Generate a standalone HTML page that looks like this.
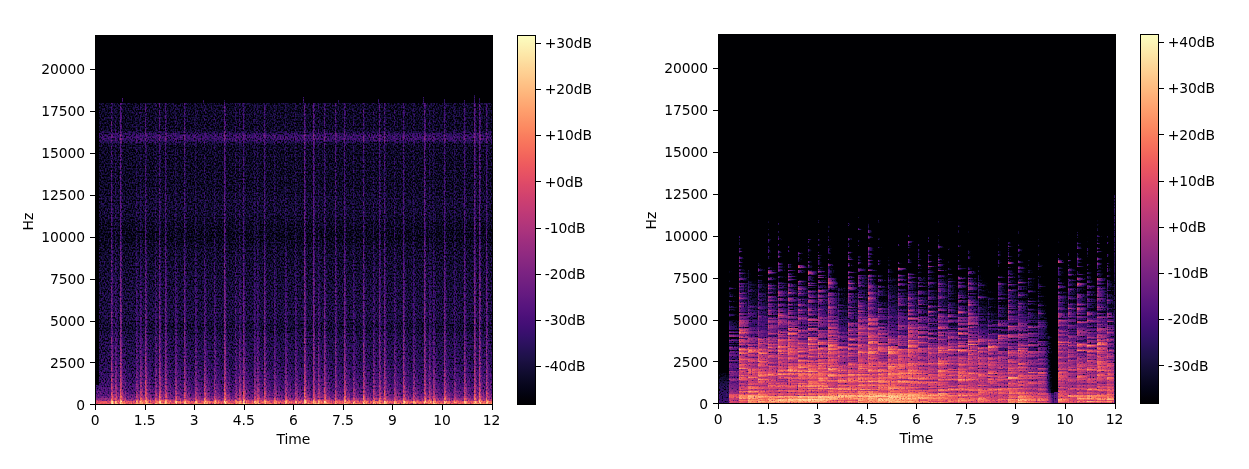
<!DOCTYPE html>
<html><head><meta charset="utf-8"><title>Spectrograms</title>
<style>html,body{margin:0;padding:0;background:#fff;overflow:hidden}svg{display:block}text{font-family:"DejaVu Sans","Liberation Sans",sans-serif;font-size:13.89px;fill:#000;letter-spacing:-0.08px}</style></head><body>
<svg width="1249" height="469" viewBox="0 0 1249 469">
<rect width="1249" height="469" fill="#fff"/>
<defs><linearGradient id="mg" x1="0" y1="1" x2="0" y2="0">
<stop offset="0.0000" stop-color="#000004"/>
<stop offset="0.0156" stop-color="#020109"/>
<stop offset="0.0312" stop-color="#030312"/>
<stop offset="0.0469" stop-color="#06051a"/>
<stop offset="0.0625" stop-color="#0a0822"/>
<stop offset="0.0781" stop-color="#0e0b2b"/>
<stop offset="0.0938" stop-color="#130d34"/>
<stop offset="0.1094" stop-color="#180f3d"/>
<stop offset="0.1250" stop-color="#1d1147"/>
<stop offset="0.1406" stop-color="#221150"/>
<stop offset="0.1562" stop-color="#29115a"/>
<stop offset="0.1719" stop-color="#2f1163"/>
<stop offset="0.1875" stop-color="#36106b"/>
<stop offset="0.2031" stop-color="#3d0f71"/>
<stop offset="0.2188" stop-color="#440f76"/>
<stop offset="0.2344" stop-color="#4a1079"/>
<stop offset="0.2500" stop-color="#51127c"/>
<stop offset="0.2656" stop-color="#57157e"/>
<stop offset="0.2812" stop-color="#5d177f"/>
<stop offset="0.2969" stop-color="#641a80"/>
<stop offset="0.3125" stop-color="#6a1c81"/>
<stop offset="0.3281" stop-color="#701f81"/>
<stop offset="0.3438" stop-color="#762181"/>
<stop offset="0.3594" stop-color="#7c2382"/>
<stop offset="0.3750" stop-color="#832681"/>
<stop offset="0.3906" stop-color="#892881"/>
<stop offset="0.4062" stop-color="#902a81"/>
<stop offset="0.4219" stop-color="#962c80"/>
<stop offset="0.4375" stop-color="#9c2e7f"/>
<stop offset="0.4531" stop-color="#a3307e"/>
<stop offset="0.4688" stop-color="#aa337d"/>
<stop offset="0.4844" stop-color="#b0357b"/>
<stop offset="0.5000" stop-color="#b73779"/>
<stop offset="0.5156" stop-color="#bd3977"/>
<stop offset="0.5312" stop-color="#c43c75"/>
<stop offset="0.5469" stop-color="#ca3e72"/>
<stop offset="0.5625" stop-color="#d0416f"/>
<stop offset="0.5781" stop-color="#d6456c"/>
<stop offset="0.5938" stop-color="#dc4869"/>
<stop offset="0.6094" stop-color="#e24d66"/>
<stop offset="0.6250" stop-color="#e75263"/>
<stop offset="0.6406" stop-color="#eb5760"/>
<stop offset="0.6562" stop-color="#ef5d5e"/>
<stop offset="0.6719" stop-color="#f2645c"/>
<stop offset="0.6875" stop-color="#f56b5c"/>
<stop offset="0.7031" stop-color="#f7725c"/>
<stop offset="0.7188" stop-color="#f9795d"/>
<stop offset="0.7344" stop-color="#fa815f"/>
<stop offset="0.7500" stop-color="#fc8961"/>
<stop offset="0.7656" stop-color="#fc9065"/>
<stop offset="0.7812" stop-color="#fd9869"/>
<stop offset="0.7969" stop-color="#fe9f6d"/>
<stop offset="0.8125" stop-color="#fea772"/>
<stop offset="0.8281" stop-color="#feae77"/>
<stop offset="0.8438" stop-color="#feb67c"/>
<stop offset="0.8594" stop-color="#febd82"/>
<stop offset="0.8750" stop-color="#fec488"/>
<stop offset="0.8906" stop-color="#fecc8f"/>
<stop offset="0.9062" stop-color="#fed395"/>
<stop offset="0.9219" stop-color="#fdda9c"/>
<stop offset="0.9375" stop-color="#fde2a3"/>
<stop offset="0.9531" stop-color="#fde9aa"/>
<stop offset="0.9688" stop-color="#fcf0b2"/>
<stop offset="0.9844" stop-color="#fcf7b9"/>
<stop offset="1.0000" stop-color="#fcfdbf"/>
</linearGradient>
<filter id="cm0" filterUnits="userSpaceOnUse" x="96" y="36" width="396" height="368" color-interpolation-filters="sRGB">
<feTurbulence type="fractalNoise" baseFrequency="0.71 0.57" numOctaves="1" seed="7" result="n"/><feColorMatrix in="n" type="matrix" values="1 0 0 0 0  1 0 0 0 0  1 0 0 0 0  0 0 0 0 1"/><feComponentTransfer result="no"><feFuncR type="table" tableValues="0.000 0.000 0.000 0.000 0.000 0.000 0.000 0.069 0.149 0.223 0.292 0.355 0.414 0.468 0.518 0.563 0.604 0.642 0.676 0.708 0.737 0.763 0.787 0.810 0.831 0.850 0.868 0.885 0.900 0.915 0.929 0.942 0.955 0.967 0.978 0.989 0.999 1.000 1.000 1.000 1.000"/><feFuncG type="table" tableValues="0.000 0.000 0.000 0.000 0.000 0.000 0.000 0.069 0.149 0.223 0.292 0.355 0.414 0.468 0.518 0.563 0.604 0.642 0.676 0.708 0.737 0.763 0.787 0.810 0.831 0.850 0.868 0.885 0.900 0.915 0.929 0.942 0.955 0.967 0.978 0.989 0.999 1.000 1.000 1.000 1.000"/><feFuncB type="table" tableValues="0.000 0.000 0.000 0.000 0.000 0.000 0.000 0.069 0.149 0.223 0.292 0.355 0.414 0.468 0.518 0.563 0.604 0.642 0.676 0.708 0.737 0.763 0.787 0.810 0.831 0.850 0.868 0.885 0.900 0.915 0.929 0.942 0.955 0.967 0.978 0.989 0.999 1.000 1.000 1.000 1.000"/></feComponentTransfer><feComposite in="SourceGraphic" in2="no" operator="arithmetic" k1="-0.0000" k2="1.1765" k3="0.5500" k4="-0.6015"/>
<feComponentTransfer><feFuncR type="table" tableValues="0.001 0.003 0.008 0.014 0.019 0.028 0.040 0.048 0.061 0.074 0.083 0.098 0.113 0.129 0.141 0.159 0.178 0.191 0.212 0.232 0.246 0.265 0.285 0.298 0.317 0.335 0.354 0.366 0.384 0.403 0.415 0.433 0.451 0.464 0.482 0.500 0.519 0.532 0.550 0.569 0.582 0.601 0.620 0.633 0.652 0.671 0.684 0.704 0.723 0.742 0.755 0.774 0.792 0.805 0.823 0.841 0.852 0.869 0.885 0.895 0.909 0.922 0.934 0.941 0.950 0.958 0.963 0.970 0.975 0.978 0.982 0.986 0.989 0.990 0.992 0.994 0.995 0.996 0.997 0.997 0.997 0.997 0.997 0.997 0.997 0.996 0.995 0.995 0.994 0.993 0.992 0.991 0.990 0.989 0.988 0.987"/><feFuncG type="table" tableValues="0.000 0.002 0.006 0.012 0.016 0.023 0.031 0.037 0.045 0.052 0.056 0.062 0.065 0.068 0.069 0.068 0.067 0.065 0.062 0.060 0.059 0.060 0.063 0.066 0.072 0.078 0.085 0.090 0.098 0.105 0.110 0.118 0.125 0.130 0.137 0.144 0.150 0.155 0.161 0.167 0.172 0.178 0.184 0.188 0.194 0.200 0.204 0.211 0.217 0.224 0.229 0.236 0.244 0.250 0.259 0.269 0.276 0.288 0.301 0.310 0.325 0.341 0.359 0.371 0.391 0.411 0.425 0.447 0.469 0.484 0.506 0.528 0.550 0.565 0.588 0.610 0.624 0.646 0.668 0.683 0.705 0.726 0.741 0.762 0.784 0.806 0.820 0.841 0.863 0.877 0.899 0.920 0.934 0.956 0.977 0.991"/><feFuncB type="table" tableValues="0.014 0.024 0.045 0.069 0.085 0.109 0.134 0.150 0.176 0.203 0.221 0.248 0.277 0.305 0.325 0.353 0.379 0.396 0.419 0.438 0.448 0.462 0.472 0.478 0.485 0.491 0.496 0.498 0.501 0.503 0.505 0.506 0.507 0.508 0.508 0.508 0.507 0.507 0.506 0.504 0.503 0.500 0.498 0.495 0.492 0.487 0.484 0.479 0.473 0.467 0.463 0.455 0.448 0.442 0.434 0.425 0.419 0.409 0.400 0.394 0.385 0.377 0.371 0.367 0.362 0.360 0.359 0.360 0.363 0.366 0.372 0.379 0.388 0.395 0.406 0.419 0.427 0.441 0.456 0.467 0.483 0.499 0.511 0.529 0.547 0.566 0.579 0.599 0.619 0.633 0.654 0.676 0.690 0.712 0.735 0.750"/><feFuncA type="linear" slope="0" intercept="1"/></feComponentTransfer>
</filter>
<clipPath id="cl0"><rect x="96" y="36" width="396" height="368"/></clipPath>
<linearGradient id="bL" gradientUnits="userSpaceOnUse" x1="0" y1="35.5" x2="0" y2="404.5">
<stop offset="0.0000" stop-color="#000000"/>
<stop offset="0.1832" stop-color="#000000"/>
<stop offset="0.1837" stop-color="#3a3a3a"/>
<stop offset="0.2571" stop-color="#3a3a3a"/>
<stop offset="0.2707" stop-color="#535353"/>
<stop offset="0.2821" stop-color="#535353"/>
<stop offset="0.2957" stop-color="#3a3a3a"/>
<stop offset="0.4104" stop-color="#3a3a3a"/>
<stop offset="0.4422" stop-color="#3e3e3e"/>
<stop offset="0.4830" stop-color="#3e3e3e"/>
<stop offset="0.5102" stop-color="#393939"/>
<stop offset="0.5465" stop-color="#353535"/>
<stop offset="0.5782" stop-color="#3c3c3c"/>
<stop offset="0.6825" stop-color="#414141"/>
<stop offset="0.7642" stop-color="#454545"/>
<stop offset="0.7914" stop-color="#3e3e3e"/>
<stop offset="0.8186" stop-color="#464646"/>
<stop offset="0.8866" stop-color="#4a4a4a"/>
<stop offset="0.9320" stop-color="#525252"/>
<stop offset="0.9637" stop-color="#5f5f5f"/>
<stop offset="0.9796" stop-color="#6e6e6e"/>
<stop offset="0.9878" stop-color="#868686"/>
<stop offset="0.9918" stop-color="#adadad"/>
<stop offset="1.0000" stop-color="#bababa"/>
</linearGradient>
<linearGradient id="sU" gradientUnits="userSpaceOnUse" x1="0" y1="35.5" x2="0" y2="404.5"><stop offset="0.0000" stop-color="#fff" stop-opacity="0.000"/><stop offset="0.1832" stop-color="#fff" stop-opacity="0.000"/><stop offset="0.1837" stop-color="#fff" stop-opacity="0.220"/><stop offset="0.9909" stop-color="#fff" stop-opacity="0.220"/><stop offset="1.0000" stop-color="#fff" stop-opacity="0.100"/></linearGradient>
<linearGradient id="sL" gradientUnits="userSpaceOnUse" x1="0" y1="35.5" x2="0" y2="404.5"><stop offset="0.0000" stop-color="#fff" stop-opacity="0.000"/><stop offset="0.4558" stop-color="#fff" stop-opacity="0.000"/><stop offset="0.5918" stop-color="#fff" stop-opacity="0.040"/><stop offset="0.6825" stop-color="#fff" stop-opacity="0.080"/><stop offset="0.8186" stop-color="#fff" stop-opacity="0.120"/><stop offset="0.9093" stop-color="#fff" stop-opacity="0.160"/><stop offset="0.9546" stop-color="#fff" stop-opacity="0.220"/><stop offset="0.9773" stop-color="#fff" stop-opacity="0.290"/><stop offset="0.9887" stop-color="#fff" stop-opacity="0.360"/><stop offset="0.9918" stop-color="#fff" stop-opacity="0.600"/><stop offset="1.0000" stop-color="#fff" stop-opacity="0.600"/></linearGradient>
<linearGradient id="sT" gradientUnits="userSpaceOnUse" x1="0" y1="35.5" x2="0" y2="404.5"><stop offset="0.0000" stop-color="#fff" stop-opacity="0.000"/><stop offset="0.7732" stop-color="#fff" stop-opacity="0.000"/><stop offset="0.8866" stop-color="#fff" stop-opacity="0.040"/><stop offset="0.9546" stop-color="#fff" stop-opacity="0.090"/><stop offset="0.9819" stop-color="#fff" stop-opacity="0.130"/><stop offset="0.9909" stop-color="#fff" stop-opacity="0.200"/><stop offset="1.0000" stop-color="#fff" stop-opacity="0.200"/></linearGradient>
<filter id="cm1" filterUnits="userSpaceOnUse" x="719" y="35" width="396" height="368" color-interpolation-filters="sRGB">
<feTurbulence type="fractalNoise" baseFrequency="0.72 0.66" numOctaves="1" seed="11" result="n"/><feColorMatrix in="n" type="matrix" values="1 0 0 0 0  1 0 0 0 0  1 0 0 0 0  0 0 0 0 1"/><feComponentTransfer result="no"><feFuncR type="table" tableValues="0.000 0.000 0.000 0.000 0.000 0.000 0.000 0.000 0.000 0.097 0.195 0.295 0.409 0.523 0.587 0.639 0.677 0.692 0.708 0.723 0.739 0.750 0.761 0.773 0.784 0.795 0.807 0.816 0.826 0.835 0.845 0.854 0.864 0.866 0.869 0.872 0.875 0.878 0.881 0.884 0.886"/><feFuncG type="table" tableValues="0.000 0.000 0.000 0.000 0.000 0.000 0.000 0.000 0.000 0.097 0.195 0.295 0.409 0.523 0.587 0.639 0.677 0.692 0.708 0.723 0.739 0.750 0.761 0.773 0.784 0.795 0.807 0.816 0.826 0.835 0.845 0.854 0.864 0.866 0.869 0.872 0.875 0.878 0.881 0.884 0.886"/><feFuncB type="table" tableValues="0.000 0.000 0.000 0.000 0.000 0.000 0.000 0.000 0.000 0.097 0.195 0.295 0.409 0.523 0.587 0.639 0.677 0.692 0.708 0.723 0.739 0.750 0.761 0.773 0.784 0.795 0.807 0.816 0.826 0.835 0.845 0.854 0.864 0.866 0.869 0.872 0.875 0.878 0.881 0.884 0.886"/></feComponentTransfer><feComposite in="SourceGraphic" in2="no" operator="arithmetic" k1="-0.1100" k2="1.2615" k3="0.5500" k4="-0.6015"/>
<feComponentTransfer><feFuncR type="table" tableValues="0.001 0.003 0.008 0.014 0.019 0.028 0.040 0.048 0.061 0.074 0.083 0.098 0.113 0.129 0.141 0.159 0.178 0.191 0.212 0.232 0.246 0.265 0.285 0.298 0.317 0.335 0.354 0.366 0.384 0.403 0.415 0.433 0.451 0.464 0.482 0.500 0.519 0.532 0.550 0.569 0.582 0.601 0.620 0.633 0.652 0.671 0.684 0.704 0.723 0.742 0.755 0.774 0.792 0.805 0.823 0.841 0.852 0.869 0.885 0.895 0.909 0.922 0.934 0.941 0.950 0.958 0.963 0.970 0.975 0.978 0.982 0.986 0.989 0.990 0.992 0.994 0.995 0.996 0.997 0.997 0.997 0.997 0.997 0.997 0.997 0.996 0.995 0.995 0.994 0.993 0.992 0.991 0.990 0.989 0.988 0.987"/><feFuncG type="table" tableValues="0.000 0.002 0.006 0.012 0.016 0.023 0.031 0.037 0.045 0.052 0.056 0.062 0.065 0.068 0.069 0.068 0.067 0.065 0.062 0.060 0.059 0.060 0.063 0.066 0.072 0.078 0.085 0.090 0.098 0.105 0.110 0.118 0.125 0.130 0.137 0.144 0.150 0.155 0.161 0.167 0.172 0.178 0.184 0.188 0.194 0.200 0.204 0.211 0.217 0.224 0.229 0.236 0.244 0.250 0.259 0.269 0.276 0.288 0.301 0.310 0.325 0.341 0.359 0.371 0.391 0.411 0.425 0.447 0.469 0.484 0.506 0.528 0.550 0.565 0.588 0.610 0.624 0.646 0.668 0.683 0.705 0.726 0.741 0.762 0.784 0.806 0.820 0.841 0.863 0.877 0.899 0.920 0.934 0.956 0.977 0.991"/><feFuncB type="table" tableValues="0.014 0.024 0.045 0.069 0.085 0.109 0.134 0.150 0.176 0.203 0.221 0.248 0.277 0.305 0.325 0.353 0.379 0.396 0.419 0.438 0.448 0.462 0.472 0.478 0.485 0.491 0.496 0.498 0.501 0.503 0.505 0.506 0.507 0.508 0.508 0.508 0.507 0.507 0.506 0.504 0.503 0.500 0.498 0.495 0.492 0.487 0.484 0.479 0.473 0.467 0.463 0.455 0.448 0.442 0.434 0.425 0.419 0.409 0.400 0.394 0.385 0.377 0.371 0.367 0.362 0.360 0.359 0.360 0.363 0.366 0.372 0.379 0.388 0.395 0.406 0.419 0.427 0.441 0.456 0.467 0.483 0.499 0.511 0.529 0.547 0.566 0.579 0.599 0.619 0.633 0.654 0.676 0.690 0.712 0.735 0.750"/><feFuncA type="linear" slope="0" intercept="1"/></feComponentTransfer>
</filter>
<clipPath id="cl1"><rect x="719" y="35" width="396" height="368"/></clipPath>
<linearGradient id="hw"><stop offset="0" stop-color="#fff" stop-opacity="1"/><stop offset="0.25" stop-color="#fff" stop-opacity="0.88"/><stop offset="1" stop-color="#fff" stop-opacity="0.58"/></linearGradient>
<linearGradient id="hx"><stop offset="0" stop-color="#fff" stop-opacity="1"/><stop offset="0.3" stop-color="#fff" stop-opacity="0.75"/><stop offset="1" stop-color="#fff" stop-opacity="0.2"/></linearGradient>
<linearGradient id="hy"><stop offset="0" stop-color="#fff" stop-opacity="1"/><stop offset="0.3" stop-color="#fff" stop-opacity="0.6"/><stop offset="0.8" stop-color="#fff" stop-opacity="0.05"/><stop offset="1" stop-color="#fff" stop-opacity="0"/></linearGradient>
<linearGradient id="hv"><stop offset="0" stop-color="#fff" stop-opacity="1"/><stop offset="1" stop-color="#fff" stop-opacity="0.6"/></linearGradient>
<linearGradient id="hk"><stop offset="0" stop-color="#000" stop-opacity="0"/><stop offset="1" stop-color="#000" stop-opacity="1"/></linearGradient>
<linearGradient id="vk" x1="0" y1="0" x2="0" y2="1"><stop offset="0" stop-color="#000" stop-opacity="1"/><stop offset="0.6" stop-color="#000" stop-opacity="0.8"/><stop offset="1" stop-color="#000" stop-opacity="0"/></linearGradient>
<linearGradient id="ri" gradientUnits="userSpaceOnUse" x1="0" y1="403.5" x2="0" y2="34.5"><stop offset="0.0000" stop-color="#565656"/><stop offset="0.0544" stop-color="#454545"/><stop offset="0.0816" stop-color="#313131"/><stop offset="0.0907" stop-color="#000000"/><stop offset="1.0000" stop-color="#000000"/></linearGradient>
<linearGradient id="r1" gradientUnits="userSpaceOnUse" x1="0" y1="403.5" x2="0" y2="34.5"><stop offset="0.0000" stop-color="#b0b0b0"/><stop offset="0.0181" stop-color="#9f9f9f"/><stop offset="0.0363" stop-color="#818181"/><stop offset="0.0680" stop-color="#6a6a6a"/><stop offset="0.1134" stop-color="#4c4c4c"/><stop offset="0.1587" stop-color="#333333"/><stop offset="0.2059" stop-color="#262626"/><stop offset="0.2550" stop-color="#171717"/><stop offset="0.3040" stop-color="#0a0a0a"/><stop offset="0.3383" stop-color="#000000"/><stop offset="0.3677" stop-color="#000000"/><stop offset="1.0000" stop-color="#000000"/></linearGradient>
<linearGradient id="r2" gradientUnits="userSpaceOnUse" x1="0" y1="403.5" x2="0" y2="34.5"><stop offset="0.0000" stop-color="#bdbdbd"/><stop offset="0.0181" stop-color="#b0b0b0"/><stop offset="0.0363" stop-color="#969696"/><stop offset="0.0680" stop-color="#868686"/><stop offset="0.1134" stop-color="#727272"/><stop offset="0.1587" stop-color="#5e5e5e"/><stop offset="0.2062" stop-color="#515151"/><stop offset="0.2559" stop-color="#424242"/><stop offset="0.3056" stop-color="#353535"/><stop offset="0.3404" stop-color="#282828"/><stop offset="0.3702" stop-color="#000000"/><stop offset="1.0000" stop-color="#000000"/></linearGradient>
<linearGradient id="r3" gradientUnits="userSpaceOnUse" x1="0" y1="403.5" x2="0" y2="34.5"><stop offset="0.0000" stop-color="#bebebe"/><stop offset="0.0181" stop-color="#b1b1b1"/><stop offset="0.0363" stop-color="#979797"/><stop offset="0.0680" stop-color="#888888"/><stop offset="0.1134" stop-color="#747474"/><stop offset="0.1587" stop-color="#616161"/><stop offset="0.2042" stop-color="#545454"/><stop offset="0.2497" stop-color="#444444"/><stop offset="0.2952" stop-color="#373737"/><stop offset="0.3270" stop-color="#2a2a2a"/><stop offset="0.3543" stop-color="#000000"/><stop offset="1.0000" stop-color="#000000"/></linearGradient>
<linearGradient id="r4" gradientUnits="userSpaceOnUse" x1="0" y1="403.5" x2="0" y2="34.5"><stop offset="0.0000" stop-color="#bfbfbf"/><stop offset="0.0181" stop-color="#b2b2b2"/><stop offset="0.0363" stop-color="#989898"/><stop offset="0.0680" stop-color="#898989"/><stop offset="0.1134" stop-color="#767676"/><stop offset="0.1587" stop-color="#636363"/><stop offset="0.2035" stop-color="#565656"/><stop offset="0.2478" stop-color="#474747"/><stop offset="0.2920" stop-color="#3a3a3a"/><stop offset="0.3230" stop-color="#2d2d2d"/><stop offset="0.3495" stop-color="#000000"/><stop offset="1.0000" stop-color="#000000"/></linearGradient>
<linearGradient id="r5" gradientUnits="userSpaceOnUse" x1="0" y1="403.5" x2="0" y2="34.5"><stop offset="0.0000" stop-color="#bdbdbd"/><stop offset="0.0181" stop-color="#b0b0b0"/><stop offset="0.0363" stop-color="#969696"/><stop offset="0.0680" stop-color="#878787"/><stop offset="0.1134" stop-color="#737373"/><stop offset="0.1587" stop-color="#5f5f5f"/><stop offset="0.2013" stop-color="#525252"/><stop offset="0.2410" stop-color="#434343"/><stop offset="0.2808" stop-color="#363636"/><stop offset="0.3086" stop-color="#292929"/><stop offset="0.3324" stop-color="#000000"/><stop offset="1.0000" stop-color="#000000"/></linearGradient>
<linearGradient id="r6" gradientUnits="userSpaceOnUse" x1="0" y1="403.5" x2="0" y2="34.5"><stop offset="0.0000" stop-color="#bdbdbd"/><stop offset="0.0181" stop-color="#b0b0b0"/><stop offset="0.0363" stop-color="#959595"/><stop offset="0.0680" stop-color="#858585"/><stop offset="0.1134" stop-color="#717171"/><stop offset="0.1587" stop-color="#5d5d5d"/><stop offset="0.2050" stop-color="#505050"/><stop offset="0.2523" stop-color="#414141"/><stop offset="0.2995" stop-color="#343434"/><stop offset="0.3326" stop-color="#272727"/><stop offset="0.3609" stop-color="#000000"/><stop offset="1.0000" stop-color="#000000"/></linearGradient>
<linearGradient id="r7" gradientUnits="userSpaceOnUse" x1="0" y1="403.5" x2="0" y2="34.5"><stop offset="0.0000" stop-color="#bebebe"/><stop offset="0.0181" stop-color="#b1b1b1"/><stop offset="0.0363" stop-color="#979797"/><stop offset="0.0680" stop-color="#878787"/><stop offset="0.1134" stop-color="#747474"/><stop offset="0.1587" stop-color="#606060"/><stop offset="0.2011" stop-color="#535353"/><stop offset="0.2404" stop-color="#444444"/><stop offset="0.2798" stop-color="#373737"/><stop offset="0.3073" stop-color="#2a2a2a"/><stop offset="0.3309" stop-color="#000000"/><stop offset="1.0000" stop-color="#000000"/></linearGradient>
<linearGradient id="r8" gradientUnits="userSpaceOnUse" x1="0" y1="403.5" x2="0" y2="34.5"><stop offset="0.0000" stop-color="#bfbfbf"/><stop offset="0.0181" stop-color="#b2b2b2"/><stop offset="0.0363" stop-color="#999999"/><stop offset="0.0680" stop-color="#8a8a8a"/><stop offset="0.1134" stop-color="#777777"/><stop offset="0.1587" stop-color="#646464"/><stop offset="0.2019" stop-color="#575757"/><stop offset="0.2428" stop-color="#484848"/><stop offset="0.2837" stop-color="#3b3b3b"/><stop offset="0.3123" stop-color="#2e2e2e"/><stop offset="0.3369" stop-color="#000000"/><stop offset="1.0000" stop-color="#000000"/></linearGradient>
<linearGradient id="r9" gradientUnits="userSpaceOnUse" x1="0" y1="403.5" x2="0" y2="34.5"><stop offset="0.0000" stop-color="#bebebe"/><stop offset="0.0181" stop-color="#b1b1b1"/><stop offset="0.0363" stop-color="#979797"/><stop offset="0.0680" stop-color="#878787"/><stop offset="0.1134" stop-color="#747474"/><stop offset="0.1587" stop-color="#606060"/><stop offset="0.2020" stop-color="#535353"/><stop offset="0.2432" stop-color="#444444"/><stop offset="0.2844" stop-color="#373737"/><stop offset="0.3133" stop-color="#2a2a2a"/><stop offset="0.3380" stop-color="#000000"/><stop offset="1.0000" stop-color="#000000"/></linearGradient>
<linearGradient id="r10" gradientUnits="userSpaceOnUse" x1="0" y1="403.5" x2="0" y2="34.5"><stop offset="0.0000" stop-color="#bebebe"/><stop offset="0.0181" stop-color="#b1b1b1"/><stop offset="0.0363" stop-color="#989898"/><stop offset="0.0680" stop-color="#898989"/><stop offset="0.1134" stop-color="#757575"/><stop offset="0.1587" stop-color="#626262"/><stop offset="0.2039" stop-color="#555555"/><stop offset="0.2490" stop-color="#464646"/><stop offset="0.2941" stop-color="#393939"/><stop offset="0.3257" stop-color="#2c2c2c"/><stop offset="0.3527" stop-color="#000000"/><stop offset="1.0000" stop-color="#000000"/></linearGradient>
<linearGradient id="r11" gradientUnits="userSpaceOnUse" x1="0" y1="403.5" x2="0" y2="34.5"><stop offset="0.0000" stop-color="#bebebe"/><stop offset="0.0181" stop-color="#b1b1b1"/><stop offset="0.0363" stop-color="#979797"/><stop offset="0.0680" stop-color="#888888"/><stop offset="0.1134" stop-color="#757575"/><stop offset="0.1587" stop-color="#626262"/><stop offset="0.2018" stop-color="#555555"/><stop offset="0.2426" stop-color="#454545"/><stop offset="0.2834" stop-color="#383838"/><stop offset="0.3120" stop-color="#2b2b2b"/><stop offset="0.3365" stop-color="#000000"/><stop offset="1.0000" stop-color="#000000"/></linearGradient>
<linearGradient id="r12" gradientUnits="userSpaceOnUse" x1="0" y1="403.5" x2="0" y2="34.5"><stop offset="0.0000" stop-color="#bdbdbd"/><stop offset="0.0181" stop-color="#b0b0b0"/><stop offset="0.0363" stop-color="#969696"/><stop offset="0.0680" stop-color="#878787"/><stop offset="0.1134" stop-color="#737373"/><stop offset="0.1587" stop-color="#5f5f5f"/><stop offset="0.2017" stop-color="#525252"/><stop offset="0.2424" stop-color="#434343"/><stop offset="0.2830" stop-color="#363636"/><stop offset="0.3114" stop-color="#292929"/><stop offset="0.3358" stop-color="#000000"/><stop offset="1.0000" stop-color="#000000"/></linearGradient>
<linearGradient id="r13" gradientUnits="userSpaceOnUse" x1="0" y1="403.5" x2="0" y2="34.5"><stop offset="0.0000" stop-color="#bebebe"/><stop offset="0.0181" stop-color="#b0b0b0"/><stop offset="0.0363" stop-color="#969696"/><stop offset="0.0680" stop-color="#878787"/><stop offset="0.1134" stop-color="#737373"/><stop offset="0.1587" stop-color="#5f5f5f"/><stop offset="0.2010" stop-color="#525252"/><stop offset="0.2401" stop-color="#434343"/><stop offset="0.2793" stop-color="#363636"/><stop offset="0.3067" stop-color="#292929"/><stop offset="0.3302" stop-color="#000000"/><stop offset="1.0000" stop-color="#000000"/></linearGradient>
<linearGradient id="r14" gradientUnits="userSpaceOnUse" x1="0" y1="403.5" x2="0" y2="34.5"><stop offset="0.0000" stop-color="#bdbdbd"/><stop offset="0.0181" stop-color="#b0b0b0"/><stop offset="0.0363" stop-color="#969696"/><stop offset="0.0680" stop-color="#868686"/><stop offset="0.1134" stop-color="#727272"/><stop offset="0.1587" stop-color="#5e5e5e"/><stop offset="0.2066" stop-color="#515151"/><stop offset="0.2569" stop-color="#424242"/><stop offset="0.3072" stop-color="#353535"/><stop offset="0.3424" stop-color="#282828"/><stop offset="0.3726" stop-color="#000000"/><stop offset="1.0000" stop-color="#000000"/></linearGradient>
<linearGradient id="r15" gradientUnits="userSpaceOnUse" x1="0" y1="403.5" x2="0" y2="34.5"><stop offset="0.0000" stop-color="#bfbfbf"/><stop offset="0.0181" stop-color="#b3b3b3"/><stop offset="0.0363" stop-color="#999999"/><stop offset="0.0680" stop-color="#8a8a8a"/><stop offset="0.1134" stop-color="#787878"/><stop offset="0.1587" stop-color="#656565"/><stop offset="0.2013" stop-color="#585858"/><stop offset="0.2410" stop-color="#494949"/><stop offset="0.2808" stop-color="#3c3c3c"/><stop offset="0.3086" stop-color="#2f2f2f"/><stop offset="0.3325" stop-color="#000000"/><stop offset="1.0000" stop-color="#000000"/></linearGradient>
<linearGradient id="r16" gradientUnits="userSpaceOnUse" x1="0" y1="403.5" x2="0" y2="34.5"><stop offset="0.0000" stop-color="#bdbdbd"/><stop offset="0.0181" stop-color="#afafaf"/><stop offset="0.0363" stop-color="#959595"/><stop offset="0.0680" stop-color="#858585"/><stop offset="0.1134" stop-color="#717171"/><stop offset="0.1587" stop-color="#5d5d5d"/><stop offset="0.2014" stop-color="#505050"/><stop offset="0.2414" stop-color="#404040"/><stop offset="0.2813" stop-color="#333333"/><stop offset="0.3093" stop-color="#262626"/><stop offset="0.3333" stop-color="#000000"/><stop offset="1.0000" stop-color="#000000"/></linearGradient>
<linearGradient id="r17" gradientUnits="userSpaceOnUse" x1="0" y1="403.5" x2="0" y2="34.5"><stop offset="0.0000" stop-color="#bebebe"/><stop offset="0.0181" stop-color="#b2b2b2"/><stop offset="0.0363" stop-color="#989898"/><stop offset="0.0680" stop-color="#898989"/><stop offset="0.1134" stop-color="#767676"/><stop offset="0.1587" stop-color="#636363"/><stop offset="0.2053" stop-color="#565656"/><stop offset="0.2531" stop-color="#464646"/><stop offset="0.3009" stop-color="#393939"/><stop offset="0.3343" stop-color="#2c2c2c"/><stop offset="0.3630" stop-color="#000000"/><stop offset="1.0000" stop-color="#000000"/></linearGradient>
<linearGradient id="r18" gradientUnits="userSpaceOnUse" x1="0" y1="403.5" x2="0" y2="34.5"><stop offset="0.0000" stop-color="#bdbdbd"/><stop offset="0.0181" stop-color="#afafaf"/><stop offset="0.0363" stop-color="#959595"/><stop offset="0.0680" stop-color="#858585"/><stop offset="0.1134" stop-color="#717171"/><stop offset="0.1587" stop-color="#5d5d5d"/><stop offset="0.2039" stop-color="#505050"/><stop offset="0.2490" stop-color="#404040"/><stop offset="0.2940" stop-color="#333333"/><stop offset="0.3256" stop-color="#262626"/><stop offset="0.3526" stop-color="#000000"/><stop offset="1.0000" stop-color="#000000"/></linearGradient>
<linearGradient id="r19" gradientUnits="userSpaceOnUse" x1="0" y1="403.5" x2="0" y2="34.5"><stop offset="0.0000" stop-color="#bdbdbd"/><stop offset="0.0181" stop-color="#afafaf"/><stop offset="0.0363" stop-color="#959595"/><stop offset="0.0680" stop-color="#858585"/><stop offset="0.1134" stop-color="#707070"/><stop offset="0.1587" stop-color="#5c5c5c"/><stop offset="0.2035" stop-color="#4f4f4f"/><stop offset="0.2477" stop-color="#404040"/><stop offset="0.2919" stop-color="#333333"/><stop offset="0.3229" stop-color="#262626"/><stop offset="0.3494" stop-color="#000000"/><stop offset="1.0000" stop-color="#000000"/></linearGradient>
<linearGradient id="r20" gradientUnits="userSpaceOnUse" x1="0" y1="403.5" x2="0" y2="34.5"><stop offset="0.0000" stop-color="#bababa"/><stop offset="0.0181" stop-color="#acacac"/><stop offset="0.0363" stop-color="#919191"/><stop offset="0.0680" stop-color="#808080"/><stop offset="0.1134" stop-color="#6a6a6a"/><stop offset="0.1587" stop-color="#555555"/><stop offset="0.2067" stop-color="#484848"/><stop offset="0.2573" stop-color="#393939"/><stop offset="0.3079" stop-color="#2c2c2c"/><stop offset="0.3433" stop-color="#1f1f1f"/><stop offset="0.3737" stop-color="#000000"/><stop offset="1.0000" stop-color="#000000"/></linearGradient>
<linearGradient id="r21" gradientUnits="userSpaceOnUse" x1="0" y1="403.5" x2="0" y2="34.5"><stop offset="0.0000" stop-color="#b9b9b9"/><stop offset="0.0181" stop-color="#ababab"/><stop offset="0.0363" stop-color="#909090"/><stop offset="0.0680" stop-color="#7e7e7e"/><stop offset="0.1134" stop-color="#676767"/><stop offset="0.1587" stop-color="#525252"/><stop offset="0.2055" stop-color="#454545"/><stop offset="0.2536" stop-color="#363636"/><stop offset="0.3017" stop-color="#282828"/><stop offset="0.3353" stop-color="#1b1b1b"/><stop offset="0.3642" stop-color="#000000"/><stop offset="1.0000" stop-color="#000000"/></linearGradient>
<linearGradient id="r22" gradientUnits="userSpaceOnUse" x1="0" y1="403.5" x2="0" y2="34.5"><stop offset="0.0000" stop-color="#bbbbbb"/><stop offset="0.0181" stop-color="#adadad"/><stop offset="0.0363" stop-color="#929292"/><stop offset="0.0680" stop-color="#818181"/><stop offset="0.1134" stop-color="#6c6c6c"/><stop offset="0.1587" stop-color="#575757"/><stop offset="0.2063" stop-color="#4a4a4a"/><stop offset="0.2560" stop-color="#3b3b3b"/><stop offset="0.3058" stop-color="#2e2e2e"/><stop offset="0.3406" stop-color="#212121"/><stop offset="0.3704" stop-color="#000000"/><stop offset="1.0000" stop-color="#000000"/></linearGradient>
<linearGradient id="r23" gradientUnits="userSpaceOnUse" x1="0" y1="403.5" x2="0" y2="34.5"><stop offset="0.0000" stop-color="#b9b9b9"/><stop offset="0.0181" stop-color="#aaaaaa"/><stop offset="0.0363" stop-color="#8f8f8f"/><stop offset="0.0680" stop-color="#7d7d7d"/><stop offset="0.1134" stop-color="#656565"/><stop offset="0.1587" stop-color="#4f4f4f"/><stop offset="0.2032" stop-color="#424242"/><stop offset="0.2468" stop-color="#333333"/><stop offset="0.2903" stop-color="#262626"/><stop offset="0.3208" stop-color="#191919"/><stop offset="0.3470" stop-color="#000000"/><stop offset="1.0000" stop-color="#000000"/></linearGradient>
<linearGradient id="r24" gradientUnits="userSpaceOnUse" x1="0" y1="403.5" x2="0" y2="34.5"><stop offset="0.0000" stop-color="#bbbbbb"/><stop offset="0.0181" stop-color="#adadad"/><stop offset="0.0363" stop-color="#939393"/><stop offset="0.0680" stop-color="#828282"/><stop offset="0.1134" stop-color="#6c6c6c"/><stop offset="0.1587" stop-color="#585858"/><stop offset="0.2027" stop-color="#4b4b4b"/><stop offset="0.2453" stop-color="#3c3c3c"/><stop offset="0.2879" stop-color="#2f2f2f"/><stop offset="0.3178" stop-color="#222222"/><stop offset="0.3433" stop-color="#000000"/><stop offset="1.0000" stop-color="#000000"/></linearGradient>
<linearGradient id="r25" gradientUnits="userSpaceOnUse" x1="0" y1="403.5" x2="0" y2="34.5"><stop offset="0.0000" stop-color="#bbbbbb"/><stop offset="0.0181" stop-color="#adadad"/><stop offset="0.0363" stop-color="#929292"/><stop offset="0.0680" stop-color="#818181"/><stop offset="0.1134" stop-color="#6b6b6b"/><stop offset="0.1587" stop-color="#565656"/><stop offset="0.2037" stop-color="#494949"/><stop offset="0.2483" stop-color="#3a3a3a"/><stop offset="0.2930" stop-color="#2d2d2d"/><stop offset="0.3242" stop-color="#202020"/><stop offset="0.3510" stop-color="#000000"/><stop offset="1.0000" stop-color="#000000"/></linearGradient>
<linearGradient id="r26" gradientUnits="userSpaceOnUse" x1="0" y1="403.5" x2="0" y2="34.5"><stop offset="0.0000" stop-color="#bbbbbb"/><stop offset="0.0181" stop-color="#adadad"/><stop offset="0.0363" stop-color="#929292"/><stop offset="0.0680" stop-color="#818181"/><stop offset="0.1134" stop-color="#6b6b6b"/><stop offset="0.1587" stop-color="#565656"/><stop offset="0.2033" stop-color="#494949"/><stop offset="0.2471" stop-color="#3a3a3a"/><stop offset="0.2909" stop-color="#2d2d2d"/><stop offset="0.3215" stop-color="#202020"/><stop offset="0.3478" stop-color="#000000"/><stop offset="1.0000" stop-color="#000000"/></linearGradient>
<linearGradient id="r27" gradientUnits="userSpaceOnUse" x1="0" y1="403.5" x2="0" y2="34.5"><stop offset="0.0000" stop-color="#b9b9b9"/><stop offset="0.0181" stop-color="#aaaaaa"/><stop offset="0.0363" stop-color="#8f8f8f"/><stop offset="0.0680" stop-color="#7d7d7d"/><stop offset="0.1134" stop-color="#656565"/><stop offset="0.1587" stop-color="#505050"/><stop offset="0.2006" stop-color="#434343"/><stop offset="0.2390" stop-color="#343434"/><stop offset="0.2773" stop-color="#272727"/><stop offset="0.3042" stop-color="#191919"/><stop offset="0.3272" stop-color="#000000"/><stop offset="1.0000" stop-color="#000000"/></linearGradient>
<linearGradient id="r28" gradientUnits="userSpaceOnUse" x1="0" y1="403.5" x2="0" y2="34.5"><stop offset="0.0000" stop-color="#b9b9b9"/><stop offset="0.0181" stop-color="#ababab"/><stop offset="0.0363" stop-color="#8f8f8f"/><stop offset="0.0680" stop-color="#7d7d7d"/><stop offset="0.1134" stop-color="#666666"/><stop offset="0.1587" stop-color="#505050"/><stop offset="0.2017" stop-color="#434343"/><stop offset="0.2423" stop-color="#343434"/><stop offset="0.2829" stop-color="#272727"/><stop offset="0.3113" stop-color="#1a1a1a"/><stop offset="0.3357" stop-color="#000000"/><stop offset="1.0000" stop-color="#000000"/></linearGradient>
<linearGradient id="r29" gradientUnits="userSpaceOnUse" x1="0" y1="403.5" x2="0" y2="34.5"><stop offset="0.0000" stop-color="#bbbbbb"/><stop offset="0.0181" stop-color="#adadad"/><stop offset="0.0363" stop-color="#939393"/><stop offset="0.0680" stop-color="#828282"/><stop offset="0.1134" stop-color="#6c6c6c"/><stop offset="0.1587" stop-color="#585858"/><stop offset="0.2043" stop-color="#4b4b4b"/><stop offset="0.2501" stop-color="#3c3c3c"/><stop offset="0.2959" stop-color="#2f2f2f"/><stop offset="0.3279" stop-color="#222222"/><stop offset="0.3554" stop-color="#000000"/><stop offset="1.0000" stop-color="#000000"/></linearGradient>
<linearGradient id="r30" gradientUnits="userSpaceOnUse" x1="0" y1="403.5" x2="0" y2="34.5"><stop offset="0.0000" stop-color="#bababa"/><stop offset="0.0181" stop-color="#ababab"/><stop offset="0.0363" stop-color="#909090"/><stop offset="0.0680" stop-color="#7e7e7e"/><stop offset="0.1134" stop-color="#676767"/><stop offset="0.1587" stop-color="#525252"/><stop offset="0.2039" stop-color="#454545"/><stop offset="0.2487" stop-color="#363636"/><stop offset="0.2936" stop-color="#292929"/><stop offset="0.3251" stop-color="#1c1c1c"/><stop offset="0.3520" stop-color="#000000"/><stop offset="1.0000" stop-color="#000000"/></linearGradient>
<linearGradient id="r31" gradientUnits="userSpaceOnUse" x1="0" y1="403.5" x2="0" y2="34.5"><stop offset="0.0000" stop-color="#b5b5b5"/><stop offset="0.0181" stop-color="#a5a5a5"/><stop offset="0.0363" stop-color="#898989"/><stop offset="0.0680" stop-color="#757575"/><stop offset="0.1134" stop-color="#5b5b5b"/><stop offset="0.1587" stop-color="#444444"/><stop offset="0.2055" stop-color="#373737"/><stop offset="0.2538" stop-color="#272727"/><stop offset="0.3020" stop-color="#1a1a1a"/><stop offset="0.3358" stop-color="#0d0d0d"/><stop offset="0.3647" stop-color="#000000"/><stop offset="1.0000" stop-color="#000000"/></linearGradient>
<linearGradient id="r32" gradientUnits="userSpaceOnUse" x1="0" y1="403.5" x2="0" y2="34.5"><stop offset="0.0000" stop-color="#b1b1b1"/><stop offset="0.0181" stop-color="#a1a1a1"/><stop offset="0.0363" stop-color="#838383"/><stop offset="0.0680" stop-color="#6d6d6d"/><stop offset="0.1134" stop-color="#4f4f4f"/><stop offset="0.1587" stop-color="#373737"/><stop offset="0.2062" stop-color="#2a2a2a"/><stop offset="0.2558" stop-color="#1b1b1b"/><stop offset="0.3054" stop-color="#0e0e0e"/><stop offset="0.3401" stop-color="#010101"/><stop offset="0.3699" stop-color="#000000"/><stop offset="1.0000" stop-color="#000000"/></linearGradient>
<linearGradient id="r33" gradientUnits="userSpaceOnUse" x1="0" y1="403.5" x2="0" y2="34.5"><stop offset="0.0000" stop-color="#ababab"/><stop offset="0.0181" stop-color="#999999"/><stop offset="0.0363" stop-color="#797979"/><stop offset="0.0680" stop-color="#5f5f5f"/><stop offset="0.1134" stop-color="#3d3d3d"/><stop offset="0.1587" stop-color="#232323"/><stop offset="0.2006" stop-color="#161616"/><stop offset="0.2391" stop-color="#060606"/><stop offset="0.2776" stop-color="#000000"/><stop offset="0.3045" stop-color="#000000"/><stop offset="0.3276" stop-color="#000000"/><stop offset="1.0000" stop-color="#000000"/></linearGradient>
<linearGradient id="r34" gradientUnits="userSpaceOnUse" x1="0" y1="403.5" x2="0" y2="34.5"><stop offset="0.0000" stop-color="#bababa"/><stop offset="0.0181" stop-color="#acacac"/><stop offset="0.0363" stop-color="#919191"/><stop offset="0.0680" stop-color="#808080"/><stop offset="0.1134" stop-color="#6a6a6a"/><stop offset="0.1587" stop-color="#555555"/><stop offset="0.2002" stop-color="#484848"/><stop offset="0.2379" stop-color="#393939"/><stop offset="0.2756" stop-color="#2c2c2c"/><stop offset="0.3020" stop-color="#1f1f1f"/><stop offset="0.3246" stop-color="#000000"/><stop offset="1.0000" stop-color="#000000"/></linearGradient>
<linearGradient id="r35" gradientUnits="userSpaceOnUse" x1="0" y1="403.5" x2="0" y2="34.5"><stop offset="0.0000" stop-color="#bbbbbb"/><stop offset="0.0181" stop-color="#adadad"/><stop offset="0.0363" stop-color="#929292"/><stop offset="0.0680" stop-color="#818181"/><stop offset="0.1134" stop-color="#6b6b6b"/><stop offset="0.1587" stop-color="#565656"/><stop offset="0.2054" stop-color="#494949"/><stop offset="0.2534" stop-color="#3a3a3a"/><stop offset="0.3015" stop-color="#2d2d2d"/><stop offset="0.3351" stop-color="#202020"/><stop offset="0.3639" stop-color="#000000"/><stop offset="1.0000" stop-color="#000000"/></linearGradient>
<linearGradient id="r36" gradientUnits="userSpaceOnUse" x1="0" y1="403.5" x2="0" y2="34.5"><stop offset="0.0000" stop-color="#bababa"/><stop offset="0.0181" stop-color="#ababab"/><stop offset="0.0363" stop-color="#909090"/><stop offset="0.0680" stop-color="#7e7e7e"/><stop offset="0.1134" stop-color="#676767"/><stop offset="0.1587" stop-color="#525252"/><stop offset="0.2013" stop-color="#454545"/><stop offset="0.2410" stop-color="#363636"/><stop offset="0.2808" stop-color="#292929"/><stop offset="0.3086" stop-color="#1c1c1c"/><stop offset="0.3325" stop-color="#000000"/><stop offset="1.0000" stop-color="#000000"/></linearGradient>
<linearGradient id="r37" gradientUnits="userSpaceOnUse" x1="0" y1="403.5" x2="0" y2="34.5"><stop offset="0.0000" stop-color="#bababa"/><stop offset="0.0181" stop-color="#acacac"/><stop offset="0.0363" stop-color="#919191"/><stop offset="0.0680" stop-color="#808080"/><stop offset="0.1134" stop-color="#6a6a6a"/><stop offset="0.1587" stop-color="#555555"/><stop offset="0.2017" stop-color="#484848"/><stop offset="0.2422" stop-color="#393939"/><stop offset="0.2827" stop-color="#2c2c2c"/><stop offset="0.3110" stop-color="#1f1f1f"/><stop offset="0.3354" stop-color="#000000"/><stop offset="1.0000" stop-color="#000000"/></linearGradient>
<linearGradient id="r38" gradientUnits="userSpaceOnUse" x1="0" y1="403.5" x2="0" y2="34.5"><stop offset="0.0000" stop-color="#bbbbbb"/><stop offset="0.0181" stop-color="#aeaeae"/><stop offset="0.0363" stop-color="#939393"/><stop offset="0.0680" stop-color="#828282"/><stop offset="0.1134" stop-color="#6d6d6d"/><stop offset="0.1587" stop-color="#585858"/><stop offset="0.2024" stop-color="#4b4b4b"/><stop offset="0.2444" stop-color="#3c3c3c"/><stop offset="0.2864" stop-color="#2f2f2f"/><stop offset="0.3157" stop-color="#222222"/><stop offset="0.3409" stop-color="#000000"/><stop offset="1.0000" stop-color="#000000"/></linearGradient>
<linearGradient id="r39" gradientUnits="userSpaceOnUse" x1="0" y1="403.5" x2="0" y2="34.5"><stop offset="0.0000" stop-color="#bbbbbb"/><stop offset="0.0181" stop-color="#adadad"/><stop offset="0.0363" stop-color="#929292"/><stop offset="0.0680" stop-color="#828282"/><stop offset="0.1134" stop-color="#6c6c6c"/><stop offset="0.1587" stop-color="#575757"/><stop offset="0.2034" stop-color="#4a4a4a"/><stop offset="0.2473" stop-color="#3b3b3b"/><stop offset="0.2912" stop-color="#2e2e2e"/><stop offset="0.3219" stop-color="#212121"/><stop offset="0.3482" stop-color="#000000"/><stop offset="1.0000" stop-color="#000000"/></linearGradient>
</defs>
<rect x="95.5" y="35.5" width="397" height="369" fill="#000004"/>
<g filter="url(#cm0)"><g clip-path="url(#cl0)" shape-rendering="crispEdges">
<rect x="96" y="36" width="396" height="368" fill="#000"/>
<rect x="96" y="36" width="396" height="368" fill="url(#bL)"/>
<rect x="111" y="36" width="1" height="368" fill="url(#sU)" opacity="0.75"/>
<rect x="112" y="36" width="1" height="368" fill="url(#sU)" opacity="0.26"/>
<rect x="111" y="36" width="2" height="368" fill="url(#sL)" opacity="1.00"/>
<rect x="113" y="36" width="1" height="368" fill="url(#sL)" opacity="0.35"/>
<rect x="111" y="36" width="6" height="368" fill="url(#sT)" opacity="1.00"/>
<rect x="115" y="36" width="1" height="368" fill="url(#sU)" opacity="0.30"/>
<rect x="116" y="36" width="1" height="368" fill="url(#sU)" opacity="0.10"/>
<rect x="115" y="36" width="2" height="368" fill="url(#sL)" opacity="0.60"/>
<rect x="117" y="36" width="1" height="368" fill="url(#sL)" opacity="0.21"/>
<rect x="115" y="36" width="6" height="368" fill="url(#sT)" opacity="0.60"/>
<rect x="120" y="36" width="1" height="368" fill="url(#sU)" opacity="1.50"/>
<rect x="121" y="36" width="1" height="368" fill="url(#sU)" opacity="0.52"/>
<rect x="120" y="36" width="2" height="368" fill="url(#sL)" opacity="1.00"/>
<rect x="122" y="36" width="1" height="368" fill="url(#sL)" opacity="0.35"/>
<rect x="120" y="36" width="6" height="368" fill="url(#sT)" opacity="1.00"/>
<rect x="136" y="36" width="1" height="368" fill="url(#sU)" opacity="0.30"/>
<rect x="137" y="36" width="1" height="368" fill="url(#sU)" opacity="0.10"/>
<rect x="136" y="36" width="2" height="368" fill="url(#sL)" opacity="0.60"/>
<rect x="138" y="36" width="1" height="368" fill="url(#sL)" opacity="0.21"/>
<rect x="136" y="36" width="6" height="368" fill="url(#sT)" opacity="0.60"/>
<rect x="140" y="36" width="1" height="368" fill="url(#sU)" opacity="0.30"/>
<rect x="141" y="36" width="1" height="368" fill="url(#sU)" opacity="0.10"/>
<rect x="140" y="36" width="2" height="368" fill="url(#sL)" opacity="0.80"/>
<rect x="142" y="36" width="1" height="368" fill="url(#sL)" opacity="0.28"/>
<rect x="140" y="36" width="6" height="368" fill="url(#sT)" opacity="0.80"/>
<rect x="145" y="36" width="1" height="368" fill="url(#sU)" opacity="0.75"/>
<rect x="146" y="36" width="1" height="368" fill="url(#sU)" opacity="0.26"/>
<rect x="145" y="36" width="2" height="368" fill="url(#sL)" opacity="1.00"/>
<rect x="147" y="36" width="1" height="368" fill="url(#sL)" opacity="0.35"/>
<rect x="145" y="36" width="6" height="368" fill="url(#sT)" opacity="1.00"/>
<rect x="155" y="36" width="1" height="368" fill="url(#sU)" opacity="0.30"/>
<rect x="156" y="36" width="1" height="368" fill="url(#sU)" opacity="0.10"/>
<rect x="155" y="36" width="2" height="368" fill="url(#sL)" opacity="0.60"/>
<rect x="157" y="36" width="1" height="368" fill="url(#sL)" opacity="0.21"/>
<rect x="155" y="36" width="6" height="368" fill="url(#sT)" opacity="0.60"/>
<rect x="159" y="36" width="1" height="368" fill="url(#sU)" opacity="0.75"/>
<rect x="160" y="36" width="1" height="368" fill="url(#sU)" opacity="0.26"/>
<rect x="159" y="36" width="2" height="368" fill="url(#sL)" opacity="0.90"/>
<rect x="161" y="36" width="1" height="368" fill="url(#sL)" opacity="0.32"/>
<rect x="159" y="36" width="6" height="368" fill="url(#sT)" opacity="0.90"/>
<rect x="165" y="36" width="1" height="368" fill="url(#sU)" opacity="0.75"/>
<rect x="166" y="36" width="1" height="368" fill="url(#sU)" opacity="0.26"/>
<rect x="165" y="36" width="2" height="368" fill="url(#sL)" opacity="0.80"/>
<rect x="167" y="36" width="1" height="368" fill="url(#sL)" opacity="0.28"/>
<rect x="165" y="36" width="6" height="368" fill="url(#sT)" opacity="0.80"/>
<rect x="175" y="36" width="1" height="368" fill="url(#sU)" opacity="0.30"/>
<rect x="176" y="36" width="1" height="368" fill="url(#sU)" opacity="0.10"/>
<rect x="175" y="36" width="2" height="368" fill="url(#sL)" opacity="0.80"/>
<rect x="177" y="36" width="1" height="368" fill="url(#sL)" opacity="0.28"/>
<rect x="175" y="36" width="6" height="368" fill="url(#sT)" opacity="0.80"/>
<rect x="184" y="36" width="1" height="368" fill="url(#sU)" opacity="0.75"/>
<rect x="185" y="36" width="1" height="368" fill="url(#sU)" opacity="0.26"/>
<rect x="184" y="36" width="2" height="368" fill="url(#sL)" opacity="0.80"/>
<rect x="186" y="36" width="1" height="368" fill="url(#sL)" opacity="0.28"/>
<rect x="184" y="36" width="6" height="368" fill="url(#sT)" opacity="0.80"/>
<rect x="195" y="36" width="1" height="368" fill="url(#sU)" opacity="0.30"/>
<rect x="196" y="36" width="1" height="368" fill="url(#sU)" opacity="0.10"/>
<rect x="195" y="36" width="2" height="368" fill="url(#sL)" opacity="0.70"/>
<rect x="197" y="36" width="1" height="368" fill="url(#sL)" opacity="0.24"/>
<rect x="195" y="36" width="6" height="368" fill="url(#sT)" opacity="0.70"/>
<rect x="204" y="36" width="1" height="368" fill="url(#sU)" opacity="0.30"/>
<rect x="205" y="36" width="1" height="368" fill="url(#sU)" opacity="0.10"/>
<rect x="204" y="36" width="2" height="368" fill="url(#sL)" opacity="1.00"/>
<rect x="206" y="36" width="1" height="368" fill="url(#sL)" opacity="0.35"/>
<rect x="204" y="36" width="6" height="368" fill="url(#sT)" opacity="1.00"/>
<rect x="214" y="36" width="1" height="368" fill="url(#sU)" opacity="0.30"/>
<rect x="215" y="36" width="1" height="368" fill="url(#sU)" opacity="0.10"/>
<rect x="214" y="36" width="2" height="368" fill="url(#sL)" opacity="0.70"/>
<rect x="216" y="36" width="1" height="368" fill="url(#sL)" opacity="0.24"/>
<rect x="214" y="36" width="6" height="368" fill="url(#sT)" opacity="0.70"/>
<rect x="224" y="36" width="1" height="368" fill="url(#sU)" opacity="1.50"/>
<rect x="225" y="36" width="1" height="368" fill="url(#sU)" opacity="0.52"/>
<rect x="224" y="36" width="2" height="368" fill="url(#sL)" opacity="1.00"/>
<rect x="226" y="36" width="1" height="368" fill="url(#sL)" opacity="0.35"/>
<rect x="224" y="36" width="6" height="368" fill="url(#sT)" opacity="1.00"/>
<rect x="235" y="36" width="1" height="368" fill="url(#sU)" opacity="0.30"/>
<rect x="236" y="36" width="1" height="368" fill="url(#sU)" opacity="0.10"/>
<rect x="235" y="36" width="2" height="368" fill="url(#sL)" opacity="0.50"/>
<rect x="237" y="36" width="1" height="368" fill="url(#sL)" opacity="0.17"/>
<rect x="235" y="36" width="6" height="368" fill="url(#sT)" opacity="0.50"/>
<rect x="239" y="36" width="1" height="368" fill="url(#sU)" opacity="0.30"/>
<rect x="240" y="36" width="1" height="368" fill="url(#sU)" opacity="0.10"/>
<rect x="239" y="36" width="2" height="368" fill="url(#sL)" opacity="0.70"/>
<rect x="241" y="36" width="1" height="368" fill="url(#sL)" opacity="0.24"/>
<rect x="239" y="36" width="6" height="368" fill="url(#sT)" opacity="0.70"/>
<rect x="243" y="36" width="1" height="368" fill="url(#sU)" opacity="0.75"/>
<rect x="244" y="36" width="1" height="368" fill="url(#sU)" opacity="0.26"/>
<rect x="243" y="36" width="2" height="368" fill="url(#sL)" opacity="0.80"/>
<rect x="245" y="36" width="1" height="368" fill="url(#sL)" opacity="0.28"/>
<rect x="243" y="36" width="6" height="368" fill="url(#sT)" opacity="0.80"/>
<rect x="254" y="36" width="1" height="368" fill="url(#sU)" opacity="0.30"/>
<rect x="255" y="36" width="1" height="368" fill="url(#sU)" opacity="0.10"/>
<rect x="254" y="36" width="2" height="368" fill="url(#sL)" opacity="0.70"/>
<rect x="256" y="36" width="1" height="368" fill="url(#sL)" opacity="0.24"/>
<rect x="254" y="36" width="6" height="368" fill="url(#sT)" opacity="0.70"/>
<rect x="257" y="36" width="1" height="368" fill="url(#sU)" opacity="0.30"/>
<rect x="258" y="36" width="1" height="368" fill="url(#sU)" opacity="0.10"/>
<rect x="257" y="36" width="2" height="368" fill="url(#sL)" opacity="0.60"/>
<rect x="259" y="36" width="1" height="368" fill="url(#sL)" opacity="0.21"/>
<rect x="257" y="36" width="6" height="368" fill="url(#sT)" opacity="0.60"/>
<rect x="264" y="36" width="1" height="368" fill="url(#sU)" opacity="0.75"/>
<rect x="265" y="36" width="1" height="368" fill="url(#sU)" opacity="0.26"/>
<rect x="264" y="36" width="2" height="368" fill="url(#sL)" opacity="0.80"/>
<rect x="266" y="36" width="1" height="368" fill="url(#sL)" opacity="0.28"/>
<rect x="264" y="36" width="6" height="368" fill="url(#sT)" opacity="0.80"/>
<rect x="274" y="36" width="1" height="368" fill="url(#sU)" opacity="0.30"/>
<rect x="275" y="36" width="1" height="368" fill="url(#sU)" opacity="0.10"/>
<rect x="274" y="36" width="2" height="368" fill="url(#sL)" opacity="0.60"/>
<rect x="276" y="36" width="1" height="368" fill="url(#sL)" opacity="0.21"/>
<rect x="274" y="36" width="6" height="368" fill="url(#sT)" opacity="0.60"/>
<rect x="285" y="36" width="1" height="368" fill="url(#sU)" opacity="0.30"/>
<rect x="286" y="36" width="1" height="368" fill="url(#sU)" opacity="0.10"/>
<rect x="285" y="36" width="2" height="368" fill="url(#sL)" opacity="0.80"/>
<rect x="287" y="36" width="1" height="368" fill="url(#sL)" opacity="0.28"/>
<rect x="285" y="36" width="6" height="368" fill="url(#sT)" opacity="0.80"/>
<rect x="295" y="36" width="1" height="368" fill="url(#sU)" opacity="0.30"/>
<rect x="296" y="36" width="1" height="368" fill="url(#sU)" opacity="0.10"/>
<rect x="295" y="36" width="2" height="368" fill="url(#sL)" opacity="0.60"/>
<rect x="297" y="36" width="1" height="368" fill="url(#sL)" opacity="0.21"/>
<rect x="295" y="36" width="6" height="368" fill="url(#sT)" opacity="0.60"/>
<rect x="304" y="36" width="1" height="368" fill="url(#sU)" opacity="1.50"/>
<rect x="305" y="36" width="1" height="368" fill="url(#sU)" opacity="0.52"/>
<rect x="304" y="36" width="2" height="368" fill="url(#sL)" opacity="1.00"/>
<rect x="306" y="36" width="1" height="368" fill="url(#sL)" opacity="0.35"/>
<rect x="304" y="36" width="6" height="368" fill="url(#sT)" opacity="1.00"/>
<rect x="313" y="36" width="1" height="368" fill="url(#sU)" opacity="1.50"/>
<rect x="314" y="36" width="1" height="368" fill="url(#sU)" opacity="0.52"/>
<rect x="313" y="36" width="2" height="368" fill="url(#sL)" opacity="0.70"/>
<rect x="315" y="36" width="1" height="368" fill="url(#sL)" opacity="0.24"/>
<rect x="313" y="36" width="6" height="368" fill="url(#sT)" opacity="0.70"/>
<rect x="318" y="36" width="1" height="368" fill="url(#sU)" opacity="0.30"/>
<rect x="319" y="36" width="1" height="368" fill="url(#sU)" opacity="0.10"/>
<rect x="318" y="36" width="2" height="368" fill="url(#sL)" opacity="0.70"/>
<rect x="320" y="36" width="1" height="368" fill="url(#sL)" opacity="0.24"/>
<rect x="318" y="36" width="6" height="368" fill="url(#sT)" opacity="0.70"/>
<rect x="324" y="36" width="1" height="368" fill="url(#sU)" opacity="0.75"/>
<rect x="325" y="36" width="1" height="368" fill="url(#sU)" opacity="0.26"/>
<rect x="324" y="36" width="2" height="368" fill="url(#sL)" opacity="0.90"/>
<rect x="326" y="36" width="1" height="368" fill="url(#sL)" opacity="0.32"/>
<rect x="324" y="36" width="6" height="368" fill="url(#sT)" opacity="0.90"/>
<rect x="335" y="36" width="1" height="368" fill="url(#sU)" opacity="0.75"/>
<rect x="336" y="36" width="1" height="368" fill="url(#sU)" opacity="0.26"/>
<rect x="335" y="36" width="2" height="368" fill="url(#sL)" opacity="0.50"/>
<rect x="337" y="36" width="1" height="368" fill="url(#sL)" opacity="0.17"/>
<rect x="335" y="36" width="6" height="368" fill="url(#sT)" opacity="0.50"/>
<rect x="344" y="36" width="1" height="368" fill="url(#sU)" opacity="0.75"/>
<rect x="345" y="36" width="1" height="368" fill="url(#sU)" opacity="0.26"/>
<rect x="344" y="36" width="2" height="368" fill="url(#sL)" opacity="1.00"/>
<rect x="346" y="36" width="1" height="368" fill="url(#sL)" opacity="0.35"/>
<rect x="344" y="36" width="6" height="368" fill="url(#sT)" opacity="1.00"/>
<rect x="353" y="36" width="1" height="368" fill="url(#sU)" opacity="0.30"/>
<rect x="354" y="36" width="1" height="368" fill="url(#sU)" opacity="0.10"/>
<rect x="353" y="36" width="2" height="368" fill="url(#sL)" opacity="0.60"/>
<rect x="355" y="36" width="1" height="368" fill="url(#sL)" opacity="0.21"/>
<rect x="353" y="36" width="6" height="368" fill="url(#sT)" opacity="0.60"/>
<rect x="363" y="36" width="1" height="368" fill="url(#sU)" opacity="0.75"/>
<rect x="364" y="36" width="1" height="368" fill="url(#sU)" opacity="0.26"/>
<rect x="363" y="36" width="2" height="368" fill="url(#sL)" opacity="0.90"/>
<rect x="365" y="36" width="1" height="368" fill="url(#sL)" opacity="0.32"/>
<rect x="363" y="36" width="6" height="368" fill="url(#sT)" opacity="0.90"/>
<rect x="373" y="36" width="1" height="368" fill="url(#sU)" opacity="0.30"/>
<rect x="374" y="36" width="1" height="368" fill="url(#sU)" opacity="0.10"/>
<rect x="373" y="36" width="2" height="368" fill="url(#sL)" opacity="0.70"/>
<rect x="375" y="36" width="1" height="368" fill="url(#sL)" opacity="0.24"/>
<rect x="373" y="36" width="6" height="368" fill="url(#sT)" opacity="0.70"/>
<rect x="379" y="36" width="1" height="368" fill="url(#sU)" opacity="0.75"/>
<rect x="380" y="36" width="1" height="368" fill="url(#sU)" opacity="0.26"/>
<rect x="379" y="36" width="2" height="368" fill="url(#sL)" opacity="0.70"/>
<rect x="381" y="36" width="1" height="368" fill="url(#sL)" opacity="0.24"/>
<rect x="379" y="36" width="6" height="368" fill="url(#sT)" opacity="0.70"/>
<rect x="384" y="36" width="1" height="368" fill="url(#sU)" opacity="0.75"/>
<rect x="385" y="36" width="1" height="368" fill="url(#sU)" opacity="0.26"/>
<rect x="384" y="36" width="2" height="368" fill="url(#sL)" opacity="0.80"/>
<rect x="386" y="36" width="1" height="368" fill="url(#sL)" opacity="0.28"/>
<rect x="384" y="36" width="6" height="368" fill="url(#sT)" opacity="0.80"/>
<rect x="394" y="36" width="1" height="368" fill="url(#sU)" opacity="0.30"/>
<rect x="395" y="36" width="1" height="368" fill="url(#sU)" opacity="0.10"/>
<rect x="394" y="36" width="2" height="368" fill="url(#sL)" opacity="0.70"/>
<rect x="396" y="36" width="1" height="368" fill="url(#sL)" opacity="0.24"/>
<rect x="394" y="36" width="6" height="368" fill="url(#sT)" opacity="0.70"/>
<rect x="403" y="36" width="1" height="368" fill="url(#sU)" opacity="0.75"/>
<rect x="404" y="36" width="1" height="368" fill="url(#sU)" opacity="0.26"/>
<rect x="403" y="36" width="2" height="368" fill="url(#sL)" opacity="0.90"/>
<rect x="405" y="36" width="1" height="368" fill="url(#sL)" opacity="0.32"/>
<rect x="403" y="36" width="6" height="368" fill="url(#sT)" opacity="0.90"/>
<rect x="413" y="36" width="1" height="368" fill="url(#sU)" opacity="0.30"/>
<rect x="414" y="36" width="1" height="368" fill="url(#sU)" opacity="0.10"/>
<rect x="413" y="36" width="2" height="368" fill="url(#sL)" opacity="0.70"/>
<rect x="415" y="36" width="1" height="368" fill="url(#sL)" opacity="0.24"/>
<rect x="413" y="36" width="6" height="368" fill="url(#sT)" opacity="0.70"/>
<rect x="424" y="36" width="1" height="368" fill="url(#sU)" opacity="1.50"/>
<rect x="425" y="36" width="1" height="368" fill="url(#sU)" opacity="0.52"/>
<rect x="424" y="36" width="2" height="368" fill="url(#sL)" opacity="0.80"/>
<rect x="426" y="36" width="1" height="368" fill="url(#sL)" opacity="0.28"/>
<rect x="424" y="36" width="6" height="368" fill="url(#sT)" opacity="0.80"/>
<rect x="429" y="36" width="1" height="368" fill="url(#sU)" opacity="0.30"/>
<rect x="430" y="36" width="1" height="368" fill="url(#sU)" opacity="0.10"/>
<rect x="429" y="36" width="2" height="368" fill="url(#sL)" opacity="0.60"/>
<rect x="431" y="36" width="1" height="368" fill="url(#sL)" opacity="0.21"/>
<rect x="429" y="36" width="6" height="368" fill="url(#sT)" opacity="0.60"/>
<rect x="433" y="36" width="1" height="368" fill="url(#sU)" opacity="0.30"/>
<rect x="434" y="36" width="1" height="368" fill="url(#sU)" opacity="0.10"/>
<rect x="433" y="36" width="2" height="368" fill="url(#sL)" opacity="0.70"/>
<rect x="435" y="36" width="1" height="368" fill="url(#sL)" opacity="0.24"/>
<rect x="433" y="36" width="6" height="368" fill="url(#sT)" opacity="0.70"/>
<rect x="444" y="36" width="1" height="368" fill="url(#sU)" opacity="0.75"/>
<rect x="445" y="36" width="1" height="368" fill="url(#sU)" opacity="0.26"/>
<rect x="444" y="36" width="2" height="368" fill="url(#sL)" opacity="0.90"/>
<rect x="446" y="36" width="1" height="368" fill="url(#sL)" opacity="0.32"/>
<rect x="444" y="36" width="6" height="368" fill="url(#sT)" opacity="0.90"/>
<rect x="454" y="36" width="1" height="368" fill="url(#sU)" opacity="0.30"/>
<rect x="455" y="36" width="1" height="368" fill="url(#sU)" opacity="0.10"/>
<rect x="454" y="36" width="2" height="368" fill="url(#sL)" opacity="0.50"/>
<rect x="456" y="36" width="1" height="368" fill="url(#sL)" opacity="0.17"/>
<rect x="454" y="36" width="6" height="368" fill="url(#sT)" opacity="0.50"/>
<rect x="464" y="36" width="1" height="368" fill="url(#sU)" opacity="0.75"/>
<rect x="465" y="36" width="1" height="368" fill="url(#sU)" opacity="0.26"/>
<rect x="464" y="36" width="2" height="368" fill="url(#sL)" opacity="0.80"/>
<rect x="466" y="36" width="1" height="368" fill="url(#sL)" opacity="0.28"/>
<rect x="464" y="36" width="6" height="368" fill="url(#sT)" opacity="0.80"/>
<rect x="474" y="36" width="1" height="368" fill="url(#sU)" opacity="1.50"/>
<rect x="475" y="36" width="1" height="368" fill="url(#sU)" opacity="0.52"/>
<rect x="474" y="36" width="2" height="368" fill="url(#sL)" opacity="0.90"/>
<rect x="476" y="36" width="1" height="368" fill="url(#sL)" opacity="0.32"/>
<rect x="474" y="36" width="6" height="368" fill="url(#sT)" opacity="0.90"/>
<rect x="479" y="36" width="1" height="368" fill="url(#sU)" opacity="1.50"/>
<rect x="480" y="36" width="1" height="368" fill="url(#sU)" opacity="0.52"/>
<rect x="479" y="36" width="2" height="368" fill="url(#sL)" opacity="0.80"/>
<rect x="481" y="36" width="1" height="368" fill="url(#sL)" opacity="0.28"/>
<rect x="479" y="36" width="6" height="368" fill="url(#sT)" opacity="0.80"/>
<rect x="486" y="36" width="1" height="368" fill="url(#sU)" opacity="0.75"/>
<rect x="487" y="36" width="1" height="368" fill="url(#sU)" opacity="0.26"/>
<rect x="486" y="36" width="2" height="368" fill="url(#sL)" opacity="0.80"/>
<rect x="488" y="36" width="1" height="368" fill="url(#sL)" opacity="0.28"/>
<rect x="486" y="36" width="6" height="368" fill="url(#sT)" opacity="0.80"/>
<rect x="96" y="36" width="2.5" height="349" fill="#000" opacity="0.6"/>
<rect x="122" y="97.69" width="1" height="6" fill="#525252"/>
<rect x="203" y="99.69" width="1" height="4" fill="#525252"/>
<rect x="303" y="96.69" width="1" height="7" fill="#525252"/>
<rect x="378" y="98.69" width="1" height="5" fill="#525252"/>
<rect x="423" y="96.69" width="1" height="7" fill="#525252"/>
<rect x="444" y="98.69" width="1" height="5" fill="#525252"/>
<rect x="474" y="94.69" width="1" height="9" fill="#525252"/>
<rect x="479" y="97.69" width="1" height="6" fill="#525252"/>
<rect x="464" y="99.69" width="1" height="4" fill="#525252"/>
<rect x="224" y="99.69" width="1" height="4" fill="#525252"/>
<rect x="338" y="99.69" width="1" height="4" fill="#525252"/>
</g></g>
<rect x="95.5" y="35.5" width="397" height="369" fill="none" stroke="#000" stroke-width="1"/>
<path d="M95.5 405v5" stroke="#000" stroke-width="1"/>
<text x="95.05" y="425.1" text-anchor="middle">0</text>
<path d="M145.5 405v5" stroke="#000" stroke-width="1"/>
<text x="144.61" y="425.1" text-anchor="middle">1.5</text>
<path d="M194.5 405v5" stroke="#000" stroke-width="1"/>
<text x="194.18" y="425.1" text-anchor="middle">3</text>
<path d="M244.5 405v5" stroke="#000" stroke-width="1"/>
<text x="243.74" y="425.1" text-anchor="middle">4.5</text>
<path d="M293.5 405v5" stroke="#000" stroke-width="1"/>
<text x="293.3" y="425.1" text-anchor="middle">6</text>
<path d="M343.5 405v5" stroke="#000" stroke-width="1"/>
<text x="342.86" y="425.1" text-anchor="middle">7.5</text>
<path d="M392.5 405v5" stroke="#000" stroke-width="1"/>
<text x="392.43" y="425.1" text-anchor="middle">9</text>
<path d="M442.5 405v5" stroke="#000" stroke-width="1"/>
<text x="441.99" y="425.1" text-anchor="middle">10</text>
<path d="M492.5 405v5" stroke="#000" stroke-width="1"/>
<text x="491.55" y="425.1" text-anchor="middle">12</text>
<path d="M95 404.5h-5" stroke="#000" stroke-width="1"/>
<text x="85.1" y="409.75" text-anchor="end">0</text>
<path d="M95 362.5h-5" stroke="#000" stroke-width="1"/>
<text x="85.1" y="367.75" text-anchor="end">2500</text>
<path d="M95 321.5h-5" stroke="#000" stroke-width="1"/>
<text x="85.1" y="325.75" text-anchor="end">5000</text>
<path d="M95 279.5h-5" stroke="#000" stroke-width="1"/>
<text x="85.1" y="283.75" text-anchor="end">7500</text>
<path d="M95 237.5h-5" stroke="#000" stroke-width="1"/>
<text x="85.1" y="241.75" text-anchor="end">10000</text>
<path d="M95 195.5h-5" stroke="#000" stroke-width="1"/>
<text x="85.1" y="199.75" text-anchor="end">12500</text>
<path d="M95 153.5h-5" stroke="#000" stroke-width="1"/>
<text x="85.1" y="157.75" text-anchor="end">15000</text>
<path d="M95 111.5h-5" stroke="#000" stroke-width="1"/>
<text x="85.1" y="115.75" text-anchor="end">17500</text>
<path d="M95 69.5h-5" stroke="#000" stroke-width="1"/>
<text x="85.1" y="73.75" text-anchor="end">20000</text>
<text x="293.4" y="443.8" text-anchor="middle">Time</text>
<text transform="translate(32.5 221.6) rotate(-90)" text-anchor="middle" letter-spacing="-0.4">Hz</text>
<rect x="517.5" y="35.5" width="18" height="369" fill="url(#mg)" stroke="#000" stroke-width="1"/>
<path d="M536 43.5h5" stroke="#000" stroke-width="1"/>
<text x="544.8" y="47.75">+30dB</text>
<path d="M536 89.5h5" stroke="#000" stroke-width="1"/>
<text x="544.8" y="93.75">+20dB</text>
<path d="M536 135.5h5" stroke="#000" stroke-width="1"/>
<text x="544.8" y="139.75">+10dB</text>
<path d="M536 181.5h5" stroke="#000" stroke-width="1"/>
<text x="544.8" y="186.75">+0dB</text>
<path d="M536 228.5h5" stroke="#000" stroke-width="1"/>
<text x="544.8" y="232.75">-10dB</text>
<path d="M536 274.5h5" stroke="#000" stroke-width="1"/>
<text x="544.8" y="278.75">-20dB</text>
<path d="M536 320.5h5" stroke="#000" stroke-width="1"/>
<text x="544.8" y="324.75">-30dB</text>
<path d="M536 366.5h5" stroke="#000" stroke-width="1"/>
<text x="544.8" y="370.75">-40dB</text>
<rect x="718.5" y="34.5" width="397" height="369" fill="#000004"/>
<g filter="url(#cm1)"><g clip-path="url(#cl1)" shape-rendering="crispEdges">
<rect x="719" y="35" width="396" height="368" fill="#000"/>
<rect x="719" y="35" width="10" height="368" fill="url(#ri)"/>
<rect x="729" y="35" width="10" height="368" fill="url(#r1)"/>
<rect x="729" y="244.52" width="10" height="115.47" fill="url(#hk)" opacity="0.09"/>
<rect x="729" y="359.99" width="10" height="43.01" fill="url(#hk)" opacity="0.10"/>
<rect x="739" y="35" width="9" height="368" fill="url(#r2)"/>
<rect x="739" y="244.52" width="9" height="115.47" fill="url(#hk)" opacity="0.09"/>
<rect x="739" y="359.99" width="9" height="43.01" fill="url(#hk)" opacity="0.10"/>
<rect x="748" y="35" width="10" height="368" fill="url(#r3)"/>
<rect x="748" y="244.52" width="10" height="115.47" fill="url(#hk)" opacity="0.09"/>
<rect x="748" y="359.99" width="10" height="43.01" fill="url(#hk)" opacity="0.10"/>
<rect x="758" y="35" width="10" height="368" fill="url(#r4)"/>
<rect x="758" y="244.52" width="10" height="115.47" fill="url(#hk)" opacity="0.09"/>
<rect x="758" y="359.99" width="10" height="43.01" fill="url(#hk)" opacity="0.10"/>
<rect x="768" y="35" width="10" height="368" fill="url(#r5)"/>
<rect x="768" y="244.52" width="10" height="115.47" fill="url(#hk)" opacity="0.09"/>
<rect x="768" y="359.99" width="10" height="43.01" fill="url(#hk)" opacity="0.10"/>
<rect x="778" y="35" width="10" height="368" fill="url(#r6)"/>
<rect x="778" y="244.52" width="10" height="115.47" fill="url(#hk)" opacity="0.09"/>
<rect x="778" y="359.99" width="10" height="43.01" fill="url(#hk)" opacity="0.10"/>
<rect x="788" y="35" width="10" height="368" fill="url(#r7)"/>
<rect x="788" y="244.52" width="10" height="115.47" fill="url(#hk)" opacity="0.09"/>
<rect x="788" y="359.99" width="10" height="43.01" fill="url(#hk)" opacity="0.10"/>
<rect x="798" y="35" width="10" height="368" fill="url(#r8)"/>
<rect x="798" y="244.52" width="10" height="115.47" fill="url(#hk)" opacity="0.09"/>
<rect x="798" y="359.99" width="10" height="43.01" fill="url(#hk)" opacity="0.10"/>
<rect x="808" y="35" width="10" height="368" fill="url(#r9)"/>
<rect x="808" y="244.52" width="10" height="115.47" fill="url(#hk)" opacity="0.09"/>
<rect x="808" y="359.99" width="10" height="43.01" fill="url(#hk)" opacity="0.10"/>
<rect x="818" y="35" width="10" height="368" fill="url(#r10)"/>
<rect x="818" y="244.52" width="10" height="115.47" fill="url(#hk)" opacity="0.09"/>
<rect x="818" y="359.99" width="10" height="43.01" fill="url(#hk)" opacity="0.10"/>
<rect x="828" y="35" width="10" height="368" fill="url(#r11)"/>
<rect x="828" y="244.52" width="10" height="115.47" fill="url(#hk)" opacity="0.09"/>
<rect x="828" y="359.99" width="10" height="43.01" fill="url(#hk)" opacity="0.10"/>
<rect x="838" y="35" width="10" height="368" fill="url(#r12)"/>
<rect x="838" y="244.52" width="10" height="115.47" fill="url(#hk)" opacity="0.09"/>
<rect x="838" y="359.99" width="10" height="43.01" fill="url(#hk)" opacity="0.10"/>
<rect x="848" y="35" width="10" height="368" fill="url(#r13)"/>
<rect x="848" y="244.52" width="10" height="115.47" fill="url(#hk)" opacity="0.09"/>
<rect x="848" y="359.99" width="10" height="43.01" fill="url(#hk)" opacity="0.10"/>
<rect x="858" y="35" width="10" height="368" fill="url(#r14)"/>
<rect x="858" y="244.52" width="10" height="115.47" fill="url(#hk)" opacity="0.09"/>
<rect x="858" y="359.99" width="10" height="43.01" fill="url(#hk)" opacity="0.10"/>
<rect x="868" y="35" width="10" height="368" fill="url(#r15)"/>
<rect x="868" y="244.52" width="10" height="115.47" fill="url(#hk)" opacity="0.09"/>
<rect x="868" y="359.99" width="10" height="43.01" fill="url(#hk)" opacity="0.10"/>
<rect x="878" y="35" width="10" height="368" fill="url(#r16)"/>
<rect x="878" y="244.52" width="10" height="115.47" fill="url(#hk)" opacity="0.09"/>
<rect x="878" y="359.99" width="10" height="43.01" fill="url(#hk)" opacity="0.10"/>
<rect x="888" y="35" width="10" height="368" fill="url(#r17)"/>
<rect x="888" y="244.52" width="10" height="115.47" fill="url(#hk)" opacity="0.09"/>
<rect x="888" y="359.99" width="10" height="43.01" fill="url(#hk)" opacity="0.10"/>
<rect x="898" y="35" width="10" height="368" fill="url(#r18)"/>
<rect x="898" y="244.52" width="10" height="115.47" fill="url(#hk)" opacity="0.09"/>
<rect x="898" y="359.99" width="10" height="43.01" fill="url(#hk)" opacity="0.10"/>
<rect x="908" y="35" width="10" height="368" fill="url(#r19)"/>
<rect x="908" y="244.52" width="10" height="115.47" fill="url(#hk)" opacity="0.09"/>
<rect x="908" y="359.99" width="10" height="43.01" fill="url(#hk)" opacity="0.10"/>
<rect x="918" y="35" width="10" height="368" fill="url(#r20)"/>
<rect x="918" y="244.52" width="10" height="115.47" fill="url(#hk)" opacity="0.09"/>
<rect x="918" y="359.99" width="10" height="43.01" fill="url(#hk)" opacity="0.10"/>
<rect x="928" y="35" width="10" height="368" fill="url(#r21)"/>
<rect x="928" y="244.52" width="10" height="115.47" fill="url(#hk)" opacity="0.09"/>
<rect x="928" y="359.99" width="10" height="43.01" fill="url(#hk)" opacity="0.10"/>
<rect x="938" y="35" width="10" height="368" fill="url(#r22)"/>
<rect x="938" y="244.52" width="10" height="115.47" fill="url(#hk)" opacity="0.09"/>
<rect x="938" y="359.99" width="10" height="43.01" fill="url(#hk)" opacity="0.10"/>
<rect x="948" y="35" width="10" height="368" fill="url(#r23)"/>
<rect x="948" y="244.52" width="10" height="115.47" fill="url(#hk)" opacity="0.09"/>
<rect x="948" y="359.99" width="10" height="43.01" fill="url(#hk)" opacity="0.10"/>
<rect x="958" y="35" width="10" height="368" fill="url(#r24)"/>
<rect x="958" y="244.52" width="10" height="115.47" fill="url(#hk)" opacity="0.09"/>
<rect x="958" y="359.99" width="10" height="43.01" fill="url(#hk)" opacity="0.10"/>
<rect x="968" y="35" width="10" height="368" fill="url(#r25)"/>
<rect x="968" y="244.52" width="10" height="115.47" fill="url(#hk)" opacity="0.09"/>
<rect x="968" y="359.99" width="10" height="43.01" fill="url(#hk)" opacity="0.10"/>
<rect x="978" y="35" width="10" height="368" fill="url(#r26)"/>
<rect x="978" y="244.52" width="10" height="115.47" fill="url(#hk)" opacity="0.09"/>
<rect x="978" y="359.99" width="10" height="43.01" fill="url(#hk)" opacity="0.10"/>
<rect x="988" y="35" width="10" height="368" fill="url(#r27)"/>
<rect x="988" y="244.52" width="10" height="115.47" fill="url(#hk)" opacity="0.09"/>
<rect x="988" y="359.99" width="10" height="43.01" fill="url(#hk)" opacity="0.10"/>
<rect x="998" y="35" width="10" height="368" fill="url(#r28)"/>
<rect x="998" y="244.52" width="10" height="115.47" fill="url(#hk)" opacity="0.09"/>
<rect x="998" y="359.99" width="10" height="43.01" fill="url(#hk)" opacity="0.10"/>
<rect x="1008" y="35" width="10" height="368" fill="url(#r29)"/>
<rect x="1008" y="244.52" width="10" height="115.47" fill="url(#hk)" opacity="0.09"/>
<rect x="1008" y="359.99" width="10" height="43.01" fill="url(#hk)" opacity="0.10"/>
<rect x="1018" y="35" width="10" height="368" fill="url(#r30)"/>
<rect x="1018" y="244.52" width="10" height="115.47" fill="url(#hk)" opacity="0.09"/>
<rect x="1018" y="359.99" width="10" height="43.01" fill="url(#hk)" opacity="0.10"/>
<rect x="1028" y="35" width="10" height="368" fill="url(#r31)"/>
<rect x="1028" y="244.52" width="10" height="115.47" fill="url(#hk)" opacity="0.09"/>
<rect x="1028" y="359.99" width="10" height="43.01" fill="url(#hk)" opacity="0.10"/>
<rect x="1038" y="35" width="10" height="368" fill="url(#r32)"/>
<rect x="1038" y="244.52" width="10" height="115.47" fill="url(#hk)" opacity="0.09"/>
<rect x="1038" y="359.99" width="10" height="43.01" fill="url(#hk)" opacity="0.10"/>
<rect x="1048" y="35" width="10" height="368" fill="url(#r33)"/>
<rect x="1048" y="244.52" width="10" height="115.47" fill="url(#hk)" opacity="0.09"/>
<rect x="1048" y="359.99" width="10" height="43.01" fill="url(#hk)" opacity="0.10"/>
<rect x="1058" y="35" width="10" height="368" fill="url(#r34)"/>
<rect x="1058" y="244.52" width="10" height="115.47" fill="url(#hk)" opacity="0.09"/>
<rect x="1058" y="359.99" width="10" height="43.01" fill="url(#hk)" opacity="0.10"/>
<rect x="1068" y="35" width="9" height="368" fill="url(#r35)"/>
<rect x="1068" y="244.52" width="9" height="115.47" fill="url(#hk)" opacity="0.09"/>
<rect x="1068" y="359.99" width="9" height="43.01" fill="url(#hk)" opacity="0.10"/>
<rect x="1077" y="35" width="10" height="368" fill="url(#r36)"/>
<rect x="1077" y="244.52" width="10" height="115.47" fill="url(#hk)" opacity="0.09"/>
<rect x="1077" y="359.99" width="10" height="43.01" fill="url(#hk)" opacity="0.10"/>
<rect x="1087" y="35" width="10" height="368" fill="url(#r37)"/>
<rect x="1087" y="244.52" width="10" height="115.47" fill="url(#hk)" opacity="0.09"/>
<rect x="1087" y="359.99" width="10" height="43.01" fill="url(#hk)" opacity="0.10"/>
<rect x="1097" y="35" width="10" height="368" fill="url(#r38)"/>
<rect x="1097" y="244.52" width="10" height="115.47" fill="url(#hk)" opacity="0.09"/>
<rect x="1097" y="359.99" width="10" height="43.01" fill="url(#hk)" opacity="0.10"/>
<rect x="1107" y="35" width="8" height="368" fill="url(#r39)"/>
<rect x="1107" y="244.52" width="8" height="115.47" fill="url(#hk)" opacity="0.09"/>
<rect x="1107" y="359.99" width="8" height="43.01" fill="url(#hk)" opacity="0.10"/>
<path d="M729 355h39v1h-39z" fill="url(#hv)" opacity="0.062"/>
<path d="M729 396h39v2h-39z" fill="url(#hv)" opacity="0.312"/>
<path d="M729 354h39v2h-39z" fill="url(#hv)" opacity="0.062"/>
<path d="M729 378h39v2h-39z" fill="url(#hv)" opacity="0.125"/>
<path d="M729 371h39v1h-39z" fill="url(#hv)" opacity="0.188"/>
<path d="M729 394h39v2h-39z" fill="url(#hv)" opacity="0.312"/>
<path d="M739 364h19v1h-19z" fill="url(#hv)" opacity="0.125"/>
<path d="M739 391h19v2h-19z" fill="url(#hv)" opacity="0.250"/>
<path d="M739 398h19v1h-19z" fill="url(#hv)" opacity="0.375"/>
<path d="M739 350h19v1h-19zM739 351h19v1h-19zM739 355h19v1h-19zM739 359h19v1h-19zM739 359h19v2h-19zM739 363h19v2h-19z" fill="url(#hv)" opacity="0.062"/>
<path d="M739 367h19v2h-19zM739 370h19v2h-19zM739 372h19v2h-19z" fill="url(#hv)" opacity="0.125"/>
<path d="M739 368h19v2h-19zM739 375h19v1h-19zM739 377h19v1h-19zM739 379h19v2h-19zM739 383h19v2h-19z" fill="url(#hv)" opacity="0.188"/>
<path d="M739 377h19v2h-19zM739 386h19v2h-19zM739 388h19v2h-19zM739 391h19v1h-19zM739 395h19v2h-19z" fill="url(#hv)" opacity="0.250"/>
<path d="M739 397h19v2h-19zM739 400h19v1h-19z" fill="url(#hv)" opacity="0.312"/>
<path d="M748 351h20v1h-20zM748 354h20v1h-20zM748 355h20v1h-20zM748 360h20v2h-20z" fill="url(#hv)" opacity="0.062"/>
<path d="M748 368h20v2h-20zM748 369h20v2h-20z" fill="url(#hv)" opacity="0.125"/>
<path d="M748 374h20v2h-20zM748 376h20v1h-20zM748 382h20v1h-20zM748 396h20v2h-20z" fill="url(#hv)" opacity="0.188"/>
<path d="M748 383h20v2h-20zM748 386h20v2h-20zM748 388h20v1h-20zM748 390h20v2h-20z" fill="url(#hv)" opacity="0.250"/>
<path d="M748 395h20v2h-20zM748 398h20v2h-20zM748 399h20v2h-20z" fill="url(#hv)" opacity="0.312"/>
<path d="M748 401h20v2h-20z" fill="url(#hv)" opacity="0.375"/>
<path d="M748 349h20v2h-20zM748 358h20v1h-20zM748 361h20v1h-20zM748 364h20v2h-20z" fill="url(#hv)" opacity="0.062"/>
<path d="M748 372h20v2h-20z" fill="url(#hv)" opacity="0.125"/>
<path d="M748 377h20v1h-20zM748 387h20v2h-20z" fill="url(#hv)" opacity="0.188"/>
<path d="M748 381h20v1h-20zM748 391h20v2h-20z" fill="url(#hv)" opacity="0.250"/>
<path d="M758 354h10v1h-10zM758 355h10v2h-10zM758 361h10v1h-10z" fill="url(#hv)" opacity="0.062"/>
<path d="M758 359h10v1h-10zM758 371h10v1h-10zM758 373h10v2h-10zM758 379h10v1h-10z" fill="url(#hv)" opacity="0.125"/>
<path d="M758 369h10v1h-10zM758 375h10v2h-10z" fill="url(#hv)" opacity="0.188"/>
<path d="M758 393h10v2h-10zM758 399h10v1h-10z" fill="url(#hv)" opacity="0.250"/>
<path d="M758 401h10v1h-10z" fill="url(#hv)" opacity="0.375"/>
<path d="M758 365h10v1h-10z" fill="url(#hv)" opacity="0.125"/>
<path d="M758 391h10v1h-10z" fill="url(#hv)" opacity="0.188"/>
<path d="M758 396h10v2h-10z" fill="url(#hv)" opacity="0.312"/>
<path d="M768 346h60v2h-60zM768 349h60v1h-60zM768 353h60v1h-60zM768 355h60v1h-60zM768 356h60v2h-60z" fill="url(#hv)" opacity="0.062"/>
<path d="M768 366h60v1h-60zM768 367h60v2h-60zM768 370h60v2h-60zM768 374h60v2h-60z" fill="url(#hv)" opacity="0.125"/>
<path d="M768 373h60v2h-60zM768 382h60v2h-60zM768 390h60v2h-60zM768 393h60v2h-60z" fill="url(#hv)" opacity="0.188"/>
<path d="M768 385h60v2h-60zM768 387h60v2h-60z" fill="url(#hv)" opacity="0.250"/>
<path d="M768 396h60v2h-60zM768 399h60v2h-60zM768 401h60v2h-60z" fill="url(#hv)" opacity="0.312"/>
<path d="M768 356h60v1h-60z" fill="url(#hv)" opacity="0.062"/>
<path d="M768 369h60v1h-60z" fill="url(#hv)" opacity="0.125"/>
<path d="M768 370h60v2h-60zM768 373h60v1h-60zM768 377h60v2h-60zM768 383h60v2h-60z" fill="url(#hv)" opacity="0.188"/>
<path d="M768 385h60v2h-60zM768 396h60v2h-60z" fill="url(#hv)" opacity="0.250"/>
<path d="M768 398h60v2h-60z" fill="url(#hv)" opacity="0.312"/>
<path d="M768 400h60v2h-60z" fill="url(#hv)" opacity="0.375"/>
<path d="M778 348h60v2h-60zM778 352h60v2h-60zM778 359h60v2h-60z" fill="url(#hv)" opacity="0.062"/>
<path d="M778 363h60v2h-60z" fill="url(#hv)" opacity="0.125"/>
<path d="M778 370h60v2h-60zM778 377h60v2h-60z" fill="url(#hv)" opacity="0.188"/>
<path d="M778 396h60v1h-60z" fill="url(#hv)" opacity="0.312"/>
<path d="M778 351h40v1h-40zM778 354h40v1h-40zM778 360h40v2h-40zM778 363h40v2h-40z" fill="url(#hv)" opacity="0.062"/>
<path d="M778 366h40v2h-40zM778 370h40v2h-40z" fill="url(#hv)" opacity="0.125"/>
<path d="M778 376h40v2h-40zM778 380h40v1h-40z" fill="url(#hv)" opacity="0.188"/>
<path d="M778 390h40v1h-40z" fill="url(#hv)" opacity="0.250"/>
<path d="M778 399h40v2h-40z" fill="url(#hv)" opacity="0.312"/>
<path d="M788 351h20v1h-20zM788 354h20v2h-20zM788 361h20v2h-20z" fill="url(#hv)" opacity="0.062"/>
<path d="M788 365h20v2h-20zM788 381h20v1h-20z" fill="url(#hv)" opacity="0.125"/>
<path d="M788 348h20v2h-20z" fill="url(#hv)" opacity="0.062"/>
<path d="M788 365h20v2h-20zM788 369h20v2h-20zM788 387h20v1h-20z" fill="url(#hv)" opacity="0.125"/>
<path d="M788 391h20v1h-20z" fill="url(#hv)" opacity="0.250"/>
<path d="M788 398h20v2h-20z" fill="url(#hv)" opacity="0.312"/>
<path d="M798 347h40v1h-40zM798 356h40v2h-40z" fill="url(#hv)" opacity="0.062"/>
<path d="M798 360h40v2h-40zM798 383h40v2h-40z" fill="url(#hv)" opacity="0.125"/>
<path d="M798 373h40v2h-40z" fill="url(#hv)" opacity="0.188"/>
<path d="M798 394h40v1h-40zM798 399h40v2h-40z" fill="url(#hv)" opacity="0.250"/>
<path d="M798 396h40v2h-40z" fill="url(#hv)" opacity="0.312"/>
<path d="M798 349h30v2h-30zM798 356h30v2h-30zM798 359h30v2h-30z" fill="url(#hv)" opacity="0.062"/>
<path d="M798 363h30v1h-30zM798 365h30v1h-30zM798 367h30v1h-30zM798 367h30v2h-30zM798 376h30v1h-30zM798 378h30v2h-30zM798 383h30v1h-30z" fill="url(#hv)" opacity="0.125"/>
<path d="M798 371h30v1h-30zM798 381h30v1h-30zM798 388h30v2h-30z" fill="url(#hv)" opacity="0.188"/>
<path d="M798 385h30v2h-30zM798 399h30v2h-30z" fill="url(#hv)" opacity="0.250"/>
<path d="M808 348h30v2h-30zM808 353h30v2h-30zM808 355h30v2h-30z" fill="url(#hv)" opacity="0.062"/>
<path d="M808 363h30v2h-30zM808 368h30v2h-30zM808 371h30v1h-30z" fill="url(#hv)" opacity="0.125"/>
<path d="M808 375h30v1h-30zM808 376h30v2h-30zM808 380h30v1h-30zM808 381h30v2h-30zM808 383h30v2h-30zM808 390h30v1h-30zM808 393h30v1h-30z" fill="url(#hv)" opacity="0.188"/>
<path d="M808 385h30v2h-30zM808 388h30v1h-30z" fill="url(#hv)" opacity="0.250"/>
<path d="M808 397h30v1h-30zM808 398h30v2h-30zM808 401h30v1h-30z" fill="url(#hv)" opacity="0.312"/>
<path d="M808 349h20v2h-20zM808 361h20v2h-20z" fill="url(#hv)" opacity="0.062"/>
<path d="M808 366h20v1h-20zM808 371h20v1h-20z" fill="url(#hv)" opacity="0.125"/>
<path d="M808 378h20v2h-20z" fill="url(#hv)" opacity="0.188"/>
<path d="M808 399h20v1h-20z" fill="url(#hv)" opacity="0.312"/>
<path d="M818 349h40v2h-40z" fill="url(#hv)" opacity="0.062"/>
<path d="M818 365h40v1h-40z" fill="url(#hv)" opacity="0.125"/>
<path d="M818 380h40v2h-40zM818 387h40v2h-40z" fill="url(#hv)" opacity="0.188"/>
<path d="M818 395h40v2h-40z" fill="url(#hv)" opacity="0.375"/>
<path d="M818 348h20v2h-20zM818 353h20v2h-20zM818 366h20v1h-20z" fill="url(#hv)" opacity="0.062"/>
<path d="M818 359h20v2h-20z" fill="url(#hv)" opacity="0.125"/>
<path d="M818 375h20v1h-20zM818 379h20v2h-20zM818 388h20v2h-20z" fill="url(#hv)" opacity="0.188"/>
<path d="M818 378h20v1h-20z" fill="url(#hv)" opacity="0.250"/>
<path d="M818 397h20v2h-20z" fill="url(#hv)" opacity="0.312"/>
<path d="M828 347h40v2h-40zM828 349h40v2h-40zM828 351h40v2h-40zM828 353h40v2h-40z" fill="url(#hv)" opacity="0.062"/>
<path d="M828 370h40v2h-40z" fill="url(#hv)" opacity="0.125"/>
<path d="M828 390h40v2h-40z" fill="url(#hv)" opacity="0.188"/>
<path d="M828 388h40v2h-40zM828 394h40v2h-40z" fill="url(#hv)" opacity="0.250"/>
<path d="M828 393h40v1h-40zM828 397h40v1h-40z" fill="url(#hv)" opacity="0.312"/>
<path d="M828 398h40v2h-40z" fill="url(#hv)" opacity="0.375"/>
<path d="M828 350h20v1h-20zM828 362h20v1h-20z" fill="url(#hv)" opacity="0.062"/>
<path d="M828 365h20v2h-20zM828 373h20v1h-20zM828 385h20v1h-20z" fill="url(#hv)" opacity="0.125"/>
<path d="M828 369h20v1h-20zM828 380h20v2h-20zM828 388h20v1h-20z" fill="url(#hv)" opacity="0.188"/>
<path d="M828 391h20v2h-20zM828 396h20v1h-20z" fill="url(#hv)" opacity="0.250"/>
<path d="M838 360h60v2h-60zM838 364h60v2h-60z" fill="url(#hv)" opacity="0.062"/>
<path d="M838 374h60v2h-60zM838 378h60v2h-60zM838 381h60v2h-60z" fill="url(#hv)" opacity="0.188"/>
<path d="M838 385h60v2h-60zM838 389h60v1h-60z" fill="url(#hv)" opacity="0.250"/>
<path d="M838 395h60v2h-60z" fill="url(#hv)" opacity="0.312"/>
<path d="M838 346h40v2h-40zM838 349h40v1h-40zM838 351h40v1h-40zM838 353h40v1h-40z" fill="url(#hv)" opacity="0.062"/>
<path d="M838 364h40v1h-40zM838 365h40v2h-40zM838 367h40v2h-40zM838 370h40v1h-40zM838 372h40v1h-40zM838 374h40v1h-40zM838 375h40v2h-40z" fill="url(#hv)" opacity="0.125"/>
<path d="M838 377h40v2h-40zM838 380h40v2h-40zM838 384h40v2h-40zM838 387h40v1h-40zM838 391h40v1h-40z" fill="url(#hv)" opacity="0.188"/>
<path d="M838 388h40v2h-40zM838 393h40v1h-40zM838 394h40v2h-40z" fill="url(#hv)" opacity="0.250"/>
<path d="M838 396h40v2h-40zM838 401h40v1h-40z" fill="url(#hv)" opacity="0.375"/>
<path d="M848 380h20v2h-20zM848 386h20v2h-20z" fill="url(#hv)" opacity="0.125"/>
<path d="M848 374h20v2h-20zM848 392h20v1h-20z" fill="url(#hv)" opacity="0.188"/>
<path d="M848 350h40v2h-40zM848 362h40v1h-40z" fill="url(#hv)" opacity="0.062"/>
<path d="M848 367h40v1h-40z" fill="url(#hv)" opacity="0.125"/>
<path d="M848 382h40v2h-40z" fill="url(#hv)" opacity="0.188"/>
<path d="M848 398h40v1h-40z" fill="url(#hv)" opacity="0.312"/>
<path d="M858 352h30v2h-30zM858 354h30v2h-30zM858 358h30v2h-30zM858 360h30v2h-30z" fill="url(#hv)" opacity="0.062"/>
<path d="M858 363h30v2h-30zM858 366h30v1h-30zM858 368h30v1h-30zM858 370h30v1h-30z" fill="url(#hv)" opacity="0.125"/>
<path d="M858 377h30v1h-30zM858 380h30v2h-30zM858 384h30v2h-30zM858 387h30v1h-30z" fill="url(#hv)" opacity="0.188"/>
<path d="M858 378h30v2h-30zM858 389h30v1h-30zM858 393h30v2h-30zM858 396h30v1h-30z" fill="url(#hv)" opacity="0.250"/>
<path d="M858 391h30v2h-30zM858 399h30v2h-30z" fill="url(#hv)" opacity="0.312"/>
<path d="M858 402h30v1h-30z" fill="url(#hv)" opacity="0.375"/>
<path d="M858 352h40v1h-40zM858 355h40v1h-40zM858 359h40v1h-40z" fill="url(#hv)" opacity="0.062"/>
<path d="M858 381h40v1h-40zM858 384h40v2h-40z" fill="url(#hv)" opacity="0.188"/>
<path d="M858 395h40v2h-40zM858 400h40v1h-40z" fill="url(#hv)" opacity="0.312"/>
<path d="M868 351h60v1h-60zM868 353h60v1h-60zM868 357h60v2h-60zM868 360h60v1h-60z" fill="url(#hv)" opacity="0.062"/>
<path d="M868 363h60v2h-60zM868 370h60v2h-60z" fill="url(#hv)" opacity="0.125"/>
<path d="M868 376h60v2h-60z" fill="url(#hv)" opacity="0.188"/>
<path d="M868 393h60v1h-60zM868 401h60v1h-60z" fill="url(#hv)" opacity="0.250"/>
<path d="M868 394h60v2h-60zM868 398h60v2h-60z" fill="url(#hv)" opacity="0.312"/>
<path d="M868 396h60v2h-60z" fill="url(#hv)" opacity="0.375"/>
<path d="M868 353h10v2h-10z" fill="url(#hv)" opacity="0.062"/>
<path d="M868 370h10v1h-10z" fill="url(#hv)" opacity="0.125"/>
<path d="M868 381h10v1h-10zM868 391h10v2h-10z" fill="url(#hv)" opacity="0.250"/>
<path d="M868 398h10v1h-10z" fill="url(#hv)" opacity="0.312"/>
<path d="M878 349h40v1h-40zM878 350h40v2h-40zM878 352h40v2h-40zM878 359h40v1h-40z" fill="url(#hv)" opacity="0.062"/>
<path d="M878 363h40v1h-40zM878 364h40v2h-40zM878 366h40v2h-40z" fill="url(#hv)" opacity="0.125"/>
<path d="M878 371h40v2h-40zM878 373h40v2h-40z" fill="url(#hv)" opacity="0.188"/>
<path d="M878 387h40v2h-40zM878 390h40v1h-40z" fill="url(#hv)" opacity="0.250"/>
<path d="M878 399h40v2h-40z" fill="url(#hv)" opacity="0.312"/>
<path d="M878 349h40v1h-40zM878 351h40v2h-40zM878 354h40v1h-40zM878 356h40v1h-40zM878 359h40v1h-40z" fill="url(#hv)" opacity="0.062"/>
<path d="M878 362h40v2h-40zM878 366h40v1h-40zM878 369h40v2h-40zM878 375h40v1h-40zM878 377h40v2h-40z" fill="url(#hv)" opacity="0.125"/>
<path d="M878 373h40v1h-40zM878 384h40v2h-40zM878 388h40v2h-40z" fill="url(#hv)" opacity="0.188"/>
<path d="M878 380h40v1h-40zM878 381h40v2h-40zM878 386h40v2h-40zM878 393h40v2h-40z" fill="url(#hv)" opacity="0.250"/>
<path d="M878 395h40v2h-40zM878 398h40v2h-40zM878 400h40v2h-40z" fill="url(#hv)" opacity="0.312"/>
<path d="M888 350h40v2h-40zM888 354h40v2h-40zM888 357h40v1h-40z" fill="url(#hv)" opacity="0.062"/>
<path d="M888 361h40v1h-40zM888 365h40v1h-40zM888 366h40v2h-40zM888 368h40v1h-40zM888 370h40v1h-40zM888 373h40v2h-40zM888 375h40v2h-40zM888 382h40v1h-40z" fill="url(#hv)" opacity="0.125"/>
<path d="M888 377h40v2h-40zM888 383h40v2h-40zM888 390h40v1h-40zM888 391h40v2h-40z" fill="url(#hv)" opacity="0.188"/>
<path d="M888 396h40v1h-40z" fill="url(#hv)" opacity="0.375"/>
<path d="M888 397h40v2h-40zM888 401h40v2h-40z" fill="url(#hv)" opacity="0.438"/>
<path d="M888 349h20v2h-20zM888 351h20v1h-20zM888 352h20v2h-20zM888 358h20v1h-20z" fill="url(#hv)" opacity="0.062"/>
<path d="M888 360h20v2h-20zM888 364h20v1h-20zM888 366h20v1h-20zM888 368h20v2h-20zM888 372h20v1h-20zM888 373h20v1h-20zM888 377h20v2h-20zM888 391h20v2h-20z" fill="url(#hv)" opacity="0.125"/>
<path d="M888 380h20v1h-20zM888 380h20v2h-20zM888 383h20v1h-20zM888 386h20v1h-20zM888 388h20v2h-20zM888 391h20v1h-20z" fill="url(#hv)" opacity="0.188"/>
<path d="M888 387h20v2h-20z" fill="url(#hv)" opacity="0.250"/>
<path d="M888 393h20v2h-20zM888 397h20v1h-20z" fill="url(#hv)" opacity="0.312"/>
<path d="M898 355h40v2h-40z" fill="url(#hv)" opacity="0.062"/>
<path d="M898 372h40v2h-40z" fill="url(#hv)" opacity="0.125"/>
<path d="M898 378h40v1h-40z" fill="url(#hv)" opacity="0.188"/>
<path d="M898 381h40v2h-40zM898 394h40v2h-40z" fill="url(#hv)" opacity="0.250"/>
<path d="M898 349h40v2h-40zM898 354h40v2h-40zM898 357h40v2h-40zM898 359h40v2h-40zM898 362h40v2h-40z" fill="url(#hv)" opacity="0.062"/>
<path d="M898 375h40v1h-40zM898 381h40v2h-40z" fill="url(#hv)" opacity="0.188"/>
<path d="M908 349h20v2h-20zM908 352h20v1h-20zM908 356h20v1h-20zM908 356h20v2h-20zM908 358h20v2h-20z" fill="url(#hv)" opacity="0.062"/>
<path d="M908 364h20v2h-20zM908 367h20v1h-20zM908 368h20v1h-20zM908 378h20v1h-20zM908 381h20v1h-20z" fill="url(#hv)" opacity="0.125"/>
<path d="M908 385h20v1h-20zM908 390h20v2h-20zM908 398h20v1h-20z" fill="url(#hv)" opacity="0.188"/>
<path d="M908 383h20v1h-20zM908 392h20v1h-20zM908 393h20v2h-20z" fill="url(#hv)" opacity="0.250"/>
<path d="M908 345h40v2h-40z" fill="url(#hv)" opacity="0.062"/>
<path d="M908 363h40v1h-40z" fill="url(#hv)" opacity="0.125"/>
<path d="M908 378h40v2h-40zM908 387h40v1h-40z" fill="url(#hv)" opacity="0.188"/>
<path d="M908 395h40v1h-40z" fill="url(#hv)" opacity="0.312"/>
<path d="M918 348h10v2h-10z" fill="url(#hv)" opacity="0.062"/>
<path d="M918 364h10v2h-10zM918 370h10v2h-10z" fill="url(#hv)" opacity="0.125"/>
<path d="M918 376h10v1h-10zM918 386h10v2h-10zM918 392h10v2h-10z" fill="url(#hv)" opacity="0.188"/>
<path d="M918 397h10v2h-10z" fill="url(#hv)" opacity="0.250"/>
<path d="M918 350h40v2h-40zM918 356h40v2h-40z" fill="url(#hv)" opacity="0.062"/>
<path d="M918 363h40v2h-40zM918 371h40v1h-40z" fill="url(#hv)" opacity="0.125"/>
<path d="M918 377h40v1h-40zM918 390h40v1h-40z" fill="url(#hv)" opacity="0.188"/>
<path d="M918 397h40v1h-40z" fill="url(#hv)" opacity="0.250"/>
<path d="M928 348h20v2h-20zM928 351h20v1h-20zM928 352h20v2h-20zM928 355h20v2h-20zM928 357h20v2h-20zM928 360h20v1h-20zM928 362h20v2h-20z" fill="url(#hv)" opacity="0.062"/>
<path d="M928 361h20v2h-20zM928 365h20v1h-20zM928 368h20v2h-20zM928 370h20v2h-20z" fill="url(#hv)" opacity="0.125"/>
<path d="M928 374h20v1h-20zM928 377h20v2h-20zM928 390h20v2h-20zM928 395h20v2h-20z" fill="url(#hv)" opacity="0.188"/>
<path d="M928 382h20v2h-20zM928 384h20v2h-20zM928 387h20v1h-20zM928 400h20v1h-20z" fill="url(#hv)" opacity="0.250"/>
<path d="M928 393h20v2h-20zM928 397h20v2h-20z" fill="url(#hv)" opacity="0.312"/>
<path d="M928 402h20v1h-20z" fill="url(#hv)" opacity="0.375"/>
<path d="M928 346h30v2h-30zM928 349h30v2h-30zM928 352h30v1h-30zM928 354h30v2h-30zM928 367h30v1h-30z" fill="url(#hv)" opacity="0.062"/>
<path d="M928 359h30v2h-30zM928 364h30v1h-30zM928 369h30v1h-30zM928 382h30v1h-30zM928 383h30v2h-30z" fill="url(#hv)" opacity="0.125"/>
<path d="M928 379h30v1h-30zM928 386h30v1h-30zM928 394h30v1h-30zM928 395h30v2h-30z" fill="url(#hv)" opacity="0.188"/>
<path d="M928 389h30v1h-30zM928 398h30v2h-30z" fill="url(#hv)" opacity="0.250"/>
<path d="M938 347h10v2h-10zM938 361h10v2h-10zM938 366h10v2h-10z" fill="url(#hv)" opacity="0.062"/>
<path d="M938 370h10v2h-10zM938 375h10v2h-10zM938 384h10v2h-10z" fill="url(#hv)" opacity="0.125"/>
<path d="M938 380h10v1h-10zM938 389h10v2h-10z" fill="url(#hv)" opacity="0.188"/>
<path d="M938 393h10v2h-10z" fill="url(#hv)" opacity="0.250"/>
<path d="M938 350h40v1h-40zM938 352h40v2h-40zM938 357h40v2h-40z" fill="url(#hv)" opacity="0.062"/>
<path d="M938 360h40v2h-40zM938 363h40v1h-40zM938 373h40v2h-40z" fill="url(#hv)" opacity="0.125"/>
<path d="M938 379h40v1h-40z" fill="url(#hv)" opacity="0.188"/>
<path d="M938 389h40v2h-40zM938 395h40v1h-40z" fill="url(#hv)" opacity="0.250"/>
<path d="M938 393h40v1h-40z" fill="url(#hv)" opacity="0.312"/>
<path d="M948 356h20v2h-20zM948 359h20v2h-20z" fill="url(#hv)" opacity="0.062"/>
<path d="M948 369h20v1h-20zM948 374h20v2h-20zM948 377h20v2h-20z" fill="url(#hv)" opacity="0.125"/>
<path d="M948 371h20v2h-20zM948 385h20v2h-20z" fill="url(#hv)" opacity="0.188"/>
<path d="M948 379h20v2h-20zM948 388h20v2h-20z" fill="url(#hv)" opacity="0.250"/>
<path d="M948 400h20v2h-20z" fill="url(#hv)" opacity="0.312"/>
<path d="M948 350h20v2h-20zM948 364h20v2h-20z" fill="url(#hv)" opacity="0.062"/>
<path d="M948 371h20v2h-20zM948 375h20v1h-20z" fill="url(#hv)" opacity="0.125"/>
<path d="M948 378h20v2h-20zM948 388h20v2h-20zM948 395h20v2h-20z" fill="url(#hv)" opacity="0.188"/>
<path d="M958 348h40v1h-40zM958 349h40v2h-40zM958 353h40v2h-40zM958 356h40v2h-40zM958 358h40v2h-40zM958 360h40v2h-40z" fill="url(#hv)" opacity="0.062"/>
<path d="M958 362h40v1h-40zM958 364h40v1h-40zM958 367h40v1h-40zM958 369h40v1h-40zM958 376h40v1h-40zM958 378h40v1h-40zM958 388h40v1h-40zM958 389h40v2h-40z" fill="url(#hv)" opacity="0.125"/>
<path d="M958 373h40v1h-40zM958 379h40v1h-40zM958 380h40v2h-40z" fill="url(#hv)" opacity="0.188"/>
<path d="M958 385h40v1h-40z" fill="url(#hv)" opacity="0.250"/>
<path d="M958 400h40v1h-40z" fill="url(#hv)" opacity="0.312"/>
<path d="M958 349h20v2h-20zM958 353h20v2h-20zM958 358h20v1h-20z" fill="url(#hv)" opacity="0.062"/>
<path d="M958 375h20v1h-20zM958 379h20v1h-20zM958 382h20v2h-20zM958 386h20v2h-20z" fill="url(#hv)" opacity="0.188"/>
<path d="M958 394h20v2h-20zM958 398h20v2h-20z" fill="url(#hv)" opacity="0.312"/>
<path d="M968 357h30v1h-30z" fill="url(#hv)" opacity="0.062"/>
<path d="M968 384h30v1h-30z" fill="url(#hv)" opacity="0.188"/>
<path d="M968 389h30v2h-30z" fill="url(#hv)" opacity="0.250"/>
<path d="M968 357h20v1h-20zM968 362h20v2h-20z" fill="url(#hv)" opacity="0.062"/>
<path d="M968 372h20v2h-20z" fill="url(#hv)" opacity="0.125"/>
<path d="M968 387h20v2h-20z" fill="url(#hv)" opacity="0.188"/>
<path d="M978 351h20v2h-20zM978 357h20v2h-20z" fill="url(#hv)" opacity="0.062"/>
<path d="M978 363h20v2h-20zM978 381h20v1h-20z" fill="url(#hv)" opacity="0.125"/>
<path d="M978 391h20v2h-20z" fill="url(#hv)" opacity="0.188"/>
<path d="M978 349h10v2h-10zM978 352h10v2h-10zM978 354h10v2h-10zM978 368h10v2h-10z" fill="url(#hv)" opacity="0.062"/>
<path d="M978 359h10v2h-10zM978 363h10v2h-10z" fill="url(#hv)" opacity="0.125"/>
<path d="M978 374h10v1h-10zM978 375h10v2h-10zM978 380h10v1h-10z" fill="url(#hv)" opacity="0.188"/>
<path d="M978 385h10v1h-10zM978 389h10v2h-10zM978 391h10v2h-10zM978 393h10v2h-10zM978 397h10v1h-10z" fill="url(#hv)" opacity="0.250"/>
<path d="M978 401h10v1h-10z" fill="url(#hv)" opacity="0.312"/>
<path d="M978 398h10v2h-10z" fill="url(#hv)" opacity="0.438"/>
<path d="M988 353h60v2h-60zM988 356h60v2h-60z" fill="url(#hv)" opacity="0.062"/>
<path d="M988 367h60v2h-60zM988 372h60v1h-60zM988 378h60v2h-60z" fill="url(#hv)" opacity="0.125"/>
<path d="M988 392h60v2h-60z" fill="url(#hv)" opacity="0.188"/>
<path d="M988 388h60v2h-60z" fill="url(#hv)" opacity="0.250"/>
<path d="M988 349h20v1h-20zM988 355h20v2h-20z" fill="url(#hv)" opacity="0.062"/>
<path d="M988 365h20v2h-20zM988 375h20v2h-20z" fill="url(#hv)" opacity="0.125"/>
<path d="M988 379h20v2h-20zM988 383h20v1h-20zM988 389h20v2h-20z" fill="url(#hv)" opacity="0.188"/>
<path d="M998 355h30v2h-30z" fill="url(#hv)" opacity="0.062"/>
<path d="M998 362h30v1h-30zM998 367h30v2h-30z" fill="url(#hv)" opacity="0.125"/>
<path d="M998 346h20v1h-20zM998 351h20v2h-20zM998 361h20v2h-20z" fill="url(#hv)" opacity="0.062"/>
<path d="M998 364h20v2h-20zM998 378h20v2h-20z" fill="url(#hv)" opacity="0.125"/>
<path d="M998 372h20v2h-20zM998 376h20v2h-20zM998 384h20v2h-20zM998 392h20v2h-20z" fill="url(#hv)" opacity="0.188"/>
<path d="M998 388h20v2h-20zM998 390h20v2h-20z" fill="url(#hv)" opacity="0.250"/>
<path d="M998 399h20v1h-20z" fill="url(#hv)" opacity="0.312"/>
<path d="M1008 348h20v1h-20zM1008 350h20v2h-20zM1008 353h20v2h-20zM1008 357h20v1h-20zM1008 359h20v1h-20zM1008 361h20v1h-20zM1008 362h20v1h-20z" fill="url(#hv)" opacity="0.062"/>
<path d="M1008 363h20v2h-20zM1008 364h20v2h-20zM1008 366h20v2h-20zM1008 369h20v1h-20zM1008 369h20v2h-20zM1008 371h20v2h-20zM1008 373h20v1h-20z" fill="url(#hv)" opacity="0.125"/>
<path d="M1008 377h20v2h-20zM1008 379h20v2h-20zM1008 381h20v1h-20zM1008 383h20v2h-20zM1008 385h20v2h-20zM1008 390h20v2h-20zM1008 391h20v2h-20z" fill="url(#hv)" opacity="0.188"/>
<path d="M1008 395h20v2h-20zM1008 397h20v1h-20z" fill="url(#hv)" opacity="0.250"/>
<path d="M1008 399h20v2h-20z" fill="url(#hv)" opacity="0.312"/>
<path d="M1008 401h20v2h-20z" fill="url(#hv)" opacity="0.375"/>
<path d="M1008 352h20v2h-20zM1008 357h20v2h-20z" fill="url(#hv)" opacity="0.062"/>
<path d="M1008 367h20v2h-20zM1008 383h20v1h-20z" fill="url(#hv)" opacity="0.125"/>
<path d="M1008 377h20v2h-20zM1008 388h20v1h-20z" fill="url(#hv)" opacity="0.188"/>
<path d="M1008 393h20v1h-20z" fill="url(#hv)" opacity="0.250"/>
<path d="M1018 351h20v2h-20z" fill="url(#hv)" opacity="0.062"/>
<path d="M1018 367h20v2h-20zM1018 387h20v2h-20z" fill="url(#hv)" opacity="0.125"/>
<path d="M1018 375h20v2h-20zM1018 392h20v1h-20zM1018 395h20v2h-20z" fill="url(#hv)" opacity="0.188"/>
<path d="M1018 399h20v2h-20z" fill="url(#hv)" opacity="0.312"/>
<path d="M1018 348h20v2h-20zM1018 349h20v2h-20zM1018 353h20v2h-20zM1018 355h20v2h-20zM1018 359h20v2h-20zM1018 381h20v2h-20z" fill="url(#hv)" opacity="0.062"/>
<path d="M1018 362h20v2h-20zM1018 374h20v1h-20zM1018 383h20v1h-20z" fill="url(#hv)" opacity="0.125"/>
<path d="M1018 375h20v2h-20zM1018 378h20v1h-20zM1018 393h20v2h-20z" fill="url(#hv)" opacity="0.188"/>
<path d="M1018 384h20v2h-20zM1018 396h20v1h-20z" fill="url(#hv)" opacity="0.250"/>
<path d="M1018 397h20v2h-20zM1018 399h20v2h-20z" fill="url(#hv)" opacity="0.312"/>
<path d="M1018 402h20v1h-20z" fill="url(#hv)" opacity="0.375"/>
<path d="M1028 347h20v2h-20zM1028 355h20v2h-20z" fill="url(#hv)" opacity="0.062"/>
<path d="M1028 362h20v1h-20zM1028 363h20v2h-20zM1028 372h20v1h-20z" fill="url(#hv)" opacity="0.125"/>
<path d="M1028 375h20v1h-20zM1028 377h20v1h-20z" fill="url(#hv)" opacity="0.188"/>
<path d="M1028 383h20v1h-20z" fill="url(#hv)" opacity="0.250"/>
<path d="M1028 355h20v1h-20z" fill="url(#hv)" opacity="0.062"/>
<path d="M1028 359h20v2h-20zM1028 368h20v2h-20zM1028 376h20v2h-20z" fill="url(#hv)" opacity="0.125"/>
<path d="M1028 372h20v2h-20zM1028 381h20v2h-20z" fill="url(#hv)" opacity="0.188"/>
<path d="M1038 348h10v2h-10zM1038 350h10v2h-10zM1038 353h10v2h-10z" fill="url(#hv)" opacity="0.062"/>
<path d="M1038 358h10v1h-10zM1038 362h10v2h-10zM1038 368h10v2h-10zM1038 372h10v1h-10zM1038 380h10v2h-10z" fill="url(#hv)" opacity="0.125"/>
<path d="M1038 375h10v1h-10zM1038 377h10v2h-10zM1038 381h10v2h-10zM1038 383h10v2h-10zM1038 384h10v2h-10zM1038 388h10v1h-10zM1038 389h10v2h-10zM1038 396h10v2h-10zM1038 399h10v2h-10zM1038 402h10v1h-10z" fill="url(#hv)" opacity="0.188"/>
<path d="M1038 393h10v2h-10z" fill="url(#hv)" opacity="0.250"/>
<path d="M1038 398h10v2h-10z" fill="url(#hv)" opacity="0.312"/>
<path d="M1038 368h10v1h-10zM1038 371h10v2h-10zM1038 379h10v1h-10z" fill="url(#hv)" opacity="0.125"/>
<path d="M1038 386h10v1h-10z" fill="url(#hv)" opacity="0.188"/>
<path d="M1038 400h10v1h-10z" fill="url(#hv)" opacity="0.250"/>
<path d="M1048 355h0v2h-0zM1048 358h0v1h-0zM1048 360h0v1h-0z" fill="url(#hv)" opacity="0.062"/>
<path d="M1048 361h0v2h-0zM1048 366h0v1h-0zM1048 368h0v1h-0zM1048 370h0v1h-0zM1048 388h0v1h-0z" fill="url(#hv)" opacity="0.125"/>
<path d="M1048 376h0v1h-0zM1048 380h0v1h-0zM1048 384h0v1h-0zM1048 399h0v2h-0z" fill="url(#hv)" opacity="0.188"/>
<path d="M1048 395h0v2h-0zM1048 397h0v2h-0z" fill="url(#hv)" opacity="0.250"/>
<path d="M1048 353h0v2h-0zM1048 358h0v2h-0zM1048 364h0v2h-0z" fill="url(#hv)" opacity="0.062"/>
<path d="M1048 370h0v1h-0z" fill="url(#hv)" opacity="0.125"/>
<path d="M1048 380h0v2h-0zM1048 397h0v2h-0z" fill="url(#hv)" opacity="0.188"/>
<path d="M1048 392h0v1h-0z" fill="url(#hv)" opacity="0.250"/>
<path d="M1058 347h10v1h-10zM1058 350h10v1h-10zM1058 354h10v1h-10zM1058 354h10v2h-10zM1058 363h10v2h-10z" fill="url(#hv)" opacity="0.062"/>
<path d="M1058 368h10v1h-10zM1058 368h10v2h-10zM1058 376h10v2h-10zM1058 381h10v2h-10z" fill="url(#hv)" opacity="0.125"/>
<path d="M1058 372h10v1h-10zM1058 373h10v2h-10zM1058 379h10v1h-10zM1058 384h10v2h-10zM1058 387h10v2h-10zM1058 390h10v2h-10z" fill="url(#hv)" opacity="0.188"/>
<path d="M1058 393h10v2h-10zM1058 395h10v2h-10z" fill="url(#hv)" opacity="0.250"/>
<path d="M1058 398h10v2h-10z" fill="url(#hv)" opacity="0.312"/>
<path d="M1058 399h10v2h-10z" fill="url(#hv)" opacity="0.375"/>
<path d="M1058 350h10v1h-10zM1058 356h10v2h-10zM1058 363h10v2h-10z" fill="url(#hv)" opacity="0.062"/>
<path d="M1058 365h10v2h-10zM1058 379h10v2h-10z" fill="url(#hv)" opacity="0.125"/>
<path d="M1058 377h10v2h-10zM1058 382h10v2h-10zM1058 391h10v2h-10z" fill="url(#hv)" opacity="0.188"/>
<path d="M1058 387h10v1h-10z" fill="url(#hv)" opacity="0.250"/>
<path d="M1058 401h10v1h-10z" fill="url(#hv)" opacity="0.312"/>
<path d="M1068 365h29v1h-29zM1068 379h29v2h-29z" fill="url(#hv)" opacity="0.125"/>
<path d="M1068 388h29v1h-29z" fill="url(#hv)" opacity="0.188"/>
<path d="M1068 395h29v2h-29z" fill="url(#hv)" opacity="0.250"/>
<path d="M1068 354h39v2h-39zM1068 362h39v2h-39z" fill="url(#hv)" opacity="0.062"/>
<path d="M1068 385h39v1h-39z" fill="url(#hv)" opacity="0.125"/>
<path d="M1068 369h39v2h-39zM1068 381h39v1h-39zM1068 388h39v2h-39z" fill="url(#hv)" opacity="0.188"/>
<path d="M1068 395h39v2h-39z" fill="url(#hv)" opacity="0.312"/>
<path d="M1077 349h20v2h-20zM1077 353h20v1h-20zM1077 354h20v2h-20zM1077 357h20v2h-20z" fill="url(#hv)" opacity="0.062"/>
<path d="M1077 365h20v2h-20zM1077 370h20v2h-20zM1077 373h20v2h-20zM1077 386h20v2h-20z" fill="url(#hv)" opacity="0.125"/>
<path d="M1077 369h20v1h-20zM1077 377h20v1h-20zM1077 378h20v2h-20zM1077 382h20v1h-20zM1077 385h20v1h-20z" fill="url(#hv)" opacity="0.188"/>
<path d="M1077 392h20v2h-20z" fill="url(#hv)" opacity="0.250"/>
<path d="M1077 397h20v2h-20z" fill="url(#hv)" opacity="0.375"/>
<path d="M1077 363h38v1h-38zM1077 364h38v2h-38zM1077 367h38v2h-38z" fill="url(#hv)" opacity="0.125"/>
<path d="M1077 389h38v1h-38z" fill="url(#hv)" opacity="0.188"/>
<path d="M1077 398h38v2h-38z" fill="url(#hv)" opacity="0.312"/>
<path d="M1077 401h38v1h-38z" fill="url(#hv)" opacity="0.375"/>
<path d="M1087 348h10v2h-10zM1087 351h10v2h-10zM1087 354h10v2h-10zM1087 357h10v2h-10z" fill="url(#hv)" opacity="0.062"/>
<path d="M1087 360h10v2h-10z" fill="url(#hv)" opacity="0.125"/>
<path d="M1087 372h10v1h-10zM1087 388h10v2h-10z" fill="url(#hv)" opacity="0.188"/>
<path d="M1087 395h10v1h-10z" fill="url(#hv)" opacity="0.250"/>
<path d="M1087 401h10v1h-10z" fill="url(#hv)" opacity="0.312"/>
<path d="M1087 355h28v1h-28z" fill="url(#hv)" opacity="0.062"/>
<path d="M1087 361h28v2h-28z" fill="url(#hv)" opacity="0.125"/>
<path d="M1087 396h28v2h-28z" fill="url(#hv)" opacity="0.188"/>
<path d="M1087 389h28v2h-28z" fill="url(#hv)" opacity="0.250"/>
<path d="M1097 350h18v1h-18zM1097 353h18v2h-18z" fill="url(#hv)" opacity="0.062"/>
<path d="M1097 370h18v1h-18zM1097 378h18v2h-18zM1097 386h18v2h-18z" fill="url(#hv)" opacity="0.188"/>
<path d="M1097 394h18v2h-18z" fill="url(#hv)" opacity="0.250"/>
<path d="M1097 398h18v2h-18z" fill="url(#hv)" opacity="0.312"/>
<path d="M1097 356h18v2h-18z" fill="url(#hv)" opacity="0.062"/>
<path d="M1097 367h18v1h-18zM1097 369h18v2h-18zM1097 373h18v2h-18z" fill="url(#hv)" opacity="0.125"/>
<path d="M1097 377h18v1h-18zM1097 386h18v2h-18z" fill="url(#hv)" opacity="0.188"/>
<path d="M1097 384h18v1h-18zM1097 390h18v1h-18z" fill="url(#hv)" opacity="0.250"/>
<path d="M1107 354h8v1h-8zM1107 356h8v2h-8z" fill="url(#hv)" opacity="0.062"/>
<path d="M1107 365h8v2h-8zM1107 380h8v1h-8zM1107 381h8v2h-8z" fill="url(#hv)" opacity="0.125"/>
<path d="M1107 391h8v2h-8z" fill="url(#hv)" opacity="0.188"/>
<path d="M1107 394h8v1h-8zM1107 399h8v1h-8z" fill="url(#hv)" opacity="0.250"/>
<path d="M1107 401h8v1h-8z" fill="url(#hv)" opacity="0.312"/>
<path d="M1107 350h8v1h-8zM1107 352h8v1h-8zM1107 355h8v1h-8zM1107 358h8v2h-8zM1107 360h8v2h-8z" fill="url(#hv)" opacity="0.062"/>
<path d="M1107 363h8v1h-8zM1107 370h8v2h-8zM1107 380h8v2h-8zM1107 390h8v2h-8z" fill="url(#hv)" opacity="0.125"/>
<path d="M1107 373h8v1h-8zM1107 374h8v2h-8zM1107 376h8v2h-8zM1107 378h8v2h-8zM1107 383h8v1h-8zM1107 384h8v2h-8zM1107 387h8v1h-8zM1107 393h8v1h-8z" fill="url(#hv)" opacity="0.188"/>
<path d="M1107 388h8v2h-8zM1107 396h8v2h-8z" fill="url(#hv)" opacity="0.250"/>
<path d="M1107 398h8v2h-8z" fill="url(#hv)" opacity="0.312"/>
<path d="M729 368h10v2h-10z" fill="url(#hw)" opacity="0.062"/>
<path d="M729 320h10v1h-10zM729 357h10v3h-10zM729 360h10v2h-10zM729 359h10v3h-10z" fill="url(#hw)" opacity="0.125"/>
<path d="M729 321h10v2h-10zM729 321h10v3h-10zM729 324h10v2h-10zM729 332h10v1h-10zM729 340h10v2h-10zM729 344h10v1h-10zM729 346h10v2h-10zM729 354h10v2h-10zM729 353h10v3h-10zM729 355h10v2h-10zM729 363h10v2h-10zM729 365h10v2h-10zM729 366h10v2h-10zM729 371h10v2h-10zM729 372h10v2h-10zM729 374h10v2h-10zM729 379h10v2h-10z" fill="url(#hw)" opacity="0.188"/>
<path d="M729 327h10v2h-10zM729 326h10v3h-10zM729 329h10v1h-10zM729 331h10v2h-10zM729 334h10v2h-10zM729 336h10v1h-10zM729 339h10v1h-10zM729 339h10v2h-10zM729 342h10v1h-10zM729 360h10v1h-10z" fill="url(#hw)" opacity="0.250"/>
<path d="M729 335h10v2h-10zM729 347h10v2h-10zM729 348h10v2h-10zM729 351h10v1h-10zM729 351h10v2h-10z" fill="url(#hw)" opacity="0.312"/>
<path d="M729 296h10v1h-10zM729 301h10v2h-10zM729 302h10v2h-10zM729 303h10v2h-10zM729 305h10v2h-10zM729 306h10v3h-10zM729 313h10v2h-10zM729 315h10v2h-10z" fill="url(#hx)" opacity="0.125"/>
<path d="M729 271h10v2h-10zM729 280h10v2h-10zM729 288h10v2h-10zM729 292h10v2h-10zM729 300h10v2h-10zM729 306h10v2h-10zM729 315h10v1h-10zM729 314h10v2h-10z" fill="url(#hx)" opacity="0.188"/>
<path d="M729 287h10v1h-10zM729 287h10v2h-10zM729 294h10v1h-10zM729 295h10v2h-10zM729 309h10v2h-10z" fill="url(#hx)" opacity="0.250"/>
<rect x="729" y="245.23" width="1" height="116.43" fill="#fff" opacity="0.03"/>
<path d="M739 317h9v1h-9zM739 351h9v2h-9zM739 353h9v2h-9z" fill="url(#hw)" opacity="0.125"/>
<path d="M739 324h9v2h-9zM739 324h9v3h-9zM739 328h9v2h-9zM739 347h9v1h-9zM739 353h9v3h-9zM739 355h9v2h-9zM739 355h9v3h-9zM739 359h9v3h-9zM739 361h9v2h-9zM739 367h9v1h-9zM739 366h9v3h-9zM739 377h9v2h-9z" fill="url(#hw)" opacity="0.188"/>
<path d="M739 316h9v2h-9zM739 318h9v1h-9zM739 318h9v2h-9zM739 320h9v1h-9zM739 321h9v2h-9zM739 323h9v2h-9zM739 325h9v2h-9zM739 328h9v1h-9zM739 331h9v2h-9zM739 337h9v1h-9zM739 335h9v3h-9zM739 339h9v2h-9zM739 341h9v2h-9zM739 345h9v1h-9zM739 344h9v2h-9zM739 349h9v2h-9zM739 351h9v3h-9zM739 356h9v2h-9zM739 357h9v2h-9zM739 358h9v3h-9zM739 360h9v3h-9zM739 364h9v1h-9zM739 363h9v2h-9zM739 363h9v3h-9zM739 367h9v2h-9zM739 370h9v2h-9zM739 372h9v1h-9zM739 373h9v2h-9zM739 374h9v2h-9z" fill="url(#hw)" opacity="0.250"/>
<path d="M739 320h9v2h-9zM739 322h9v2h-9zM739 330h9v3h-9zM739 333h9v1h-9zM739 333h9v2h-9zM739 342h9v2h-9zM739 344h9v1h-9zM739 348h9v3h-9zM739 358h9v2h-9zM739 364h9v3h-9zM739 368h9v1h-9zM739 375h9v2h-9zM739 379h9v1h-9z" fill="url(#hw)" opacity="0.312"/>
<path d="M739 332h9v2h-9zM739 336h9v2h-9zM739 339h9v3h-9z" fill="url(#hw)" opacity="0.375"/>
<path d="M739 329h9v2h-9zM739 352h9v2h-9z" fill="url(#hw)" opacity="0.438"/>
<path d="M739 348h9v2h-9z" fill="url(#hw)" opacity="0.500"/>
<path d="M739 289h9v2h-9zM739 291h9v3h-9zM739 300h9v2h-9z" fill="url(#hx)" opacity="0.125"/>
<path d="M739 273h9v2h-9zM739 274h9v3h-9zM739 276h9v3h-9zM739 279h9v2h-9zM739 283h9v1h-9zM739 286h9v2h-9zM739 287h9v3h-9zM739 293h9v2h-9zM739 303h9v2h-9zM739 314h9v2h-9zM739 313h9v3h-9z" fill="url(#hx)" opacity="0.188"/>
<path d="M739 278h9v2h-9zM739 283h9v2h-9zM739 284h9v2h-9zM739 284h9v3h-9zM739 292h9v2h-9zM739 295h9v2h-9zM739 296h9v2h-9zM739 298h9v2h-9zM739 306h9v2h-9zM739 308h9v2h-9zM739 309h9v2h-9zM739 311h9v1h-9zM739 314h9v1h-9zM739 313h9v2h-9z" fill="url(#hx)" opacity="0.250"/>
<path d="M739 269h9v2h-9zM739 272h9v1h-9zM739 272h9v2h-9zM739 297h9v2h-9zM739 302h9v2h-9zM739 305h9v2h-9z" fill="url(#hx)" opacity="0.312"/>
<path d="M739 219h9v2h-9zM739 226h9v2h-9zM739 239h9v2h-9zM739 242h9v3h-9zM739 262h9v3h-9z" fill="url(#hy)" opacity="0.188"/>
<path d="M739 236h9v2h-9zM739 249h9v2h-9zM739 251h9v2h-9zM739 256h9v3h-9z" fill="url(#hy)" opacity="0.250"/>
<path d="M739 248h9v1h-9zM739 251h9v1h-9zM739 257h9v2h-9zM739 258h9v2h-9zM739 260h9v3h-9z" fill="url(#hy)" opacity="0.312"/>
<path d="M739 265h9v2h-9z" fill="url(#hy)" opacity="0.375"/>
<rect x="739" y="227.7" width="1" height="133.96" fill="#fff" opacity="0.11"/>
<path d="M748 323h10v2h-10zM748 328h10v2h-10zM748 331h10v2h-10zM748 335h10v2h-10z" fill="url(#hw)" opacity="0.062"/>
<path d="M748 320h10v3h-10zM748 328h10v1h-10zM748 327h10v2h-10zM748 328h10v3h-10zM748 352h10v3h-10z" fill="url(#hw)" opacity="0.125"/>
<path d="M748 331h10v3h-10zM748 360h10v2h-10zM748 362h10v2h-10zM748 364h10v2h-10zM748 366h10v2h-10zM748 369h10v2h-10zM748 372h10v3h-10z" fill="url(#hw)" opacity="0.188"/>
<path d="M748 337h10v1h-10zM748 350h10v1h-10zM748 354h10v3h-10zM748 359h10v1h-10zM748 361h10v1h-10zM748 369h10v3h-10zM748 371h10v2h-10zM748 377h10v1h-10zM748 376h10v2h-10z" fill="url(#hw)" opacity="0.250"/>
<path d="M748 340h10v1h-10zM748 340h10v2h-10zM748 341h10v2h-10zM748 349h10v3h-10zM748 358h10v2h-10zM748 359h10v2h-10z" fill="url(#hw)" opacity="0.312"/>
<path d="M748 338h10v2h-10zM748 344h10v2h-10zM748 349h10v2h-10z" fill="url(#hw)" opacity="0.375"/>
<path d="M748 347h10v2h-10z" fill="url(#hw)" opacity="0.438"/>
<path d="M748 351h10v2h-10z" fill="url(#hw)" opacity="0.500"/>
<path d="M748 283h10v2h-10zM748 293h10v2h-10zM748 296h10v2h-10zM748 299h10v3h-10zM748 302h10v2h-10zM748 309h10v3h-10zM748 313h10v3h-10zM748 316h10v1h-10z" fill="url(#hx)" opacity="0.062"/>
<path d="M748 275h10v3h-10zM748 281h10v2h-10zM748 284h10v1h-10zM748 285h10v3h-10zM748 305h10v2h-10zM748 309h10v2h-10zM748 314h10v2h-10zM748 315h10v2h-10z" fill="url(#hx)" opacity="0.125"/>
<path d="M748 271h10v1h-10zM748 270h10v3h-10zM748 273h10v2h-10zM748 289h10v3h-10zM748 306h10v2h-10zM748 312h10v2h-10z" fill="url(#hx)" opacity="0.188"/>
<path d="M748 263h10v2h-10z" fill="url(#hy)" opacity="0.188"/>
<rect x="748" y="269.35" width="1" height="92.32" fill="#fff" opacity="0.10"/>
<path d="M758 316h10v2h-10zM758 320h10v2h-10zM758 322h10v1h-10zM758 321h10v2h-10zM758 328h10v1h-10zM758 327h10v2h-10zM758 328h10v2h-10z" fill="url(#hw)" opacity="0.062"/>
<path d="M758 316h10v3h-10zM758 319h10v2h-10zM758 323h10v2h-10zM758 324h10v2h-10zM758 333h10v2h-10zM758 334h10v2h-10zM758 334h10v3h-10zM758 340h10v2h-10zM758 364h10v2h-10z" fill="url(#hw)" opacity="0.125"/>
<path d="M758 330h10v2h-10zM758 331h10v2h-10zM758 348h10v1h-10zM758 356h10v2h-10zM758 358h10v2h-10zM758 360h10v2h-10zM758 363h10v3h-10zM758 366h10v2h-10z" fill="url(#hw)" opacity="0.188"/>
<path d="M758 339h10v2h-10zM758 343h10v1h-10zM758 348h10v2h-10zM758 353h10v2h-10zM758 354h10v2h-10zM758 355h10v2h-10zM758 357h10v2h-10zM758 360h10v1h-10zM758 359h10v2h-10zM758 360h10v3h-10zM758 362h10v2h-10zM758 364h10v3h-10zM758 368h10v2h-10zM758 369h10v2h-10zM758 371h10v2h-10zM758 374h10v2h-10zM758 376h10v1h-10z" fill="url(#hw)" opacity="0.250"/>
<path d="M758 341h10v2h-10zM758 345h10v2h-10zM758 346h10v2h-10zM758 361h10v2h-10zM758 372h10v2h-10zM758 373h10v3h-10zM758 378h10v2h-10zM758 381h10v2h-10z" fill="url(#hw)" opacity="0.312"/>
<path d="M758 338h10v2h-10zM758 343h10v2h-10zM758 351h10v3h-10zM758 379h10v2h-10z" fill="url(#hw)" opacity="0.375"/>
<path d="M758 349h10v2h-10zM758 352h10v2h-10z" fill="url(#hw)" opacity="0.438"/>
<path d="M758 283h10v2h-10zM758 287h10v2h-10zM758 289h10v2h-10zM758 292h10v3h-10zM758 294h10v3h-10zM758 298h10v2h-10zM758 304h10v2h-10zM758 305h10v2h-10zM758 306h10v2h-10zM758 308h10v2h-10z" fill="url(#hx)" opacity="0.062"/>
<path d="M758 281h10v2h-10zM758 284h10v1h-10zM758 286h10v2h-10zM758 285h10v3h-10zM758 294h10v1h-10zM758 293h10v2h-10zM758 295h10v2h-10zM758 299h10v2h-10zM758 302h10v2h-10zM758 311h10v2h-10zM758 312h10v2h-10zM758 315h10v2h-10z" fill="url(#hx)" opacity="0.125"/>
<path d="M758 269h10v3h-10zM758 280h10v1h-10zM758 306h10v3h-10z" fill="url(#hx)" opacity="0.188"/>
<path d="M758 268h10v2h-10zM758 269h10v2h-10z" fill="url(#hx)" opacity="0.250"/>
<path d="M758 275h10v1h-10z" fill="url(#hx)" opacity="0.312"/>
<path d="M758 263h10v3h-10z" fill="url(#hy)" opacity="0.250"/>
<rect x="758" y="264.8" width="1" height="96.87" fill="#fff" opacity="0.15"/>
<path d="M768 323h10v1h-10zM768 327h10v1h-10zM768 337h10v2h-10zM768 353h10v3h-10z" fill="url(#hw)" opacity="0.125"/>
<path d="M768 318h10v2h-10zM768 320h10v2h-10zM768 325h10v2h-10zM768 353h10v2h-10zM768 355h10v3h-10zM768 357h10v2h-10zM768 361h10v2h-10zM768 366h10v2h-10zM768 372h10v2h-10z" fill="url(#hw)" opacity="0.188"/>
<path d="M768 318h10v1h-10zM768 317h10v2h-10zM768 320h10v1h-10zM768 326h10v1h-10zM768 324h10v3h-10zM768 329h10v1h-10zM768 330h10v2h-10zM768 331h10v2h-10zM768 332h10v2h-10zM768 337h10v1h-10zM768 338h10v2h-10zM768 341h10v2h-10zM768 349h10v2h-10zM768 355h10v1h-10zM768 356h10v2h-10zM768 359h10v2h-10zM768 365h10v1h-10zM768 366h10v1h-10zM768 368h10v2h-10zM768 375h10v2h-10zM768 374h10v3h-10zM768 380h10v2h-10z" fill="url(#hw)" opacity="0.250"/>
<path d="M768 327h10v2h-10zM768 333h10v2h-10zM768 339h10v2h-10zM768 340h10v2h-10zM768 343h10v2h-10zM768 347h10v1h-10zM768 362h10v2h-10zM768 372h10v1h-10zM768 374h10v2h-10zM768 379h10v2h-10z" fill="url(#hw)" opacity="0.312"/>
<path d="M768 321h10v2h-10zM768 344h10v2h-10zM768 345h10v3h-10zM768 347h10v2h-10zM768 350h10v2h-10z" fill="url(#hw)" opacity="0.375"/>
<path d="M768 290h10v3h-10zM768 296h10v1h-10zM768 304h10v1h-10zM768 306h10v2h-10zM768 314h10v1h-10z" fill="url(#hx)" opacity="0.188"/>
<path d="M768 273h10v2h-10zM768 278h10v3h-10zM768 285h10v1h-10zM768 288h10v2h-10zM768 292h10v2h-10zM768 297h10v2h-10zM768 300h10v2h-10zM768 303h10v2h-10zM768 305h10v2h-10zM768 308h10v2h-10zM768 309h10v2h-10z" fill="url(#hx)" opacity="0.250"/>
<path d="M768 267h10v2h-10zM768 283h10v2h-10zM768 287h10v2h-10zM768 296h10v2h-10zM768 299h10v2h-10zM768 310h10v2h-10zM768 312h10v1h-10zM768 313h10v2h-10z" fill="url(#hx)" opacity="0.312"/>
<path d="M768 272h10v2h-10zM768 278h10v1h-10zM768 278h10v2h-10zM768 277h10v3h-10zM768 285h10v2h-10z" fill="url(#hx)" opacity="0.375"/>
<path d="M768 270h10v3h-10z" fill="url(#hx)" opacity="0.500"/>
<path d="M768 221h10v2h-10zM768 229h10v1h-10zM768 233h10v2h-10zM768 234h10v2h-10z" fill="url(#hy)" opacity="0.188"/>
<path d="M768 241h10v2h-10zM768 246h10v3h-10zM768 248h10v2h-10zM768 256h10v3h-10z" fill="url(#hy)" opacity="0.250"/>
<path d="M768 239h10v2h-10zM768 250h10v3h-10z" fill="url(#hy)" opacity="0.312"/>
<rect x="768" y="216.07" width="1" height="145.59" fill="#fff" opacity="0.09"/>
<path d="M778 347h10v2h-10zM778 349h10v2h-10z" fill="url(#hw)" opacity="0.125"/>
<path d="M778 316h10v2h-10zM778 318h10v1h-10zM778 320h10v2h-10zM778 323h10v2h-10zM778 329h10v1h-10zM778 329h10v2h-10zM778 329h10v3h-10zM778 341h10v2h-10zM778 343h10v2h-10zM778 355h10v1h-10zM778 356h10v2h-10zM778 361h10v2h-10zM778 369h10v1h-10zM778 372h10v2h-10zM778 374h10v2h-10zM778 375h10v2h-10zM778 375h10v3h-10z" fill="url(#hw)" opacity="0.188"/>
<path d="M778 322h10v2h-10zM778 323h10v3h-10zM778 326h10v1h-10zM778 326h10v2h-10zM778 331h10v2h-10zM778 332h10v2h-10zM778 333h10v2h-10zM778 336h10v2h-10zM778 338h10v2h-10zM778 345h10v2h-10zM778 354h10v2h-10zM778 359h10v1h-10zM778 358h10v2h-10zM778 359h10v2h-10zM778 360h10v2h-10zM778 362h10v2h-10zM778 363h10v2h-10zM778 364h10v2h-10zM778 364h10v3h-10zM778 367h10v2h-10zM778 368h10v2h-10zM778 369h10v2h-10zM778 373h10v2h-10z" fill="url(#hw)" opacity="0.250"/>
<path d="M778 315h10v3h-10zM778 319h10v2h-10zM778 320h10v3h-10zM778 332h10v1h-10zM778 334h10v2h-10zM778 335h10v2h-10zM778 342h10v2h-10zM778 344h10v3h-10zM778 348h10v1h-10zM778 347h10v3h-10zM778 349h10v3h-10zM778 352h10v2h-10zM778 357h10v2h-10zM778 374h10v1h-10z" fill="url(#hw)" opacity="0.312"/>
<path d="M778 340h10v2h-10zM778 346h10v2h-10zM778 353h10v1h-10z" fill="url(#hw)" opacity="0.375"/>
<path d="M778 339h10v2h-10zM778 350h10v2h-10z" fill="url(#hw)" opacity="0.438"/>
<path d="M778 283h10v2h-10zM778 298h10v2h-10zM778 308h10v2h-10zM778 314h10v2h-10z" fill="url(#hx)" opacity="0.125"/>
<path d="M778 269h10v2h-10zM778 282h10v2h-10zM778 288h10v1h-10zM778 290h10v1h-10zM778 291h10v3h-10zM778 295h10v2h-10zM778 303h10v1h-10zM778 303h10v2h-10zM778 305h10v2h-10zM778 308h10v3h-10zM778 311h10v1h-10zM778 313h10v2h-10z" fill="url(#hx)" opacity="0.188"/>
<path d="M778 268h10v2h-10zM778 276h10v1h-10zM778 276h10v2h-10zM778 285h10v1h-10zM778 291h10v1h-10zM778 304h10v2h-10zM778 310h10v3h-10z" fill="url(#hx)" opacity="0.250"/>
<path d="M778 270h10v2h-10zM778 286h10v2h-10zM778 292h10v2h-10zM778 294h10v2h-10zM778 299h10v2h-10zM778 298h10v3h-10zM778 313h10v3h-10z" fill="url(#hx)" opacity="0.312"/>
<path d="M778 266h10v2h-10z" fill="url(#hx)" opacity="0.375"/>
<path d="M778 223h10v2h-10zM778 231h10v2h-10zM778 236h10v2h-10zM778 250h10v2h-10zM778 252h10v2h-10z" fill="url(#hy)" opacity="0.188"/>
<path d="M778 244h10v2h-10zM778 251h10v2h-10zM778 254h10v3h-10zM778 263h10v1h-10zM778 264h10v2h-10z" fill="url(#hy)" opacity="0.250"/>
<path d="M778 238h10v2h-10zM778 256h10v2h-10zM778 262h10v2h-10zM778 264h10v1h-10z" fill="url(#hy)" opacity="0.312"/>
<rect x="778" y="221.74" width="1" height="139.92" fill="#fff" opacity="0.14"/>
<path d="M788 331h10v3h-10zM788 364h10v2h-10z" fill="url(#hw)" opacity="0.125"/>
<path d="M788 317h10v1h-10zM788 321h10v2h-10zM788 323h10v2h-10zM788 326h10v3h-10zM788 334h10v2h-10zM788 338h10v3h-10zM788 353h10v2h-10zM788 359h10v2h-10zM788 358h10v3h-10zM788 360h10v2h-10zM788 366h10v2h-10zM788 369h10v3h-10zM788 372h10v2h-10zM788 374h10v2h-10z" fill="url(#hw)" opacity="0.188"/>
<path d="M788 316h10v2h-10zM788 317h10v2h-10zM788 320h10v2h-10zM788 322h10v2h-10zM788 324h10v2h-10zM788 326h10v1h-10zM788 324h10v3h-10zM788 328h10v2h-10zM788 329h10v2h-10zM788 332h10v2h-10zM788 337h10v2h-10zM788 342h10v1h-10zM788 342h10v2h-10zM788 344h10v1h-10zM788 345h10v1h-10zM788 349h10v2h-10zM788 348h10v3h-10zM788 354h10v2h-10zM788 355h10v3h-10zM788 358h10v2h-10zM788 363h10v2h-10zM788 369h10v1h-10zM788 368h10v2h-10zM788 380h10v2h-10zM788 379h10v3h-10z" fill="url(#hw)" opacity="0.250"/>
<path d="M788 332h10v3h-10zM788 336h10v2h-10zM788 341h10v2h-10zM788 343h10v2h-10zM788 344h10v3h-10zM788 348h10v2h-10zM788 351h10v2h-10zM788 357h10v2h-10zM788 367h10v3h-10zM788 368h10v3h-10zM788 373h10v2h-10zM788 378h10v1h-10z" fill="url(#hw)" opacity="0.312"/>
<path d="M788 328h10v3h-10zM788 333h10v2h-10zM788 346h10v2h-10zM788 350h10v2h-10zM788 352h10v2h-10z" fill="url(#hw)" opacity="0.375"/>
<path d="M788 339h10v2h-10z" fill="url(#hw)" opacity="0.438"/>
<path d="M788 290h10v1h-10zM788 303h10v2h-10z" fill="url(#hx)" opacity="0.125"/>
<path d="M788 270h10v2h-10zM788 286h10v2h-10zM788 293h10v2h-10zM788 294h10v2h-10zM788 304h10v1h-10zM788 308h10v2h-10zM788 310h10v2h-10zM788 310h10v3h-10zM788 311h10v3h-10z" fill="url(#hx)" opacity="0.188"/>
<path d="M788 284h10v2h-10zM788 290h10v2h-10zM788 291h10v2h-10zM788 298h10v2h-10zM788 299h10v2h-10zM788 304h10v2h-10zM788 307h10v1h-10zM788 310h10v1h-10zM788 312h10v2h-10zM788 316h10v1h-10z" fill="url(#hx)" opacity="0.250"/>
<path d="M788 266h10v2h-10zM788 275h10v2h-10zM788 278h10v2h-10zM788 283h10v1h-10zM788 283h10v2h-10zM788 285h10v2h-10zM788 288h10v2h-10zM788 297h10v3h-10zM788 298h10v3h-10zM788 300h10v2h-10zM788 314h10v1h-10z" fill="url(#hx)" opacity="0.312"/>
<path d="M788 270h10v1h-10zM788 273h10v2h-10zM788 276h10v2h-10zM788 279h10v2h-10zM788 292h10v2h-10z" fill="url(#hx)" opacity="0.375"/>
<path d="M788 232h10v1h-10zM788 264h10v1h-10z" fill="url(#hy)" opacity="0.188"/>
<path d="M788 246h10v2h-10zM788 250h10v2h-10zM788 264h10v2h-10z" fill="url(#hy)" opacity="0.250"/>
<rect x="788" y="241.48" width="1" height="120.19" fill="#fff" opacity="0.13"/>
<path d="M798 317h10v2h-10zM798 330h10v2h-10zM798 355h10v3h-10zM798 365h10v2h-10zM798 370h10v2h-10z" fill="url(#hw)" opacity="0.125"/>
<path d="M798 320h10v2h-10zM798 321h10v2h-10zM798 320h10v3h-10zM798 326h10v2h-10zM798 329h10v2h-10zM798 348h10v2h-10zM798 354h10v2h-10zM798 361h10v2h-10zM798 363h10v2h-10zM798 367h10v3h-10zM798 371h10v1h-10zM798 378h10v2h-10z" fill="url(#hw)" opacity="0.188"/>
<path d="M798 323h10v1h-10zM798 355h10v2h-10zM798 359h10v2h-10zM798 360h10v2h-10zM798 367h10v1h-10zM798 372h10v2h-10zM798 375h10v2h-10z" fill="url(#hw)" opacity="0.250"/>
<path d="M798 317h10v1h-10zM798 330h10v3h-10zM798 334h10v3h-10zM798 336h10v2h-10zM798 341h10v2h-10zM798 340h10v3h-10zM798 343h10v2h-10zM798 347h10v2h-10zM798 351h10v2h-10zM798 360h10v1h-10zM798 364h10v2h-10zM798 366h10v2h-10zM798 374h10v2h-10z" fill="url(#hw)" opacity="0.312"/>
<path d="M798 318h10v2h-10zM798 343h10v1h-10zM798 345h10v2h-10z" fill="url(#hw)" opacity="0.375"/>
<path d="M798 350h10v2h-10z" fill="url(#hw)" opacity="0.438"/>
<path d="M798 298h10v2h-10zM798 308h10v2h-10z" fill="url(#hx)" opacity="0.125"/>
<path d="M798 288h10v3h-10zM798 300h10v2h-10zM798 302h10v2h-10zM798 311h10v2h-10z" fill="url(#hx)" opacity="0.188"/>
<path d="M798 266h10v2h-10zM798 293h10v2h-10zM798 294h10v2h-10zM798 306h10v1h-10zM798 304h10v3h-10zM798 310h10v1h-10zM798 312h10v2h-10zM798 315h10v2h-10z" fill="url(#hx)" opacity="0.250"/>
<path d="M798 267h10v2h-10zM798 280h10v2h-10zM798 283h10v2h-10zM798 291h10v3h-10zM798 299h10v1h-10zM798 304h10v2h-10zM798 309h10v2h-10z" fill="url(#hx)" opacity="0.312"/>
<path d="M798 265h10v3h-10zM798 281h10v2h-10zM798 286h10v2h-10zM798 288h10v2h-10z" fill="url(#hx)" opacity="0.375"/>
<path d="M798 270h10v3h-10z" fill="url(#hx)" opacity="0.438"/>
<path d="M798 226h10v2h-10z" fill="url(#hy)" opacity="0.188"/>
<path d="M798 253h10v3h-10zM798 260h10v2h-10z" fill="url(#hy)" opacity="0.250"/>
<path d="M798 252h10v2h-10zM798 258h10v2h-10zM798 257h10v3h-10zM798 265h10v2h-10z" fill="url(#hy)" opacity="0.312"/>
<rect x="798" y="229.6" width="1" height="132.06" fill="#fff" opacity="0.11"/>
<path d="M808 318h10v2h-10zM808 324h10v2h-10z" fill="url(#hw)" opacity="0.125"/>
<path d="M808 322h10v2h-10zM808 328h10v1h-10zM808 334h10v2h-10zM808 333h10v3h-10zM808 354h10v1h-10zM808 355h10v2h-10zM808 361h10v2h-10zM808 362h10v2h-10zM808 364h10v2h-10zM808 367h10v1h-10zM808 373h10v2h-10zM808 375h10v2h-10z" fill="url(#hw)" opacity="0.188"/>
<path d="M808 318h10v3h-10zM808 322h10v1h-10zM808 329h10v2h-10zM808 328h10v3h-10zM808 337h10v1h-10zM808 338h10v2h-10zM808 340h10v2h-10zM808 344h10v3h-10zM808 348h10v3h-10zM808 356h10v2h-10zM808 356h10v3h-10zM808 360h10v1h-10zM808 360h10v2h-10zM808 369h10v2h-10zM808 374h10v2h-10z" fill="url(#hw)" opacity="0.250"/>
<path d="M808 325h10v1h-10zM808 328h10v2h-10zM808 330h10v1h-10zM808 333h10v1h-10zM808 339h10v2h-10zM808 341h10v2h-10zM808 342h10v3h-10zM808 349h10v1h-10zM808 351h10v1h-10zM808 350h10v2h-10zM808 368h10v2h-10zM808 372h10v1h-10zM808 371h10v2h-10zM808 381h10v2h-10z" fill="url(#hw)" opacity="0.312"/>
<path d="M808 319h10v2h-10zM808 346h10v2h-10zM808 352h10v1h-10zM808 352h10v2h-10zM808 365h10v2h-10z" fill="url(#hw)" opacity="0.375"/>
<path d="M808 337h10v3h-10zM808 343h10v2h-10z" fill="url(#hw)" opacity="0.438"/>
<path d="M808 293h10v2h-10z" fill="url(#hx)" opacity="0.125"/>
<path d="M808 294h10v3h-10zM808 302h10v1h-10zM808 304h10v2h-10zM808 308h10v2h-10z" fill="url(#hx)" opacity="0.188"/>
<path d="M808 272h10v2h-10zM808 284h10v2h-10zM808 287h10v1h-10zM808 290h10v2h-10zM808 295h10v2h-10zM808 296h10v2h-10zM808 301h10v1h-10zM808 300h10v2h-10zM808 307h10v2h-10zM808 306h10v3h-10zM808 310h10v2h-10zM808 314h10v2h-10z" fill="url(#hx)" opacity="0.250"/>
<path d="M808 266h10v2h-10zM808 270h10v2h-10zM808 272h10v3h-10zM808 282h10v2h-10zM808 285h10v1h-10zM808 291h10v2h-10zM808 297h10v1h-10zM808 299h10v2h-10zM808 301h10v2h-10zM808 309h10v2h-10zM808 312h10v2h-10zM808 313h10v2h-10z" fill="url(#hx)" opacity="0.312"/>
<path d="M808 271h10v2h-10zM808 273h10v2h-10zM808 276h10v2h-10zM808 278h10v1h-10zM808 277h10v2h-10zM808 279h10v2h-10zM808 283h10v1h-10z" fill="url(#hx)" opacity="0.375"/>
<path d="M808 234h10v2h-10zM808 239h10v1h-10zM808 246h10v1h-10zM808 252h10v1h-10z" fill="url(#hy)" opacity="0.188"/>
<path d="M808 239h10v2h-10zM808 241h10v2h-10zM808 254h10v2h-10zM808 257h10v1h-10zM808 264h10v2h-10z" fill="url(#hy)" opacity="0.250"/>
<path d="M808 250h10v2h-10zM808 249h10v3h-10zM808 265h10v1h-10z" fill="url(#hy)" opacity="0.312"/>
<path d="M808 261h10v2h-10z" fill="url(#hy)" opacity="0.375"/>
<rect x="808" y="239.4" width="1" height="122.26" fill="#fff" opacity="0.09"/>
<path d="M818 361h10v3h-10z" fill="url(#hw)" opacity="0.125"/>
<path d="M818 317h10v2h-10zM818 320h10v1h-10zM818 330h10v1h-10zM818 353h10v2h-10zM818 355h10v2h-10zM818 354h10v3h-10zM818 361h10v1h-10zM818 362h10v2h-10zM818 364h10v2h-10zM818 372h10v1h-10zM818 375h10v2h-10zM818 375h10v3h-10zM818 378h10v1h-10z" fill="url(#hw)" opacity="0.188"/>
<path d="M818 317h10v3h-10zM818 319h10v2h-10zM818 322h10v1h-10zM818 321h10v2h-10zM818 325h10v2h-10zM818 330h10v2h-10zM818 331h10v2h-10zM818 343h10v2h-10zM818 355h10v3h-10zM818 363h10v1h-10zM818 368h10v2h-10zM818 379h10v2h-10z" fill="url(#hw)" opacity="0.250"/>
<path d="M818 323h10v2h-10zM818 348h10v2h-10zM818 350h10v2h-10zM818 359h10v2h-10zM818 365h10v2h-10zM818 367h10v2h-10zM818 372h10v2h-10zM818 372h10v3h-10z" fill="url(#hw)" opacity="0.312"/>
<path d="M818 333h10v2h-10zM818 333h10v3h-10zM818 336h10v2h-10zM818 340h10v2h-10zM818 341h10v2h-10zM818 347h10v2h-10zM818 352h10v2h-10z" fill="url(#hw)" opacity="0.375"/>
<path d="M818 342h10v3h-10z" fill="url(#hw)" opacity="0.438"/>
<path d="M818 285h10v2h-10zM818 295h10v2h-10zM818 299h10v2h-10zM818 307h10v1h-10zM818 306h10v2h-10zM818 309h10v2h-10zM818 311h10v2h-10z" fill="url(#hx)" opacity="0.188"/>
<path d="M818 275h10v3h-10zM818 280h10v2h-10zM818 281h10v2h-10zM818 287h10v1h-10zM818 289h10v1h-10zM818 290h10v3h-10zM818 294h10v2h-10zM818 302h10v1h-10zM818 303h10v2h-10zM818 308h10v2h-10zM818 313h10v2h-10zM818 314h10v2h-10zM818 314h10v3h-10z" fill="url(#hx)" opacity="0.250"/>
<path d="M818 269h10v2h-10zM818 270h10v2h-10zM818 282h10v1h-10zM818 296h10v2h-10zM818 299h10v3h-10z" fill="url(#hx)" opacity="0.312"/>
<path d="M818 267h10v1h-10zM818 271h10v2h-10zM818 275h10v1h-10zM818 277h10v1h-10zM818 290h10v2h-10z" fill="url(#hx)" opacity="0.375"/>
<path d="M818 201h10v3h-10zM818 220h10v3h-10zM818 233h10v2h-10z" fill="url(#hy)" opacity="0.188"/>
<path d="M818 239h10v2h-10zM818 244h10v2h-10zM818 251h10v2h-10z" fill="url(#hy)" opacity="0.250"/>
<path d="M818 257h10v2h-10zM818 260h10v2h-10zM818 260h10v3h-10zM818 263h10v2h-10z" fill="url(#hy)" opacity="0.312"/>
<path d="M818 255h10v1h-10z" fill="url(#hy)" opacity="0.375"/>
<rect x="818" y="216.07" width="1" height="145.59" fill="#fff" opacity="0.11"/>
<path d="M828 321h10v2h-10zM828 321h10v3h-10zM828 353h10v2h-10zM828 355h10v2h-10z" fill="url(#hw)" opacity="0.125"/>
<path d="M828 319h10v2h-10zM828 323h10v2h-10zM828 327h10v1h-10zM828 329h10v2h-10zM828 343h10v2h-10zM828 348h10v3h-10zM828 353h10v3h-10zM828 360h10v2h-10zM828 362h10v2h-10zM828 365h10v2h-10zM828 368h10v3h-10zM828 375h10v2h-10z" fill="url(#hw)" opacity="0.188"/>
<path d="M828 331h10v1h-10zM828 331h10v2h-10zM828 337h10v2h-10zM828 342h10v2h-10zM828 344h10v3h-10zM828 347h10v2h-10zM828 348h10v2h-10zM828 353h10v1h-10zM828 352h10v2h-10zM828 356h10v2h-10zM828 359h10v2h-10zM828 361h10v1h-10zM828 361h10v2h-10zM828 363h10v3h-10zM828 370h10v2h-10zM828 371h10v2h-10zM828 372h10v2h-10z" fill="url(#hw)" opacity="0.250"/>
<path d="M828 316h10v2h-10zM828 317h10v2h-10zM828 316h10v3h-10zM828 320h10v2h-10zM828 324h10v2h-10zM828 328h10v1h-10zM828 330h10v2h-10zM828 332h10v2h-10zM828 334h10v2h-10zM828 338h10v2h-10zM828 339h10v2h-10zM828 346h10v2h-10zM828 346h10v3h-10zM828 351h10v1h-10zM828 357h10v2h-10zM828 358h10v2h-10zM828 366h10v2h-10zM828 367h10v3h-10zM828 374h10v2h-10z" fill="url(#hw)" opacity="0.312"/>
<path d="M828 326h10v2h-10zM828 327h10v2h-10zM828 335h10v2h-10zM828 340h10v3h-10zM828 345h10v2h-10zM828 349h10v1h-10zM828 351h10v2h-10zM828 368h10v2h-10zM828 374h10v3h-10z" fill="url(#hw)" opacity="0.375"/>
<path d="M828 344h10v2h-10z" fill="url(#hw)" opacity="0.438"/>
<path d="M828 297h10v2h-10z" fill="url(#hx)" opacity="0.125"/>
<path d="M828 294h10v2h-10zM828 296h10v2h-10zM828 297h10v3h-10zM828 299h10v3h-10zM828 302h10v2h-10zM828 307h10v1h-10zM828 310h10v2h-10zM828 312h10v2h-10zM828 315h10v2h-10z" fill="url(#hx)" opacity="0.188"/>
<path d="M828 265h10v3h-10zM828 282h10v3h-10zM828 286h10v1h-10zM828 287h10v2h-10zM828 288h10v2h-10zM828 293h10v2h-10zM828 298h10v2h-10zM828 299h10v2h-10zM828 301h10v3h-10zM828 303h10v2h-10zM828 304h10v2h-10zM828 305h10v2h-10zM828 307h10v2h-10zM828 308h10v2h-10zM828 310h10v3h-10zM828 313h10v2h-10z" fill="url(#hx)" opacity="0.250"/>
<path d="M828 268h10v2h-10zM828 273h10v3h-10zM828 276h10v2h-10zM828 278h10v1h-10zM828 279h10v1h-10zM828 280h10v3h-10zM828 282h10v2h-10zM828 286h10v2h-10zM828 293h10v1h-10zM828 292h10v2h-10zM828 295h10v1h-10zM828 306h10v3h-10z" fill="url(#hx)" opacity="0.312"/>
<path d="M828 270h10v2h-10zM828 271h10v2h-10zM828 278h10v2h-10zM828 279h10v2h-10zM828 281h10v3h-10zM828 283h10v2h-10zM828 284h10v2h-10z" fill="url(#hx)" opacity="0.375"/>
<path d="M828 219h10v2h-10zM828 224h10v2h-10zM828 229h10v3h-10zM828 236h10v2h-10z" fill="url(#hy)" opacity="0.188"/>
<path d="M828 226h10v2h-10zM828 239h10v2h-10zM828 245h10v2h-10zM828 263h10v2h-10z" fill="url(#hy)" opacity="0.250"/>
<path d="M828 248h10v2h-10zM828 250h10v3h-10zM828 252h10v2h-10zM828 259h10v1h-10z" fill="url(#hy)" opacity="0.312"/>
<path d="M828 264h10v2h-10z" fill="url(#hy)" opacity="0.375"/>
<rect x="828" y="230.2" width="1" height="131.46" fill="#fff" opacity="0.11"/>
<path d="M838 317h10v1h-10zM838 317h10v3h-10zM838 321h10v2h-10zM838 325h10v2h-10zM838 327h10v1h-10zM838 331h10v2h-10z" fill="url(#hw)" opacity="0.062"/>
<path d="M838 319h10v1h-10zM838 328h10v2h-10zM838 336h10v3h-10zM838 363h10v1h-10z" fill="url(#hw)" opacity="0.125"/>
<path d="M838 332h10v2h-10zM838 335h10v3h-10zM838 339h10v1h-10zM838 344h10v1h-10zM838 353h10v3h-10zM838 360h10v2h-10zM838 375h10v2h-10zM838 380h10v1h-10z" fill="url(#hw)" opacity="0.188"/>
<path d="M838 342h10v2h-10zM838 347h10v1h-10zM838 355h10v2h-10zM838 358h10v2h-10zM838 366h10v2h-10zM838 367h10v2h-10zM838 370h10v2h-10zM838 371h10v2h-10zM838 374h10v1h-10zM838 374h10v3h-10zM838 379h10v2h-10z" fill="url(#hw)" opacity="0.250"/>
<path d="M838 356h10v2h-10zM838 369h10v2h-10zM838 382h10v1h-10z" fill="url(#hw)" opacity="0.312"/>
<path d="M838 351h10v2h-10z" fill="url(#hw)" opacity="0.375"/>
<path d="M838 346h10v3h-10z" fill="url(#hw)" opacity="0.438"/>
<path d="M838 287h10v2h-10zM838 297h10v3h-10zM838 299h10v2h-10zM838 304h10v2h-10zM838 313h10v2h-10z" fill="url(#hx)" opacity="0.062"/>
<path d="M838 282h10v1h-10zM838 288h10v3h-10zM838 293h10v2h-10zM838 307h10v1h-10z" fill="url(#hx)" opacity="0.125"/>
<path d="M838 305h10v1h-10zM838 310h10v2h-10z" fill="url(#hx)" opacity="0.188"/>
<rect x="838" y="290.12" width="1" height="71.54" fill="#fff" opacity="0.13"/>
<path d="M848 323h10v3h-10z" fill="url(#hw)" opacity="0.125"/>
<path d="M848 317h10v2h-10zM848 322h10v2h-10zM848 333h10v2h-10zM848 353h10v3h-10zM848 358h10v1h-10zM848 359h10v2h-10z" fill="url(#hw)" opacity="0.188"/>
<path d="M848 323h10v1h-10zM848 324h10v2h-10zM848 326h10v1h-10zM848 330h10v2h-10zM848 332h10v1h-10zM848 334h10v2h-10zM848 337h10v3h-10zM848 343h10v2h-10zM848 347h10v2h-10zM848 352h10v1h-10zM848 352h10v2h-10zM848 362h10v2h-10zM848 364h10v2h-10zM848 363h10v3h-10zM848 365h10v2h-10zM848 367h10v1h-10zM848 373h10v2h-10zM848 376h10v2h-10zM848 377h10v2h-10z" fill="url(#hw)" opacity="0.250"/>
<path d="M848 328h10v3h-10zM848 338h10v2h-10zM848 355h10v2h-10zM848 363h10v2h-10zM848 369h10v2h-10zM848 374h10v2h-10z" fill="url(#hw)" opacity="0.312"/>
<path d="M848 339h10v2h-10zM848 371h10v2h-10zM848 379h10v2h-10z" fill="url(#hw)" opacity="0.375"/>
<path d="M848 348h10v2h-10z" fill="url(#hw)" opacity="0.438"/>
<path d="M848 344h10v2h-10z" fill="url(#hw)" opacity="0.500"/>
<path d="M848 303h10v3h-10zM848 313h10v3h-10z" fill="url(#hx)" opacity="0.125"/>
<path d="M848 289h10v2h-10zM848 293h10v3h-10zM848 295h10v2h-10zM848 307h10v1h-10zM848 315h10v2h-10z" fill="url(#hx)" opacity="0.188"/>
<path d="M848 273h10v2h-10zM848 293h10v2h-10zM848 296h10v3h-10zM848 299h10v1h-10zM848 298h10v2h-10zM848 309h10v2h-10z" fill="url(#hx)" opacity="0.250"/>
<path d="M848 271h10v1h-10zM848 271h10v2h-10zM848 277h10v2h-10zM848 287h10v3h-10zM848 300h10v2h-10zM848 301h10v2h-10zM848 306h10v2h-10zM848 313h10v1h-10zM848 312h10v2h-10z" fill="url(#hx)" opacity="0.312"/>
<path d="M848 272h10v1h-10zM848 276h10v2h-10zM848 283h10v2h-10zM848 284h10v3h-10zM848 286h10v3h-10z" fill="url(#hx)" opacity="0.375"/>
<path d="M848 280h10v2h-10z" fill="url(#hx)" opacity="0.438"/>
<path d="M848 282h10v2h-10z" fill="url(#hx)" opacity="0.500"/>
<path d="M848 238h10v3h-10zM848 243h10v2h-10z" fill="url(#hy)" opacity="0.188"/>
<path d="M848 223h10v2h-10zM848 224h10v2h-10zM848 238h10v2h-10zM848 245h10v2h-10zM848 251h10v2h-10zM848 265h10v2h-10z" fill="url(#hy)" opacity="0.250"/>
<path d="M848 252h10v2h-10zM848 255h10v2h-10zM848 259h10v1h-10zM848 263h10v3h-10z" fill="url(#hy)" opacity="0.312"/>
<path d="M848 257h10v3h-10z" fill="url(#hy)" opacity="0.375"/>
<rect x="848" y="216.07" width="1" height="145.59" fill="#fff" opacity="0.14"/>
<path d="M858 319h10v3h-10z" fill="url(#hw)" opacity="0.062"/>
<path d="M858 333h10v3h-10zM858 357h10v3h-10zM858 366h10v1h-10zM858 368h10v3h-10z" fill="url(#hw)" opacity="0.125"/>
<path d="M858 317h10v1h-10zM858 318h10v2h-10zM858 320h10v2h-10zM858 323h10v2h-10zM858 325h10v1h-10zM858 328h10v2h-10zM858 332h10v2h-10zM858 334h10v2h-10zM858 339h10v2h-10zM858 353h10v2h-10zM858 352h10v3h-10zM858 356h10v1h-10zM858 360h10v2h-10zM858 364h10v1h-10zM858 365h10v2h-10zM858 369h10v2h-10zM858 372h10v2h-10zM858 373h10v2h-10z" fill="url(#hw)" opacity="0.188"/>
<path d="M858 319h10v2h-10zM858 321h10v2h-10zM858 324h10v2h-10zM858 325h10v2h-10zM858 326h10v2h-10zM858 328h10v1h-10zM858 332h10v1h-10zM858 333h10v2h-10zM858 336h10v1h-10zM858 336h10v2h-10zM858 342h10v2h-10zM858 342h10v3h-10zM858 344h10v2h-10zM858 354h10v2h-10zM858 353h10v3h-10zM858 356h10v2h-10zM858 358h10v2h-10zM858 360h10v1h-10zM858 361h10v1h-10zM858 361h10v2h-10zM858 363h10v1h-10zM858 364h10v2h-10zM858 368h10v2h-10zM858 371h10v2h-10zM858 374h10v2h-10zM858 376h10v2h-10zM858 378h10v2h-10z" fill="url(#hw)" opacity="0.250"/>
<path d="M858 316h10v2h-10zM858 326h10v3h-10zM858 329h10v1h-10zM858 329h10v2h-10zM858 330h10v2h-10zM858 331h10v2h-10zM858 337h10v1h-10zM858 338h10v2h-10zM858 340h10v2h-10zM858 339h10v3h-10zM858 344h10v1h-10zM858 349h10v1h-10zM858 350h10v2h-10zM858 352h10v1h-10zM858 366h10v2h-10zM858 367h10v2h-10z" fill="url(#hw)" opacity="0.312"/>
<path d="M858 347h10v2h-10zM858 351h10v2h-10z" fill="url(#hw)" opacity="0.375"/>
<path d="M858 345h10v2h-10z" fill="url(#hw)" opacity="0.438"/>
<path d="M858 278h10v2h-10zM858 283h10v2h-10zM858 287h10v3h-10zM858 292h10v3h-10zM858 307h10v2h-10z" fill="url(#hx)" opacity="0.062"/>
<path d="M858 279h10v1h-10zM858 284h10v2h-10zM858 308h10v2h-10zM858 309h10v3h-10z" fill="url(#hx)" opacity="0.125"/>
<path d="M858 269h10v2h-10zM858 275h10v1h-10zM858 290h10v2h-10zM858 291h10v2h-10zM858 294h10v2h-10zM858 296h10v2h-10zM858 307h10v1h-10zM858 305h10v3h-10zM858 312h10v1h-10zM858 313h10v1h-10zM858 312h10v2h-10zM858 311h10v3h-10z" fill="url(#hx)" opacity="0.188"/>
<path d="M858 275h10v2h-10zM858 280h10v2h-10zM858 297h10v1h-10zM858 300h10v2h-10zM858 301h10v2h-10zM858 308h10v1h-10zM858 314h10v2h-10zM858 313h10v3h-10z" fill="url(#hx)" opacity="0.250"/>
<path d="M858 268h10v2h-10zM858 269h10v3h-10zM858 277h10v2h-10zM858 282h10v2h-10zM858 285h10v2h-10zM858 303h10v2h-10zM858 305h10v2h-10zM858 310h10v2h-10z" fill="url(#hx)" opacity="0.312"/>
<path d="M858 217h10v1h-10zM858 229h10v1h-10zM858 234h10v2h-10zM858 262h10v3h-10z" fill="url(#hy)" opacity="0.188"/>
<path d="M858 228h10v2h-10zM858 240h10v2h-10zM858 245h10v1h-10zM858 262h10v2h-10z" fill="url(#hy)" opacity="0.250"/>
<path d="M858 256h10v2h-10zM858 259h10v2h-10z" fill="url(#hy)" opacity="0.312"/>
<rect x="858" y="216.07" width="1" height="145.59" fill="#fff" opacity="0.09"/>
<path d="M868 325h10v3h-10z" fill="url(#hw)" opacity="0.062"/>
<path d="M868 337h10v2h-10zM868 360h10v2h-10zM868 365h10v3h-10zM868 369h10v3h-10zM868 378h10v1h-10z" fill="url(#hw)" opacity="0.125"/>
<path d="M868 318h10v3h-10zM868 323h10v1h-10zM868 332h10v3h-10zM868 341h10v2h-10zM868 355h10v2h-10zM868 356h10v2h-10zM868 361h10v1h-10zM868 361h10v2h-10zM868 362h10v2h-10zM868 366h10v2h-10zM868 368h10v2h-10zM868 371h10v1h-10zM868 373h10v2h-10z" fill="url(#hw)" opacity="0.188"/>
<path d="M868 317h10v2h-10zM868 316h10v3h-10zM868 319h10v2h-10zM868 322h10v2h-10zM868 331h10v2h-10zM868 330h10v3h-10zM868 338h10v1h-10zM868 338h10v2h-10zM868 337h10v3h-10zM868 349h10v1h-10zM868 353h10v1h-10zM868 354h10v2h-10zM868 356h10v1h-10zM868 355h10v3h-10zM868 358h10v1h-10zM868 356h10v3h-10zM868 362h10v1h-10zM868 363h10v2h-10zM868 364h10v2h-10zM868 365h10v2h-10zM868 371h10v2h-10zM868 375h10v1h-10zM868 374h10v2h-10zM868 380h10v2h-10z" fill="url(#hw)" opacity="0.250"/>
<path d="M868 318h10v2h-10zM868 320h10v3h-10zM868 324h10v2h-10zM868 327h10v2h-10zM868 327h10v3h-10zM868 333h10v2h-10zM868 335h10v1h-10zM868 336h10v2h-10zM868 339h10v3h-10zM868 340h10v3h-10zM868 342h10v2h-10zM868 343h10v2h-10zM868 358h10v2h-10z" fill="url(#hw)" opacity="0.312"/>
<path d="M868 323h10v2h-10zM868 328h10v2h-10zM868 335h10v2h-10zM868 348h10v2h-10zM868 349h10v2h-10zM868 351h10v2h-10zM868 369h10v2h-10z" fill="url(#hw)" opacity="0.375"/>
<path d="M868 345h10v2h-10zM868 347h10v2h-10z" fill="url(#hw)" opacity="0.438"/>
<path d="M868 341h10v3h-10zM868 351h10v3h-10z" fill="url(#hw)" opacity="0.500"/>
<path d="M868 288h10v2h-10zM868 299h10v2h-10zM868 301h10v2h-10zM868 302h10v2h-10zM868 308h10v2h-10zM868 314h10v2h-10z" fill="url(#hx)" opacity="0.188"/>
<path d="M868 270h10v1h-10zM868 287h10v1h-10zM868 285h10v3h-10zM868 288h10v3h-10zM868 294h10v2h-10zM868 297h10v2h-10zM868 300h10v2h-10zM868 305h10v2h-10zM868 305h10v3h-10zM868 309h10v2h-10zM868 310h10v2h-10zM868 311h10v2h-10zM868 313h10v2h-10zM868 315h10v2h-10z" fill="url(#hx)" opacity="0.250"/>
<path d="M868 274h10v3h-10zM868 279h10v1h-10zM868 291h10v3h-10zM868 294h10v1h-10zM868 298h10v1h-10zM868 303h10v2h-10zM868 308h10v1h-10zM868 307h10v2h-10z" fill="url(#hx)" opacity="0.312"/>
<path d="M868 275h10v1h-10zM868 275h10v2h-10zM868 277h10v2h-10zM868 279h10v2h-10zM868 281h10v1h-10zM868 280h10v2h-10zM868 281h10v2h-10zM868 285h10v2h-10zM868 286h10v2h-10zM868 292h10v2h-10zM868 296h10v2h-10zM868 298h10v2h-10z" fill="url(#hx)" opacity="0.375"/>
<path d="M868 269h10v2h-10zM868 283h10v2h-10z" fill="url(#hx)" opacity="0.438"/>
<path d="M868 223h10v2h-10zM868 225h10v1h-10zM868 226h10v2h-10zM868 228h10v3h-10zM868 230h10v2h-10zM868 231h10v2h-10zM868 235h10v2h-10z" fill="url(#hy)" opacity="0.188"/>
<path d="M868 230h10v3h-10zM868 236h10v2h-10zM868 243h10v2h-10zM868 247h10v2h-10zM868 248h10v2h-10zM868 249h10v3h-10zM868 253h10v1h-10zM868 252h10v2h-10zM868 254h10v2h-10z" fill="url(#hy)" opacity="0.250"/>
<path d="M868 237h10v2h-10zM868 247h10v3h-10zM868 248h10v3h-10zM868 253h10v2h-10zM868 260h10v3h-10zM868 265h10v2h-10z" fill="url(#hy)" opacity="0.312"/>
<path d="M868 256h10v2h-10zM868 259h10v2h-10z" fill="url(#hy)" opacity="0.375"/>
<path d="M868 263h10v2h-10z" fill="url(#hy)" opacity="0.500"/>
<rect x="868" y="216.07" width="1" height="145.59" fill="#fff" opacity="0.10"/>
<path d="M878 329h10v2h-10zM878 336h10v2h-10zM878 353h10v2h-10zM878 369h10v2h-10z" fill="url(#hw)" opacity="0.125"/>
<path d="M878 316h10v2h-10zM878 326h10v2h-10zM878 335h10v3h-10zM878 354h10v1h-10zM878 356h10v2h-10zM878 362h10v2h-10zM878 364h10v1h-10zM878 368h10v2h-10zM878 370h10v2h-10zM878 373h10v2h-10zM878 379h10v1h-10z" fill="url(#hw)" opacity="0.188"/>
<path d="M878 318h10v2h-10zM878 323h10v2h-10zM878 332h10v3h-10zM878 337h10v2h-10zM878 343h10v3h-10zM878 349h10v3h-10zM878 361h10v2h-10zM878 365h10v2h-10zM878 369h10v3h-10zM878 374h10v3h-10zM878 377h10v2h-10zM878 380h10v3h-10z" fill="url(#hw)" opacity="0.250"/>
<path d="M878 327h10v2h-10zM878 330h10v2h-10zM878 333h10v2h-10zM878 339h10v3h-10zM878 347h10v2h-10zM878 350h10v2h-10z" fill="url(#hw)" opacity="0.312"/>
<path d="M878 343h10v2h-10zM878 348h10v2h-10z" fill="url(#hw)" opacity="0.375"/>
<path d="M878 346h10v2h-10z" fill="url(#hw)" opacity="0.438"/>
<path d="M878 285h10v2h-10zM878 289h10v2h-10zM878 292h10v2h-10zM878 302h10v1h-10zM878 302h10v2h-10zM878 304h10v1h-10zM878 304h10v2h-10zM878 308h10v1h-10zM878 309h10v2h-10z" fill="url(#hx)" opacity="0.188"/>
<path d="M878 294h10v2h-10zM878 308h10v2h-10zM878 314h10v3h-10z" fill="url(#hx)" opacity="0.250"/>
<path d="M878 275h10v2h-10zM878 280h10v2h-10zM878 286h10v2h-10zM878 291h10v1h-10zM878 311h10v2h-10z" fill="url(#hx)" opacity="0.312"/>
<path d="M878 279h10v2h-10z" fill="url(#hx)" opacity="0.375"/>
<path d="M878 220h10v3h-10z" fill="url(#hy)" opacity="0.188"/>
<path d="M878 238h10v2h-10z" fill="url(#hy)" opacity="0.250"/>
<path d="M878 247h10v1h-10zM878 260h10v2h-10zM878 263h10v2h-10z" fill="url(#hy)" opacity="0.312"/>
<rect x="878" y="216.07" width="1" height="145.59" fill="#fff" opacity="0.10"/>
<path d="M888 318h10v2h-10zM888 333h10v2h-10z" fill="url(#hw)" opacity="0.062"/>
<path d="M888 321h10v2h-10zM888 324h10v2h-10zM888 325h10v2h-10zM888 328h10v2h-10zM888 329h10v2h-10zM888 335h10v1h-10z" fill="url(#hw)" opacity="0.125"/>
<path d="M888 316h10v2h-10zM888 331h10v2h-10zM888 353h10v2h-10zM888 357h10v2h-10zM888 358h10v2h-10zM888 361h10v2h-10zM888 362h10v3h-10zM888 369h10v1h-10zM888 374h10v1h-10zM888 373h10v2h-10zM888 379h10v1h-10z" fill="url(#hw)" opacity="0.188"/>
<path d="M888 336h10v2h-10zM888 337h10v2h-10zM888 338h10v2h-10zM888 342h10v2h-10zM888 343h10v2h-10zM888 353h10v3h-10zM888 355h10v2h-10zM888 359h10v2h-10zM888 364h10v2h-10zM888 364h10v3h-10zM888 367h10v2h-10zM888 368h10v3h-10zM888 370h10v2h-10zM888 371h10v2h-10zM888 372h10v2h-10zM888 374h10v3h-10z" fill="url(#hw)" opacity="0.250"/>
<path d="M888 341h10v2h-10zM888 346h10v1h-10zM888 347h10v2h-10zM888 366h10v3h-10z" fill="url(#hw)" opacity="0.312"/>
<path d="M888 339h10v2h-10zM888 346h10v2h-10zM888 349h10v2h-10zM888 350h10v2h-10zM888 352h10v2h-10z" fill="url(#hw)" opacity="0.375"/>
<path d="M888 348h10v2h-10zM888 351h10v2h-10z" fill="url(#hw)" opacity="0.438"/>
<path d="M888 281h10v2h-10zM888 288h10v2h-10zM888 290h10v2h-10zM888 291h10v2h-10zM888 293h10v2h-10zM888 294h10v3h-10zM888 305h10v1h-10zM888 304h10v2h-10zM888 304h10v3h-10zM888 308h10v2h-10zM888 312h10v2h-10z" fill="url(#hx)" opacity="0.062"/>
<path d="M888 274h10v2h-10zM888 277h10v2h-10zM888 285h10v3h-10zM888 295h10v2h-10zM888 297h10v2h-10zM888 300h10v2h-10zM888 306h10v2h-10zM888 309h10v3h-10zM888 314h10v2h-10z" fill="url(#hx)" opacity="0.125"/>
<path d="M888 279h10v2h-10z" fill="url(#hx)" opacity="0.188"/>
<path d="M888 269h10v2h-10zM888 270h10v3h-10z" fill="url(#hx)" opacity="0.250"/>
<path d="M888 256h10v2h-10zM888 261h10v2h-10z" fill="url(#hy)" opacity="0.188"/>
<path d="M888 260h10v1h-10zM888 264h10v2h-10z" fill="url(#hy)" opacity="0.250"/>
<rect x="888" y="266.03" width="1" height="95.64" fill="#fff" opacity="0.12"/>
<path d="M898 317h10v2h-10zM898 331h10v1h-10z" fill="url(#hw)" opacity="0.062"/>
<path d="M898 325h10v2h-10z" fill="url(#hw)" opacity="0.125"/>
<path d="M898 318h10v2h-10zM898 318h10v3h-10zM898 320h10v2h-10zM898 321h10v3h-10zM898 324h10v1h-10zM898 332h10v2h-10zM898 336h10v2h-10zM898 340h10v2h-10zM898 355h10v2h-10zM898 358h10v2h-10zM898 363h10v2h-10zM898 365h10v2h-10zM898 366h10v3h-10zM898 373h10v2h-10zM898 372h10v3h-10zM898 376h10v2h-10z" fill="url(#hw)" opacity="0.188"/>
<path d="M898 316h10v2h-10zM898 337h10v2h-10zM898 341h10v2h-10zM898 348h10v1h-10zM898 354h10v2h-10zM898 356h10v2h-10zM898 357h10v2h-10zM898 359h10v2h-10zM898 361h10v1h-10zM898 361h10v2h-10zM898 366h10v2h-10zM898 367h10v2h-10zM898 370h10v2h-10zM898 372h10v1h-10zM898 372h10v2h-10zM898 374h10v2h-10zM898 380h10v2h-10z" fill="url(#hw)" opacity="0.250"/>
<path d="M898 325h10v3h-10zM898 327h10v2h-10zM898 328h10v2h-10zM898 335h10v2h-10zM898 349h10v2h-10zM898 351h10v2h-10zM898 364h10v2h-10zM898 376h10v1h-10z" fill="url(#hw)" opacity="0.312"/>
<path d="M898 339h10v1h-10zM898 343h10v2h-10zM898 344h10v2h-10zM898 349h10v1h-10zM898 353h10v1h-10z" fill="url(#hw)" opacity="0.375"/>
<path d="M898 278h10v2h-10zM898 283h10v2h-10zM898 292h10v2h-10zM898 296h10v2h-10zM898 297h10v2h-10zM898 305h10v1h-10zM898 312h10v2h-10z" fill="url(#hx)" opacity="0.125"/>
<path d="M898 278h10v3h-10zM898 284h10v2h-10zM898 293h10v2h-10zM898 295h10v2h-10zM898 303h10v2h-10zM898 315h10v1h-10zM898 313h10v3h-10z" fill="url(#hx)" opacity="0.188"/>
<path d="M898 267h10v2h-10zM898 274h10v2h-10zM898 277h10v1h-10zM898 283h10v3h-10zM898 290h10v1h-10zM898 289h10v2h-10zM898 301h10v2h-10zM898 302h10v2h-10zM898 304h10v2h-10zM898 309h10v2h-10z" fill="url(#hx)" opacity="0.250"/>
<path d="M898 268h10v3h-10zM898 279h10v2h-10zM898 298h10v3h-10z" fill="url(#hx)" opacity="0.312"/>
<path d="M898 268h10v2h-10zM898 275h10v2h-10z" fill="url(#hx)" opacity="0.375"/>
<path d="M898 244h10v2h-10z" fill="url(#hy)" opacity="0.250"/>
<path d="M898 262h10v2h-10z" fill="url(#hy)" opacity="0.312"/>
<rect x="898" y="242.01" width="1" height="119.65" fill="#fff" opacity="0.13"/>
<path d="M908 324h10v3h-10zM908 353h10v2h-10z" fill="url(#hw)" opacity="0.125"/>
<path d="M908 317h10v3h-10zM908 338h10v1h-10zM908 337h10v2h-10zM908 342h10v2h-10zM908 355h10v1h-10zM908 356h10v2h-10zM908 358h10v1h-10zM908 357h10v2h-10zM908 360h10v2h-10zM908 359h10v3h-10zM908 363h10v2h-10zM908 365h10v2h-10zM908 370h10v2h-10zM908 371h10v2h-10zM908 378h10v1h-10z" fill="url(#hw)" opacity="0.188"/>
<path d="M908 317h10v2h-10zM908 323h10v1h-10zM908 326h10v3h-10zM908 329h10v1h-10zM908 331h10v2h-10zM908 330h10v3h-10zM908 335h10v1h-10zM908 334h10v2h-10zM908 335h10v2h-10zM908 338h10v2h-10zM908 340h10v2h-10zM908 343h10v1h-10zM908 341h10v3h-10zM908 343h10v3h-10zM908 345h10v3h-10zM908 350h10v1h-10zM908 348h10v3h-10zM908 351h10v3h-10zM908 354h10v1h-10zM908 355h10v2h-10zM908 361h10v2h-10zM908 361h10v3h-10zM908 364h10v2h-10zM908 368h10v1h-10zM908 367h10v2h-10zM908 368h10v2h-10zM908 369h10v2h-10zM908 373h10v2h-10zM908 373h10v3h-10z" fill="url(#hw)" opacity="0.250"/>
<path d="M908 321h10v1h-10zM908 321h10v2h-10zM908 325h10v1h-10zM908 324h10v2h-10zM908 332h10v2h-10zM908 333h10v2h-10zM908 333h10v3h-10zM908 336h10v2h-10zM908 340h10v3h-10zM908 345h10v2h-10zM908 349h10v2h-10zM908 349h10v3h-10zM908 350h10v3h-10zM908 369h10v3h-10zM908 371h10v3h-10zM908 376h10v2h-10z" fill="url(#hw)" opacity="0.312"/>
<path d="M908 318h10v2h-10zM908 327h10v2h-10zM908 330h10v2h-10zM908 340h10v1h-10zM908 344h10v2h-10zM908 346h10v1h-10zM908 346h10v2h-10z" fill="url(#hw)" opacity="0.375"/>
<path d="M908 307h10v2h-10z" fill="url(#hx)" opacity="0.062"/>
<path d="M908 305h10v3h-10zM908 308h10v2h-10zM908 309h10v3h-10z" fill="url(#hx)" opacity="0.125"/>
<path d="M908 279h10v2h-10zM908 288h10v2h-10zM908 294h10v2h-10zM908 297h10v2h-10zM908 302h10v2h-10zM908 305h10v2h-10zM908 312h10v2h-10z" fill="url(#hx)" opacity="0.188"/>
<path d="M908 274h10v2h-10zM908 282h10v2h-10zM908 282h10v3h-10zM908 285h10v2h-10zM908 286h10v2h-10zM908 291h10v2h-10zM908 293h10v2h-10zM908 296h10v2h-10zM908 300h10v2h-10zM908 303h10v2h-10zM908 304h10v2h-10zM908 310h10v2h-10zM908 314h10v2h-10z" fill="url(#hx)" opacity="0.250"/>
<path d="M908 276h10v2h-10zM908 281h10v2h-10zM908 310h10v1h-10zM908 309h10v2h-10zM908 313h10v2h-10z" fill="url(#hx)" opacity="0.312"/>
<path d="M908 273h10v2h-10zM908 277h10v2h-10zM908 298h10v2h-10z" fill="url(#hx)" opacity="0.375"/>
<path d="M908 235h10v2h-10zM908 241h10v3h-10zM908 247h10v2h-10zM908 254h10v2h-10z" fill="url(#hy)" opacity="0.250"/>
<path d="M908 241h10v2h-10zM908 244h10v2h-10zM908 261h10v1h-10zM908 259h10v3h-10z" fill="url(#hy)" opacity="0.312"/>
<path d="M908 262h10v1h-10z" fill="url(#hy)" opacity="0.375"/>
<rect x="908" y="216.07" width="1" height="145.59" fill="#fff" opacity="0.14"/>
<path d="M918 320h10v1h-10zM918 320h10v2h-10zM918 343h10v1h-10z" fill="url(#hw)" opacity="0.125"/>
<path d="M918 316h10v2h-10zM918 319h10v2h-10zM918 321h10v2h-10zM918 326h10v2h-10zM918 331h10v1h-10zM918 333h10v2h-10zM918 353h10v2h-10zM918 356h10v2h-10zM918 362h10v2h-10zM918 363h10v2h-10zM918 370h10v1h-10zM918 370h10v2h-10zM918 379h10v1h-10z" fill="url(#hw)" opacity="0.188"/>
<path d="M918 317h10v3h-10zM918 324h10v1h-10zM918 324h10v3h-10zM918 332h10v2h-10zM918 336h10v1h-10zM918 337h10v2h-10zM918 338h10v2h-10zM918 347h10v2h-10zM918 358h10v2h-10zM918 361h10v2h-10zM918 368h10v2h-10zM918 373h10v2h-10zM918 374h10v2h-10zM918 382h10v2h-10z" fill="url(#hw)" opacity="0.250"/>
<path d="M918 327h10v2h-10zM918 328h10v2h-10zM918 331h10v2h-10zM918 340h10v2h-10zM918 341h10v3h-10zM918 345h10v1h-10zM918 344h10v2h-10zM918 367h10v1h-10zM918 372h10v2h-10zM918 377h10v3h-10z" fill="url(#hw)" opacity="0.312"/>
<path d="M918 336h10v2h-10zM918 342h10v1h-10zM918 348h10v3h-10zM918 351h10v1h-10zM918 351h10v2h-10z" fill="url(#hw)" opacity="0.375"/>
<path d="M918 282h10v3h-10z" fill="url(#hx)" opacity="0.062"/>
<path d="M918 290h10v2h-10zM918 291h10v2h-10zM918 292h10v2h-10zM918 297h10v1h-10z" fill="url(#hx)" opacity="0.125"/>
<path d="M918 271h10v2h-10zM918 279h10v1h-10zM918 285h10v2h-10zM918 297h10v2h-10zM918 299h10v2h-10zM918 313h10v1h-10z" fill="url(#hx)" opacity="0.188"/>
<path d="M918 268h10v1h-10zM918 277h10v2h-10zM918 280h10v1h-10zM918 282h10v2h-10zM918 286h10v1h-10zM918 291h10v3h-10zM918 293h10v2h-10zM918 300h10v2h-10zM918 301h10v2h-10zM918 303h10v2h-10zM918 307h10v1h-10zM918 309h10v2h-10z" fill="url(#hx)" opacity="0.250"/>
<path d="M918 304h10v1h-10zM918 311h10v2h-10z" fill="url(#hx)" opacity="0.312"/>
<path d="M918 251h10v2h-10zM918 261h10v2h-10z" fill="url(#hy)" opacity="0.188"/>
<path d="M918 244h10v2h-10zM918 249h10v2h-10zM918 253h10v3h-10zM918 255h10v2h-10zM918 255h10v3h-10zM918 265h10v2h-10z" fill="url(#hy)" opacity="0.250"/>
<path d="M918 259h10v1h-10zM918 264h10v2h-10z" fill="url(#hy)" opacity="0.312"/>
<rect x="918" y="222.34" width="1" height="139.32" fill="#fff" opacity="0.10"/>
<path d="M928 316h10v3h-10z" fill="url(#hw)" opacity="0.062"/>
<path d="M928 323h10v3h-10zM928 329h10v2h-10z" fill="url(#hw)" opacity="0.125"/>
<path d="M928 327h10v2h-10zM928 328h10v2h-10zM928 340h10v2h-10zM928 345h10v3h-10zM928 353h10v2h-10zM928 355h10v2h-10zM928 357h10v2h-10zM928 359h10v2h-10zM928 361h10v1h-10zM928 362h10v2h-10zM928 369h10v2h-10zM928 370h10v2h-10zM928 374h10v1h-10zM928 375h10v2h-10z" fill="url(#hw)" opacity="0.188"/>
<path d="M928 318h10v2h-10zM928 320h10v2h-10zM928 323h10v1h-10zM928 332h10v2h-10zM928 338h10v2h-10zM928 344h10v2h-10zM928 347h10v2h-10zM928 350h10v2h-10zM928 363h10v2h-10zM928 363h10v3h-10zM928 367h10v1h-10zM928 366h10v2h-10zM928 367h10v2h-10zM928 372h10v1h-10zM928 374h10v2h-10zM928 376h10v1h-10zM928 376h10v2h-10z" fill="url(#hw)" opacity="0.250"/>
<path d="M928 333h10v2h-10zM928 337h10v2h-10zM928 348h10v2h-10z" fill="url(#hw)" opacity="0.312"/>
<path d="M928 343h10v1h-10z" fill="url(#hw)" opacity="0.375"/>
<path d="M928 352h10v2h-10z" fill="url(#hw)" opacity="0.438"/>
<path d="M928 281h10v2h-10zM928 290h10v3h-10zM928 298h10v2h-10zM928 306h10v3h-10z" fill="url(#hx)" opacity="0.125"/>
<path d="M928 272h10v2h-10zM928 279h10v1h-10zM928 282h10v2h-10zM928 285h10v3h-10zM928 290h10v1h-10zM928 290h10v2h-10zM928 293h10v2h-10zM928 294h10v2h-10zM928 297h10v2h-10zM928 297h10v3h-10zM928 301h10v2h-10zM928 306h10v2h-10zM928 310h10v2h-10zM928 312h10v2h-10zM928 314h10v2h-10z" fill="url(#hx)" opacity="0.188"/>
<path d="M928 266h10v3h-10zM928 272h10v1h-10zM928 275h10v1h-10zM928 277h10v2h-10zM928 282h10v1h-10zM928 283h10v2h-10zM928 296h10v2h-10zM928 311h10v1h-10z" fill="url(#hx)" opacity="0.250"/>
<path d="M928 266h10v1h-10zM928 270h10v2h-10zM928 305h10v2h-10zM928 311h10v2h-10zM928 315h10v1h-10z" fill="url(#hx)" opacity="0.312"/>
<path d="M928 236h10v3h-10zM928 240h10v2h-10zM928 255h10v3h-10zM928 258h10v1h-10z" fill="url(#hy)" opacity="0.188"/>
<path d="M928 250h10v2h-10zM928 254h10v2h-10zM928 259h10v3h-10zM928 264h10v2h-10zM928 265h10v2h-10z" fill="url(#hy)" opacity="0.250"/>
<path d="M928 261h10v2h-10z" fill="url(#hy)" opacity="0.375"/>
<rect x="928" y="236.96" width="1" height="124.7" fill="#fff" opacity="0.13"/>
<path d="M938 317h10v2h-10zM938 322h10v2h-10zM938 322h10v3h-10zM938 326h10v1h-10zM938 324h10v3h-10zM938 346h10v1h-10zM938 359h10v3h-10zM938 366h10v2h-10zM938 375h10v2h-10z" fill="url(#hw)" opacity="0.125"/>
<path d="M938 321h10v2h-10zM938 324h10v1h-10zM938 325h10v2h-10zM938 327h10v3h-10zM938 356h10v2h-10zM938 356h10v3h-10zM938 360h10v2h-10zM938 361h10v2h-10zM938 362h10v2h-10zM938 362h10v3h-10zM938 364h10v2h-10zM938 370h10v1h-10zM938 369h10v2h-10zM938 373h10v3h-10zM938 381h10v2h-10z" fill="url(#hw)" opacity="0.188"/>
<path d="M938 316h10v2h-10zM938 319h10v1h-10zM938 318h10v2h-10zM938 326h10v3h-10zM938 331h10v2h-10zM938 335h10v2h-10zM938 336h10v2h-10zM938 335h10v3h-10zM938 340h10v2h-10zM938 339h10v3h-10zM938 341h10v2h-10zM938 342h10v2h-10zM938 352h10v2h-10zM938 354h10v2h-10zM938 353h10v3h-10zM938 358h10v2h-10zM938 361h10v3h-10zM938 365h10v2h-10zM938 367h10v2h-10zM938 370h10v3h-10zM938 372h10v2h-10zM938 374h10v3h-10zM938 377h10v1h-10zM938 379h10v2h-10z" fill="url(#hw)" opacity="0.250"/>
<path d="M938 320h10v2h-10zM938 327h10v2h-10zM938 332h10v1h-10zM938 332h10v2h-10zM938 333h10v2h-10zM938 334h10v2h-10zM938 338h10v2h-10zM938 344h10v1h-10zM938 345h10v2h-10zM938 347h10v2h-10zM938 363h10v2h-10zM938 370h10v2h-10zM938 371h10v2h-10z" fill="url(#hw)" opacity="0.312"/>
<path d="M938 347h10v1h-10zM938 348h10v2h-10zM938 350h10v2h-10zM938 351h10v2h-10z" fill="url(#hw)" opacity="0.375"/>
<path d="M938 350h10v1h-10z" fill="url(#hw)" opacity="0.438"/>
<path d="M938 284h10v2h-10z" fill="url(#hx)" opacity="0.062"/>
<path d="M938 275h10v1h-10zM938 286h10v2h-10zM938 287h10v2h-10zM938 289h10v2h-10zM938 297h10v3h-10zM938 310h10v1h-10zM938 315h10v2h-10z" fill="url(#hx)" opacity="0.125"/>
<path d="M938 276h10v2h-10zM938 283h10v1h-10zM938 283h10v2h-10zM938 292h10v2h-10zM938 291h10v3h-10zM938 293h10v2h-10zM938 296h10v2h-10zM938 300h10v2h-10zM938 301h10v2h-10zM938 304h10v1h-10zM938 303h10v2h-10zM938 305h10v2h-10zM938 309h10v2h-10zM938 313h10v2h-10z" fill="url(#hx)" opacity="0.188"/>
<path d="M938 268h10v2h-10zM938 269h10v2h-10zM938 275h10v2h-10zM938 279h10v2h-10zM938 280h10v2h-10zM938 281h10v3h-10zM938 284h10v3h-10zM938 288h10v2h-10zM938 290h10v2h-10zM938 295h10v3h-10zM938 298h10v1h-10zM938 297h10v2h-10zM938 306h10v1h-10zM938 308h10v2h-10zM938 308h10v3h-10zM938 314h10v3h-10z" fill="url(#hx)" opacity="0.250"/>
<path d="M938 264h10v3h-10z" fill="url(#hx)" opacity="0.312"/>
<path d="M938 270h10v1h-10z" fill="url(#hx)" opacity="0.375"/>
<path d="M938 211h10v2h-10zM938 221h10v2h-10zM938 235h10v2h-10zM938 240h10v2h-10zM938 239h10v3h-10zM938 261h10v2h-10z" fill="url(#hy)" opacity="0.188"/>
<path d="M938 244h10v3h-10zM938 247h10v2h-10zM938 254h10v2h-10zM938 257h10v3h-10zM938 262h10v1h-10z" fill="url(#hy)" opacity="0.250"/>
<path d="M938 246h10v2h-10zM938 264h10v2h-10z" fill="url(#hy)" opacity="0.312"/>
<path d="M938 259h10v2h-10z" fill="url(#hy)" opacity="0.375"/>
<rect x="938" y="216.07" width="1" height="145.59" fill="#fff" opacity="0.09"/>
<path d="M948 332h10v2h-10z" fill="url(#hw)" opacity="0.062"/>
<path d="M948 326h10v2h-10zM948 356h10v3h-10z" fill="url(#hw)" opacity="0.125"/>
<path d="M948 316h10v2h-10zM948 319h10v2h-10zM948 320h10v2h-10zM948 330h10v2h-10zM948 331h10v2h-10zM948 338h10v3h-10zM948 343h10v2h-10zM948 353h10v2h-10zM948 356h10v2h-10zM948 357h10v2h-10zM948 358h10v2h-10zM948 359h10v2h-10zM948 363h10v2h-10zM948 364h10v3h-10zM948 366h10v2h-10zM948 369h10v2h-10zM948 370h10v2h-10zM948 372h10v2h-10zM948 373h10v2h-10zM948 374h10v2h-10zM948 373h10v3h-10z" fill="url(#hw)" opacity="0.188"/>
<path d="M948 321h10v2h-10zM948 320h10v3h-10zM948 332h10v3h-10zM948 335h10v2h-10zM948 337h10v2h-10zM948 336h10v3h-10zM948 346h10v2h-10zM948 349h10v2h-10zM948 352h10v1h-10zM948 351h10v2h-10zM948 352h10v2h-10zM948 362h10v1h-10zM948 361h10v3h-10zM948 368h10v2h-10zM948 375h10v2h-10z" fill="url(#hw)" opacity="0.250"/>
<path d="M948 328h10v1h-10zM948 336h10v2h-10zM948 341h10v2h-10zM948 342h10v2h-10zM948 345h10v1h-10zM948 344h10v2h-10zM948 345h10v2h-10zM948 347h10v1h-10zM948 348h10v3h-10z" fill="url(#hw)" opacity="0.312"/>
<path d="M948 349h10v1h-10z" fill="url(#hw)" opacity="0.438"/>
<path d="M948 303h10v1h-10z" fill="url(#hx)" opacity="0.062"/>
<path d="M948 285h10v2h-10zM948 293h10v2h-10zM948 307h10v2h-10z" fill="url(#hx)" opacity="0.125"/>
<path d="M948 273h10v2h-10zM948 272h10v3h-10zM948 281h10v1h-10zM948 283h10v2h-10zM948 284h10v2h-10zM948 288h10v2h-10zM948 292h10v2h-10zM948 295h10v2h-10zM948 299h10v1h-10zM948 298h10v2h-10zM948 302h10v2h-10zM948 306h10v2h-10zM948 311h10v2h-10zM948 314h10v3h-10z" fill="url(#hx)" opacity="0.188"/>
<path d="M948 268h10v2h-10zM948 274h10v1h-10zM948 278h10v2h-10zM948 281h10v2h-10zM948 286h10v2h-10zM948 290h10v2h-10zM948 304h10v2h-10zM948 314h10v2h-10zM948 315h10v2h-10z" fill="url(#hx)" opacity="0.250"/>
<path d="M948 309h10v2h-10z" fill="url(#hx)" opacity="0.312"/>
<path d="M948 261h10v2h-10z" fill="url(#hy)" opacity="0.188"/>
<path d="M948 248h10v2h-10z" fill="url(#hy)" opacity="0.250"/>
<rect x="948" y="249.16" width="1" height="112.51" fill="#fff" opacity="0.08"/>
<path d="M958 321h10v3h-10zM958 327h10v2h-10zM958 336h10v2h-10zM958 338h10v2h-10zM958 360h10v2h-10zM958 364h10v3h-10z" fill="url(#hw)" opacity="0.125"/>
<path d="M958 317h10v1h-10zM958 320h10v2h-10zM958 324h10v1h-10zM958 323h10v2h-10zM958 329h10v2h-10zM958 355h10v1h-10zM958 358h10v2h-10zM958 358h10v3h-10zM958 362h10v2h-10zM958 361h10v3h-10zM958 366h10v3h-10zM958 369h10v3h-10zM958 371h10v3h-10zM958 375h10v3h-10zM958 380h10v2h-10z" fill="url(#hw)" opacity="0.188"/>
<path d="M958 324h10v2h-10zM958 323h10v3h-10zM958 328h10v1h-10zM958 332h10v3h-10zM958 343h10v2h-10zM958 350h10v3h-10zM958 356h10v2h-10zM958 358h10v1h-10zM958 363h10v2h-10zM958 368h10v2h-10zM958 368h10v3h-10zM958 371h10v2h-10zM958 372h10v3h-10zM958 375h10v1h-10zM958 379h10v2h-10z" fill="url(#hw)" opacity="0.250"/>
<path d="M958 317h10v2h-10zM958 319h10v2h-10zM958 328h10v2h-10zM958 333h10v2h-10zM958 342h10v2h-10zM958 345h10v3h-10zM958 349h10v2h-10zM958 364h10v2h-10zM958 376h10v2h-10z" fill="url(#hw)" opacity="0.312"/>
<path d="M958 332h10v2h-10zM958 338h10v1h-10zM958 341h10v1h-10zM958 345h10v2h-10zM958 349h10v1h-10zM958 350h10v2h-10z" fill="url(#hw)" opacity="0.375"/>
<path d="M958 287h10v2h-10zM958 305h10v2h-10zM958 305h10v3h-10zM958 312h10v2h-10zM958 314h10v3h-10z" fill="url(#hx)" opacity="0.125"/>
<path d="M958 284h10v3h-10zM958 290h10v2h-10zM958 291h10v2h-10zM958 293h10v2h-10zM958 293h10v3h-10zM958 297h10v2h-10zM958 300h10v2h-10zM958 306h10v3h-10zM958 310h10v1h-10zM958 310h10v3h-10z" fill="url(#hx)" opacity="0.188"/>
<path d="M958 267h10v2h-10zM958 276h10v2h-10zM958 281h10v2h-10zM958 286h10v2h-10zM958 295h10v2h-10zM958 296h10v2h-10zM958 300h10v3h-10zM958 308h10v2h-10zM958 311h10v2h-10z" fill="url(#hx)" opacity="0.250"/>
<path d="M958 268h10v2h-10zM958 278h10v2h-10zM958 282h10v2h-10zM958 285h10v1h-10zM958 313h10v1h-10zM958 311h10v3h-10z" fill="url(#hx)" opacity="0.312"/>
<path d="M958 277h10v2h-10z" fill="url(#hx)" opacity="0.375"/>
<path d="M958 230h10v3h-10zM958 255h10v1h-10z" fill="url(#hy)" opacity="0.188"/>
<path d="M958 225h10v2h-10zM958 260h10v2h-10z" fill="url(#hy)" opacity="0.250"/>
<path d="M958 245h10v2h-10zM958 265h10v2h-10z" fill="url(#hy)" opacity="0.312"/>
<rect x="958" y="225.82" width="1" height="135.85" fill="#fff" opacity="0.10"/>
<path d="M968 378h10v2h-10z" fill="url(#hw)" opacity="0.062"/>
<path d="M968 316h10v3h-10zM968 322h10v2h-10zM968 328h10v1h-10zM968 353h10v3h-10zM968 358h10v2h-10zM968 360h10v2h-10zM968 360h10v3h-10zM968 363h10v3h-10zM968 373h10v2h-10zM968 378h10v1h-10z" fill="url(#hw)" opacity="0.125"/>
<path d="M968 317h10v3h-10zM968 319h10v2h-10zM968 319h10v3h-10zM968 322h10v1h-10zM968 331h10v2h-10zM968 332h10v2h-10zM968 337h10v2h-10zM968 339h10v3h-10zM968 354h10v2h-10zM968 354h10v3h-10zM968 361h10v2h-10zM968 368h10v1h-10zM968 366h10v3h-10zM968 368h10v2h-10zM968 369h10v2h-10zM968 370h10v2h-10zM968 369h10v3h-10zM968 371h10v3h-10zM968 377h10v2h-10z" fill="url(#hw)" opacity="0.188"/>
<path d="M968 318h10v2h-10zM968 320h10v2h-10zM968 322h10v3h-10zM968 327h10v1h-10zM968 329h10v2h-10zM968 331h10v1h-10zM968 330h10v2h-10zM968 329h10v3h-10zM968 336h10v2h-10zM968 339h10v2h-10zM968 340h10v2h-10zM968 346h10v2h-10zM968 348h10v3h-10zM968 353h10v2h-10zM968 357h10v2h-10zM968 356h10v3h-10zM968 363h10v1h-10zM968 364h10v2h-10zM968 367h10v2h-10zM968 372h10v2h-10zM968 374h10v1h-10zM968 374h10v2h-10zM968 379h10v2h-10z" fill="url(#hw)" opacity="0.250"/>
<path d="M968 316h10v2h-10zM968 323h10v2h-10zM968 344h10v2h-10zM968 345h10v2h-10zM968 347h10v2h-10zM968 359h10v1h-10zM968 376h10v2h-10z" fill="url(#hw)" opacity="0.312"/>
<path d="M968 326h10v2h-10zM968 334h10v2h-10zM968 343h10v2h-10zM968 351h10v2h-10zM968 350h10v3h-10z" fill="url(#hw)" opacity="0.375"/>
<path d="M968 341h10v1h-10zM968 341h10v2h-10zM968 344h10v1h-10z" fill="url(#hw)" opacity="0.438"/>
<path d="M968 312h10v2h-10z" fill="url(#hx)" opacity="0.062"/>
<path d="M968 304h10v1h-10z" fill="url(#hx)" opacity="0.125"/>
<path d="M968 282h10v3h-10zM968 290h10v2h-10zM968 293h10v2h-10zM968 298h10v1h-10zM968 300h10v2h-10zM968 309h10v2h-10z" fill="url(#hx)" opacity="0.188"/>
<path d="M968 267h10v1h-10zM968 271h10v3h-10zM968 275h10v1h-10zM968 277h10v2h-10zM968 282h10v2h-10zM968 285h10v2h-10zM968 287h10v2h-10zM968 288h10v2h-10zM968 293h10v1h-10zM968 297h10v1h-10zM968 299h10v2h-10zM968 301h10v2h-10zM968 304h10v3h-10zM968 306h10v2h-10zM968 307h10v2h-10zM968 308h10v3h-10zM968 310h10v2h-10zM968 311h10v2h-10zM968 311h10v3h-10zM968 314h10v2h-10z" fill="url(#hx)" opacity="0.250"/>
<path d="M968 268h10v2h-10zM968 271h10v1h-10zM968 272h10v2h-10zM968 273h10v2h-10zM968 278h10v2h-10zM968 280h10v2h-10zM968 283h10v2h-10zM968 287h10v3h-10zM968 296h10v1h-10zM968 302h10v2h-10zM968 304h10v2h-10zM968 313h10v2h-10z" fill="url(#hx)" opacity="0.312"/>
<path d="M968 227h10v2h-10zM968 231h10v2h-10z" fill="url(#hy)" opacity="0.188"/>
<path d="M968 250h10v2h-10zM968 252h10v2h-10z" fill="url(#hy)" opacity="0.250"/>
<path d="M968 256h10v3h-10z" fill="url(#hy)" opacity="0.312"/>
<rect x="968" y="249.7" width="1" height="111.96" fill="#fff" opacity="0.10"/>
<path d="M978 316h10v2h-10zM978 317h10v2h-10zM978 317h10v3h-10zM978 325h10v1h-10zM978 326h10v2h-10zM978 327h10v2h-10zM978 331h10v3h-10zM978 333h10v3h-10z" fill="url(#hw)" opacity="0.062"/>
<path d="M978 319h10v2h-10zM978 324h10v1h-10zM978 324h10v2h-10zM978 329h10v2h-10zM978 330h10v2h-10zM978 332h10v2h-10zM978 335h10v2h-10zM978 353h10v3h-10zM978 362h10v2h-10z" fill="url(#hw)" opacity="0.125"/>
<path d="M978 336h10v2h-10zM978 356h10v1h-10zM978 355h10v2h-10zM978 358h10v2h-10zM978 362h10v1h-10zM978 363h10v2h-10zM978 363h10v3h-10zM978 366h10v1h-10zM978 371h10v2h-10zM978 372h10v2h-10zM978 371h10v3h-10zM978 373h10v3h-10zM978 382h10v2h-10z" fill="url(#hw)" opacity="0.188"/>
<path d="M978 339h10v3h-10zM978 344h10v1h-10zM978 347h10v3h-10zM978 350h10v2h-10zM978 357h10v2h-10zM978 361h10v1h-10zM978 360h10v2h-10zM978 366h10v2h-10zM978 369h10v2h-10zM978 376h10v3h-10z" fill="url(#hw)" opacity="0.250"/>
<path d="M978 338h10v2h-10zM978 340h10v2h-10zM978 342h10v2h-10zM978 374h10v2h-10z" fill="url(#hw)" opacity="0.312"/>
<path d="M978 347h10v2h-10zM978 351h10v2h-10z" fill="url(#hw)" opacity="0.375"/>
<path d="M978 289h10v3h-10zM978 291h10v2h-10zM978 293h10v2h-10zM978 295h10v3h-10zM978 299h10v1h-10zM978 302h10v1h-10zM978 301h10v2h-10zM978 305h10v2h-10zM978 307h10v1h-10zM978 314h10v1h-10z" fill="url(#hx)" opacity="0.062"/>
<path d="M978 286h10v2h-10zM978 285h10v3h-10zM978 289h10v2h-10zM978 307h10v2h-10zM978 308h10v2h-10zM978 310h10v2h-10zM978 313h10v2h-10zM978 316h10v1h-10z" fill="url(#hx)" opacity="0.125"/>
<path d="M978 270h10v2h-10zM978 275h10v2h-10zM978 277h10v2h-10zM978 278h10v3h-10zM978 282h10v1h-10zM978 297h10v2h-10z" fill="url(#hx)" opacity="0.188"/>
<path d="M978 283h10v3h-10zM978 296h10v2h-10z" fill="url(#hx)" opacity="0.250"/>
<path d="M978 265h10v2h-10z" fill="url(#hy)" opacity="0.188"/>
<rect x="978" y="265.85" width="1" height="95.81" fill="#fff" opacity="0.13"/>
<path d="M988 317h10v1h-10zM988 316h10v2h-10zM988 319h10v2h-10zM988 320h10v3h-10zM988 329h10v2h-10zM988 328h10v3h-10zM988 333h10v1h-10zM988 354h10v1h-10zM988 355h10v1h-10zM988 371h10v2h-10z" fill="url(#hw)" opacity="0.062"/>
<path d="M988 320h10v2h-10zM988 324h10v2h-10zM988 328h10v2h-10zM988 334h10v1h-10zM988 334h10v2h-10zM988 358h10v2h-10zM988 362h10v2h-10zM988 369h10v3h-10z" fill="url(#hw)" opacity="0.125"/>
<path d="M988 324h10v3h-10zM988 333h10v2h-10zM988 336h10v2h-10zM988 337h10v2h-10zM988 339h10v1h-10zM988 353h10v2h-10zM988 358h10v1h-10zM988 359h10v1h-10zM988 359h10v2h-10zM988 361h10v2h-10zM988 364h10v2h-10zM988 371h10v3h-10zM988 373h10v2h-10zM988 372h10v3h-10zM988 376h10v2h-10zM988 378h10v2h-10zM988 382h10v2h-10z" fill="url(#hw)" opacity="0.188"/>
<path d="M988 339h10v2h-10zM988 342h10v2h-10zM988 345h10v1h-10zM988 346h10v3h-10zM988 349h10v3h-10zM988 352h10v2h-10zM988 357h10v3h-10zM988 361h10v3h-10zM988 363h10v2h-10zM988 365h10v2h-10zM988 366h10v2h-10zM988 367h10v2h-10zM988 370h10v2h-10zM988 372h10v1h-10zM988 372h10v2h-10zM988 375h10v2h-10zM988 381h10v2h-10z" fill="url(#hw)" opacity="0.250"/>
<path d="M988 340h10v2h-10zM988 343h10v2h-10zM988 347h10v1h-10zM988 348h10v1h-10zM988 349h10v2h-10zM988 373h10v1h-10z" fill="url(#hw)" opacity="0.312"/>
<path d="M988 345h10v2h-10z" fill="url(#hw)" opacity="0.375"/>
<path d="M988 346h10v2h-10z" fill="url(#hw)" opacity="0.438"/>
<path d="M988 298h10v1h-10zM988 299h10v2h-10zM988 302h10v2h-10zM988 301h10v3h-10zM988 303h10v2h-10zM988 307h10v1h-10zM988 311h10v1h-10zM988 311h10v2h-10zM988 314h10v2h-10z" fill="url(#hx)" opacity="0.062"/>
<path d="M988 291h10v2h-10zM988 297h10v2h-10zM988 298h10v2h-10zM988 306h10v1h-10zM988 306h10v2h-10zM988 313h10v2h-10z" fill="url(#hx)" opacity="0.125"/>
<rect x="988" y="299.47" width="1" height="62.19" fill="#fff" opacity="0.09"/>
<path d="M998 335h10v3h-10z" fill="url(#hw)" opacity="0.125"/>
<path d="M998 323h10v2h-10zM998 325h10v2h-10zM998 336h10v1h-10zM998 342h10v2h-10zM998 341h10v3h-10zM998 354h10v1h-10zM998 356h10v3h-10zM998 360h10v3h-10zM998 365h10v2h-10zM998 366h10v3h-10zM998 379h10v3h-10z" fill="url(#hw)" opacity="0.188"/>
<path d="M998 320h10v2h-10zM998 320h10v3h-10zM998 323h10v1h-10zM998 322h10v2h-10zM998 324h10v2h-10zM998 329h10v2h-10zM998 334h10v2h-10zM998 344h10v1h-10zM998 342h10v3h-10zM998 345h10v1h-10zM998 357h10v1h-10zM998 357h10v2h-10zM998 359h10v2h-10zM998 363h10v2h-10zM998 370h10v2h-10zM998 373h10v2h-10zM998 374h10v2h-10zM998 376h10v2h-10z" fill="url(#hw)" opacity="0.250"/>
<path d="M998 337h10v2h-10zM998 346h10v2h-10zM998 352h10v2h-10z" fill="url(#hw)" opacity="0.312"/>
<path d="M998 335h10v2h-10zM998 338h10v3h-10zM998 351h10v1h-10z" fill="url(#hw)" opacity="0.375"/>
<path d="M998 312h10v2h-10z" fill="url(#hx)" opacity="0.062"/>
<path d="M998 308h10v2h-10z" fill="url(#hx)" opacity="0.125"/>
<path d="M998 277h10v1h-10zM998 294h10v2h-10zM998 298h10v2h-10zM998 305h10v2h-10zM998 306h10v2h-10zM998 307h10v2h-10zM998 311h10v1h-10zM998 310h10v2h-10zM998 311h10v2h-10zM998 314h10v2h-10zM998 315h10v2h-10z" fill="url(#hx)" opacity="0.188"/>
<path d="M998 281h10v3h-10zM998 283h10v2h-10zM998 288h10v2h-10zM998 290h10v2h-10zM998 292h10v3h-10zM998 297h10v2h-10zM998 301h10v1h-10z" fill="url(#hx)" opacity="0.250"/>
<path d="M998 276h10v2h-10zM998 283h10v3h-10zM998 286h10v2h-10z" fill="url(#hx)" opacity="0.312"/>
<path d="M998 238h10v2h-10zM998 240h10v3h-10zM998 244h10v2h-10zM998 265h10v2h-10z" fill="url(#hy)" opacity="0.188"/>
<path d="M998 251h10v3h-10zM998 260h10v2h-10z" fill="url(#hy)" opacity="0.250"/>
<path d="M998 254h10v2h-10zM998 262h10v2h-10z" fill="url(#hy)" opacity="0.312"/>
<rect x="998" y="231.51" width="1" height="130.16" fill="#fff" opacity="0.08"/>
<path d="M1008 335h10v3h-10zM1008 359h10v1h-10zM1008 377h10v1h-10z" fill="url(#hw)" opacity="0.125"/>
<path d="M1008 319h10v3h-10zM1008 321h10v2h-10zM1008 326h10v1h-10zM1008 328h10v2h-10zM1008 334h10v3h-10zM1008 352h10v1h-10zM1008 355h10v2h-10zM1008 360h10v2h-10zM1008 364h10v2h-10zM1008 366h10v1h-10zM1008 370h10v3h-10zM1008 372h10v2h-10z" fill="url(#hw)" opacity="0.188"/>
<path d="M1008 316h10v2h-10zM1008 317h10v2h-10zM1008 318h10v2h-10zM1008 325h10v2h-10zM1008 329h10v2h-10zM1008 334h10v2h-10zM1008 340h10v1h-10zM1008 339h10v2h-10zM1008 343h10v2h-10zM1008 354h10v2h-10zM1008 359h10v2h-10zM1008 368h10v1h-10zM1008 369h10v1h-10zM1008 368h10v2h-10zM1008 369h10v2h-10zM1008 374h10v2h-10zM1008 375h10v2h-10zM1008 376h10v3h-10zM1008 382h10v2h-10z" fill="url(#hw)" opacity="0.250"/>
<path d="M1008 326h10v2h-10zM1008 327h10v2h-10zM1008 336h10v2h-10zM1008 346h10v2h-10zM1008 348h10v1h-10zM1008 361h10v2h-10zM1008 377h10v2h-10z" fill="url(#hw)" opacity="0.312"/>
<path d="M1008 350h10v2h-10zM1008 352h10v2h-10z" fill="url(#hw)" opacity="0.375"/>
<path d="M1008 296h10v3h-10z" fill="url(#hx)" opacity="0.062"/>
<path d="M1008 277h10v2h-10zM1008 278h10v2h-10zM1008 279h10v2h-10zM1008 286h10v1h-10zM1008 292h10v2h-10zM1008 296h10v1h-10zM1008 299h10v2h-10zM1008 302h10v2h-10zM1008 306h10v1h-10zM1008 307h10v2h-10zM1008 311h10v1h-10zM1008 311h10v2h-10zM1008 315h10v2h-10z" fill="url(#hx)" opacity="0.188"/>
<path d="M1008 281h10v2h-10zM1008 284h10v2h-10zM1008 290h10v2h-10zM1008 294h10v2h-10zM1008 297h10v1h-10zM1008 300h10v2h-10zM1008 304h10v3h-10zM1008 308h10v1h-10zM1008 310h10v2h-10zM1008 312h10v2h-10z" fill="url(#hx)" opacity="0.250"/>
<path d="M1008 267h10v1h-10zM1008 270h10v3h-10zM1008 276h10v2h-10zM1008 284h10v1h-10zM1008 289h10v2h-10z" fill="url(#hx)" opacity="0.312"/>
<path d="M1008 273h10v2h-10z" fill="url(#hx)" opacity="0.375"/>
<path d="M1008 245h10v2h-10zM1008 248h10v3h-10zM1008 254h10v3h-10zM1008 262h10v1h-10z" fill="url(#hy)" opacity="0.188"/>
<path d="M1008 246h10v1h-10zM1008 252h10v2h-10zM1008 256h10v1h-10zM1008 263h10v1h-10z" fill="url(#hy)" opacity="0.250"/>
<path d="M1008 242h10v2h-10zM1008 259h10v1h-10zM1008 261h10v3h-10z" fill="url(#hy)" opacity="0.312"/>
<path d="M1008 262h10v2h-10z" fill="url(#hy)" opacity="0.375"/>
<rect x="1008" y="243.21" width="1" height="118.46" fill="#fff" opacity="0.14"/>
<path d="M1018 317h10v2h-10zM1018 330h10v2h-10zM1018 354h10v2h-10zM1018 364h10v2h-10zM1018 364h10v3h-10z" fill="url(#hw)" opacity="0.125"/>
<path d="M1018 316h10v2h-10zM1018 323h10v2h-10zM1018 325h10v2h-10zM1018 337h10v2h-10zM1018 352h10v3h-10zM1018 356h10v2h-10zM1018 357h10v2h-10zM1018 361h10v3h-10zM1018 362h10v3h-10zM1018 366h10v2h-10zM1018 370h10v2h-10zM1018 376h10v2h-10z" fill="url(#hw)" opacity="0.188"/>
<path d="M1018 319h10v1h-10zM1018 320h10v2h-10zM1018 322h10v2h-10zM1018 324h10v3h-10zM1018 326h10v2h-10zM1018 333h10v2h-10zM1018 335h10v1h-10zM1018 339h10v1h-10zM1018 342h10v1h-10zM1018 341h10v2h-10zM1018 347h10v2h-10zM1018 352h10v2h-10zM1018 355h10v2h-10zM1018 360h10v1h-10zM1018 359h10v2h-10zM1018 369h10v2h-10zM1018 374h10v1h-10zM1018 373h10v2h-10zM1018 374h10v2h-10z" fill="url(#hw)" opacity="0.250"/>
<path d="M1018 328h10v2h-10zM1018 329h10v2h-10zM1018 334h10v2h-10zM1018 336h10v2h-10zM1018 343h10v1h-10zM1018 345h10v2h-10zM1018 363h10v2h-10zM1018 381h10v2h-10z" fill="url(#hw)" opacity="0.312"/>
<path d="M1018 344h10v2h-10zM1018 348h10v2h-10zM1018 348h10v3h-10z" fill="url(#hw)" opacity="0.375"/>
<path d="M1018 350h10v2h-10z" fill="url(#hw)" opacity="0.438"/>
<path d="M1018 285h10v2h-10zM1018 310h10v1h-10zM1018 309h10v2h-10zM1018 313h10v2h-10z" fill="url(#hx)" opacity="0.125"/>
<path d="M1018 282h10v1h-10zM1018 296h10v2h-10zM1018 295h10v3h-10zM1018 300h10v2h-10zM1018 302h10v2h-10zM1018 305h10v2h-10zM1018 309h10v3h-10z" fill="url(#hx)" opacity="0.188"/>
<path d="M1018 267h10v1h-10zM1018 268h10v2h-10zM1018 275h10v2h-10zM1018 276h10v2h-10zM1018 281h10v2h-10zM1018 280h10v3h-10zM1018 286h10v2h-10zM1018 292h10v1h-10zM1018 292h10v2h-10zM1018 293h10v2h-10zM1018 312h10v1h-10zM1018 314h10v2h-10z" fill="url(#hx)" opacity="0.250"/>
<path d="M1018 266h10v3h-10zM1018 279h10v1h-10zM1018 282h10v2h-10zM1018 288h10v2h-10zM1018 294h10v2h-10zM1018 303h10v1h-10zM1018 303h10v2h-10zM1018 306h10v3h-10z" fill="url(#hx)" opacity="0.312"/>
<path d="M1018 270h10v3h-10z" fill="url(#hx)" opacity="0.375"/>
<path d="M1018 231h10v2h-10zM1018 231h10v3h-10zM1018 248h10v2h-10zM1018 249h10v2h-10zM1018 250h10v2h-10zM1018 260h10v2h-10zM1018 261h10v2h-10z" fill="url(#hy)" opacity="0.188"/>
<path d="M1018 244h10v2h-10zM1018 249h10v3h-10zM1018 254h10v3h-10z" fill="url(#hy)" opacity="0.250"/>
<path d="M1018 261h10v3h-10z" fill="url(#hy)" opacity="0.312"/>
<rect x="1018" y="227.55" width="1" height="134.12" fill="#fff" opacity="0.09"/>
<path d="M1028 319h10v2h-10zM1028 368h10v2h-10z" fill="url(#hw)" opacity="0.062"/>
<path d="M1028 327h10v2h-10zM1028 353h10v2h-10zM1028 355h10v3h-10zM1028 361h10v2h-10zM1028 362h10v2h-10zM1028 367h10v1h-10zM1028 374h10v2h-10zM1028 377h10v2h-10z" fill="url(#hw)" opacity="0.125"/>
<path d="M1028 317h10v2h-10zM1028 320h10v2h-10zM1028 321h10v2h-10zM1028 325h10v3h-10zM1028 329h10v2h-10zM1028 332h10v2h-10zM1028 341h10v2h-10zM1028 355h10v2h-10zM1028 361h10v1h-10zM1028 360h10v2h-10zM1028 364h10v2h-10zM1028 371h10v2h-10zM1028 378h10v1h-10z" fill="url(#hw)" opacity="0.188"/>
<path d="M1028 339h10v1h-10zM1028 339h10v2h-10zM1028 338h10v3h-10zM1028 340h10v2h-10zM1028 344h10v1h-10zM1028 344h10v3h-10zM1028 351h10v1h-10zM1028 351h10v2h-10zM1028 370h10v1h-10zM1028 372h10v1h-10zM1028 382h10v2h-10z" fill="url(#hw)" opacity="0.250"/>
<path d="M1028 326h10v2h-10zM1028 333h10v2h-10zM1028 335h10v2h-10zM1028 344h10v2h-10zM1028 351h10v3h-10z" fill="url(#hw)" opacity="0.312"/>
<path d="M1028 294h10v2h-10z" fill="url(#hx)" opacity="0.062"/>
<path d="M1028 278h10v1h-10zM1028 308h10v1h-10zM1028 308h10v2h-10z" fill="url(#hx)" opacity="0.125"/>
<path d="M1028 283h10v3h-10zM1028 286h10v2h-10zM1028 291h10v2h-10zM1028 298h10v1h-10zM1028 300h10v2h-10zM1028 309h10v1h-10zM1028 309h10v2h-10z" fill="url(#hx)" opacity="0.188"/>
<path d="M1028 270h10v2h-10zM1028 270h10v3h-10zM1028 278h10v2h-10zM1028 281h10v2h-10zM1028 291h10v1h-10zM1028 290h10v2h-10zM1028 301h10v1h-10zM1028 303h10v2h-10zM1028 312h10v3h-10zM1028 314h10v3h-10z" fill="url(#hx)" opacity="0.250"/>
<path d="M1028 264h10v2h-10z" fill="url(#hy)" opacity="0.188"/>
<path d="M1028 260h10v1h-10z" fill="url(#hy)" opacity="0.250"/>
<rect x="1028" y="226.46" width="1" height="135.21" fill="#fff" opacity="0.06"/>
<path d="M1038 344h10v2h-10zM1038 374h10v3h-10z" fill="url(#hw)" opacity="0.062"/>
<path d="M1038 324h10v2h-10zM1038 358h10v2h-10zM1038 365h10v2h-10zM1038 373h10v1h-10z" fill="url(#hw)" opacity="0.125"/>
<path d="M1038 317h10v2h-10zM1038 321h10v2h-10zM1038 325h10v2h-10zM1038 329h10v2h-10zM1038 331h10v2h-10zM1038 335h10v2h-10zM1038 337h10v2h-10zM1038 341h10v1h-10zM1038 350h10v2h-10zM1038 352h10v2h-10zM1038 354h10v2h-10zM1038 356h10v1h-10zM1038 359h10v1h-10zM1038 359h10v3h-10zM1038 363h10v1h-10zM1038 363h10v2h-10zM1038 368h10v2h-10zM1038 368h10v3h-10zM1038 373h10v2h-10zM1038 374h10v2h-10z" fill="url(#hw)" opacity="0.188"/>
<path d="M1038 320h10v1h-10zM1038 322h10v2h-10zM1038 323h10v2h-10zM1038 326h10v2h-10zM1038 327h10v2h-10zM1038 333h10v2h-10zM1038 341h10v2h-10zM1038 345h10v1h-10zM1038 347h10v3h-10zM1038 351h10v2h-10zM1038 372h10v2h-10z" fill="url(#hw)" opacity="0.250"/>
<path d="M1038 343h10v2h-10z" fill="url(#hw)" opacity="0.312"/>
<path d="M1038 296h10v3h-10zM1038 297h10v3h-10z" fill="url(#hx)" opacity="0.125"/>
<path d="M1038 268h10v2h-10zM1038 279h10v2h-10zM1038 281h10v1h-10zM1038 282h10v1h-10zM1038 282h10v2h-10zM1038 288h10v1h-10zM1038 286h10v3h-10zM1038 291h10v1h-10zM1038 293h10v1h-10zM1038 296h10v1h-10zM1038 295h10v2h-10zM1038 300h10v2h-10zM1038 303h10v1h-10zM1038 305h10v2h-10zM1038 308h10v2h-10zM1038 315h10v2h-10z" fill="url(#hx)" opacity="0.188"/>
<path d="M1038 276h10v2h-10zM1038 284h10v3h-10zM1038 304h10v2h-10zM1038 310h10v2h-10zM1038 313h10v2h-10z" fill="url(#hx)" opacity="0.250"/>
<path d="M1038 312h10v2h-10z" fill="url(#hx)" opacity="0.312"/>
<path d="M1038 239h10v1h-10zM1038 245h10v2h-10zM1038 254h10v2h-10zM1038 262h10v2h-10zM1038 265h10v2h-10z" fill="url(#hy)" opacity="0.188"/>
<path d="M1038 264h10v3h-10z" fill="url(#hy)" opacity="0.250"/>
<rect x="1038" y="232.98" width="1" height="128.68" fill="#fff" opacity="0.09"/>
<path d="M1048 334h10v2h-10zM1048 357h10v2h-10zM1048 360h10v2h-10zM1048 365h10v2h-10zM1048 371h10v2h-10z" fill="url(#hw)" opacity="0.062"/>
<path d="M1048 321h10v1h-10zM1048 333h10v2h-10zM1048 336h10v3h-10zM1048 355h10v2h-10zM1048 356h10v2h-10zM1048 362h10v1h-10zM1048 361h10v2h-10zM1048 362h10v2h-10zM1048 364h10v2h-10zM1048 368h10v2h-10zM1048 370h10v2h-10zM1048 374h10v1h-10zM1048 376h10v1h-10zM1048 375h10v2h-10zM1048 377h10v3h-10zM1048 382h10v2h-10z" fill="url(#hw)" opacity="0.125"/>
<path d="M1048 337h10v1h-10zM1048 341h10v1h-10zM1048 341h10v2h-10zM1048 342h10v2h-10zM1048 345h10v2h-10zM1048 348h10v1h-10zM1048 349h10v3h-10zM1048 352h10v2h-10zM1048 359h10v2h-10zM1048 366h10v2h-10z" fill="url(#hw)" opacity="0.188"/>
<path d="M1048 336h10v2h-10zM1048 338h10v2h-10zM1048 343h10v2h-10zM1048 346h10v2h-10zM1048 347h10v2h-10zM1048 351h10v2h-10z" fill="url(#hw)" opacity="0.250"/>
<rect x="1048" y="308.03" width="1" height="53.63" fill="#fff" opacity="0.02"/>
<path d="M1058 315h10v3h-10zM1058 322h10v1h-10zM1058 331h10v1h-10zM1058 357h10v1h-10zM1058 357h10v2h-10zM1058 369h10v1h-10zM1058 370h10v2h-10zM1058 373h10v1h-10zM1058 375h10v1h-10z" fill="url(#hw)" opacity="0.125"/>
<path d="M1058 320h10v2h-10zM1058 325h10v2h-10zM1058 327h10v2h-10zM1058 330h10v2h-10zM1058 333h10v2h-10zM1058 335h10v2h-10zM1058 336h10v2h-10zM1058 347h10v2h-10zM1058 350h10v2h-10zM1058 354h10v2h-10zM1058 359h10v1h-10zM1058 357h10v3h-10zM1058 361h10v1h-10zM1058 359h10v3h-10zM1058 362h10v2h-10zM1058 363h10v2h-10zM1058 363h10v3h-10zM1058 366h10v1h-10zM1058 365h10v2h-10zM1058 364h10v3h-10zM1058 372h10v2h-10zM1058 375h10v2h-10zM1058 378h10v3h-10z" fill="url(#hw)" opacity="0.188"/>
<path d="M1058 317h10v1h-10zM1058 319h10v2h-10zM1058 329h10v2h-10zM1058 331h10v2h-10zM1058 340h10v1h-10zM1058 341h10v3h-10zM1058 343h10v2h-10zM1058 342h10v3h-10zM1058 346h10v2h-10zM1058 348h10v1h-10zM1058 348h10v2h-10zM1058 356h10v2h-10zM1058 362h10v1h-10zM1058 363h10v1h-10zM1058 374h10v1h-10zM1058 377h10v1h-10zM1058 375h10v3h-10z" fill="url(#hw)" opacity="0.250"/>
<path d="M1058 320h10v3h-10zM1058 324h10v1h-10zM1058 323h10v3h-10zM1058 334h10v2h-10zM1058 338h10v2h-10zM1058 342h10v1h-10zM1058 353h10v1h-10zM1058 367h10v2h-10zM1058 367h10v3h-10zM1058 371h10v2h-10z" fill="url(#hw)" opacity="0.312"/>
<path d="M1058 341h10v2h-10zM1058 344h10v2h-10zM1058 351h10v2h-10z" fill="url(#hw)" opacity="0.375"/>
<path d="M1058 306h10v2h-10zM1058 310h10v3h-10z" fill="url(#hx)" opacity="0.125"/>
<path d="M1058 291h10v2h-10zM1058 296h10v3h-10zM1058 302h10v1h-10zM1058 308h10v2h-10z" fill="url(#hx)" opacity="0.188"/>
<path d="M1058 269h10v2h-10zM1058 278h10v2h-10zM1058 287h10v2h-10zM1058 292h10v2h-10zM1058 295h10v2h-10zM1058 296h10v2h-10zM1058 298h10v2h-10zM1058 300h10v2h-10zM1058 302h10v2h-10zM1058 304h10v1h-10zM1058 302h10v3h-10zM1058 304h10v2h-10zM1058 307h10v3h-10zM1058 313h10v1h-10zM1058 314h10v1h-10z" fill="url(#hx)" opacity="0.250"/>
<path d="M1058 267h10v2h-10zM1058 271h10v2h-10zM1058 274h10v1h-10zM1058 273h10v2h-10zM1058 274h10v2h-10zM1058 280h10v1h-10zM1058 286h10v2h-10zM1058 313h10v2h-10zM1058 315h10v2h-10z" fill="url(#hx)" opacity="0.312"/>
<path d="M1058 282h10v2h-10zM1058 285h10v2h-10z" fill="url(#hx)" opacity="0.375"/>
<path d="M1058 241h10v2h-10zM1058 261h10v2h-10z" fill="url(#hy)" opacity="0.188"/>
<path d="M1058 254h10v2h-10zM1058 258h10v2h-10zM1058 260h10v2h-10z" fill="url(#hy)" opacity="0.250"/>
<path d="M1058 262h10v1h-10z" fill="url(#hy)" opacity="0.312"/>
<path d="M1058 260h10v3h-10z" fill="url(#hy)" opacity="0.375"/>
<rect x="1058" y="250.64" width="1" height="111.03" fill="#fff" opacity="0.12"/>
<path d="M1068 324h9v2h-9zM1068 352h9v3h-9zM1068 373h9v1h-9z" fill="url(#hw)" opacity="0.125"/>
<path d="M1068 316h9v2h-9zM1068 327h9v2h-9zM1068 330h9v1h-9zM1068 332h9v1h-9zM1068 333h9v1h-9zM1068 332h9v2h-9zM1068 336h9v2h-9zM1068 339h9v2h-9zM1068 356h9v1h-9zM1068 359h9v2h-9zM1068 362h9v3h-9zM1068 365h9v1h-9zM1068 368h9v2h-9zM1068 367h9v3h-9zM1068 373h9v2h-9zM1068 374h9v2h-9zM1068 377h9v2h-9zM1068 378h9v2h-9z" fill="url(#hw)" opacity="0.188"/>
<path d="M1068 319h9v1h-9zM1068 325h9v2h-9zM1068 335h9v1h-9zM1068 336h9v1h-9zM1068 337h9v2h-9zM1068 341h9v2h-9zM1068 346h9v2h-9zM1068 345h9v3h-9zM1068 354h9v2h-9zM1068 356h9v2h-9zM1068 355h9v3h-9zM1068 360h9v2h-9zM1068 366h9v2h-9zM1068 369h9v2h-9z" fill="url(#hw)" opacity="0.250"/>
<path d="M1068 320h9v2h-9zM1068 342h9v2h-9zM1068 344h9v2h-9zM1068 343h9v3h-9zM1068 349h9v2h-9zM1068 352h9v1h-9zM1068 351h9v2h-9zM1068 380h9v1h-9z" fill="url(#hw)" opacity="0.312"/>
<path d="M1068 284h9v2h-9zM1068 308h9v1h-9z" fill="url(#hx)" opacity="0.125"/>
<path d="M1068 267h9v1h-9zM1068 280h9v3h-9zM1068 285h9v1h-9zM1068 283h9v3h-9zM1068 293h9v2h-9zM1068 292h9v3h-9zM1068 298h9v2h-9zM1068 304h9v3h-9zM1068 310h9v3h-9zM1068 313h9v2h-9z" fill="url(#hx)" opacity="0.188"/>
<path d="M1068 269h9v2h-9zM1068 271h9v2h-9zM1068 273h9v2h-9zM1068 279h9v2h-9zM1068 289h9v2h-9zM1068 289h9v3h-9zM1068 297h9v1h-9zM1068 296h9v3h-9zM1068 303h9v2h-9zM1068 307h9v2h-9zM1068 312h9v2h-9zM1068 314h9v3h-9z" fill="url(#hx)" opacity="0.250"/>
<path d="M1068 268h9v3h-9zM1068 288h9v2h-9zM1068 308h9v2h-9z" fill="url(#hx)" opacity="0.312"/>
<path d="M1068 274h9v2h-9z" fill="url(#hx)" opacity="0.375"/>
<path d="M1068 233h9v2h-9zM1068 253h9v1h-9zM1068 254h9v2h-9zM1068 260h9v2h-9zM1068 263h9v2h-9z" fill="url(#hy)" opacity="0.188"/>
<path d="M1068 265h9v1h-9z" fill="url(#hy)" opacity="0.250"/>
<path d="M1068 260h9v1h-9z" fill="url(#hy)" opacity="0.312"/>
<rect x="1068" y="234.78" width="1" height="126.89" fill="#fff" opacity="0.12"/>
<path d="M1077 328h10v2h-10zM1077 359h10v1h-10zM1077 358h10v2h-10zM1077 369h10v2h-10z" fill="url(#hw)" opacity="0.125"/>
<path d="M1077 317h10v2h-10zM1077 318h10v2h-10zM1077 322h10v1h-10zM1077 325h10v2h-10zM1077 324h10v3h-10zM1077 330h10v1h-10zM1077 333h10v3h-10zM1077 335h10v3h-10zM1077 353h10v2h-10zM1077 362h10v3h-10zM1077 366h10v3h-10zM1077 369h10v1h-10zM1077 368h10v2h-10zM1077 375h10v3h-10zM1077 377h10v2h-10zM1077 379h10v2h-10z" fill="url(#hw)" opacity="0.188"/>
<path d="M1077 316h10v2h-10zM1077 321h10v1h-10zM1077 322h10v2h-10zM1077 327h10v2h-10zM1077 329h10v3h-10zM1077 330h10v3h-10zM1077 332h10v2h-10zM1077 334h10v2h-10zM1077 338h10v2h-10zM1077 342h10v2h-10zM1077 343h10v2h-10zM1077 346h10v2h-10zM1077 347h10v2h-10zM1077 350h10v2h-10zM1077 356h10v2h-10zM1077 357h10v2h-10zM1077 359h10v3h-10zM1077 361h10v2h-10zM1077 364h10v2h-10zM1077 365h10v2h-10zM1077 368h10v1h-10zM1077 372h10v2h-10zM1077 371h10v3h-10zM1077 376h10v2h-10z" fill="url(#hw)" opacity="0.250"/>
<path d="M1077 321h10v2h-10zM1077 331h10v2h-10zM1077 343h10v3h-10zM1077 350h10v1h-10zM1077 375h10v2h-10z" fill="url(#hw)" opacity="0.312"/>
<path d="M1077 346h10v1h-10z" fill="url(#hw)" opacity="0.375"/>
<path d="M1077 344h10v2h-10zM1077 349h10v2h-10z" fill="url(#hw)" opacity="0.438"/>
<path d="M1077 304h10v2h-10z" fill="url(#hx)" opacity="0.125"/>
<path d="M1077 290h10v2h-10zM1077 293h10v2h-10zM1077 295h10v3h-10zM1077 303h10v2h-10zM1077 307h10v1h-10zM1077 308h10v3h-10zM1077 311h10v2h-10zM1077 316h10v1h-10z" fill="url(#hx)" opacity="0.188"/>
<path d="M1077 271h10v2h-10zM1077 272h10v2h-10zM1077 273h10v2h-10zM1077 283h10v3h-10zM1077 288h10v2h-10zM1077 300h10v2h-10zM1077 301h10v3h-10zM1077 303h10v3h-10zM1077 307h10v3h-10zM1077 309h10v2h-10zM1077 310h10v2h-10zM1077 313h10v1h-10z" fill="url(#hx)" opacity="0.250"/>
<path d="M1077 266h10v1h-10zM1077 274h10v1h-10zM1077 278h10v2h-10zM1077 282h10v2h-10zM1077 284h10v1h-10zM1077 294h10v2h-10zM1077 296h10v1h-10zM1077 297h10v1h-10zM1077 298h10v2h-10zM1077 304h10v1h-10zM1077 308h10v2h-10zM1077 313h10v2h-10z" fill="url(#hx)" opacity="0.312"/>
<path d="M1077 277h10v2h-10zM1077 279h10v2h-10zM1077 283h10v2h-10zM1077 285h10v2h-10z" fill="url(#hx)" opacity="0.375"/>
<path d="M1077 232h10v1h-10zM1077 234h10v2h-10zM1077 236h10v2h-10zM1077 244h10v2h-10zM1077 243h10v3h-10zM1077 247h10v2h-10zM1077 255h10v2h-10z" fill="url(#hy)" opacity="0.188"/>
<path d="M1077 242h10v2h-10zM1077 253h10v2h-10zM1077 258h10v3h-10zM1077 262h10v2h-10zM1077 263h10v2h-10zM1077 265h10v2h-10z" fill="url(#hy)" opacity="0.250"/>
<path d="M1077 246h10v3h-10zM1077 257h10v1h-10zM1077 258h10v2h-10zM1077 261h10v2h-10z" fill="url(#hy)" opacity="0.312"/>
<rect x="1077" y="219.13" width="1" height="142.53" fill="#fff" opacity="0.10"/>
<path d="M1087 353h10v2h-10z" fill="url(#hw)" opacity="0.062"/>
<path d="M1087 316h10v2h-10zM1087 324h10v3h-10zM1087 328h10v3h-10zM1087 368h10v2h-10zM1087 370h10v2h-10zM1087 374h10v2h-10z" fill="url(#hw)" opacity="0.125"/>
<path d="M1087 326h10v1h-10zM1087 329h10v2h-10zM1087 334h10v1h-10zM1087 360h10v1h-10zM1087 359h10v2h-10zM1087 362h10v2h-10zM1087 364h10v2h-10zM1087 366h10v2h-10zM1087 369h10v2h-10zM1087 375h10v2h-10zM1087 380h10v2h-10z" fill="url(#hw)" opacity="0.188"/>
<path d="M1087 318h10v3h-10zM1087 321h10v2h-10zM1087 335h10v2h-10zM1087 336h10v2h-10zM1087 349h10v2h-10zM1087 354h10v2h-10zM1087 356h10v2h-10zM1087 357h10v2h-10zM1087 360h10v2h-10zM1087 367h10v3h-10zM1087 378h10v2h-10z" fill="url(#hw)" opacity="0.250"/>
<path d="M1087 320h10v2h-10zM1087 332h10v2h-10zM1087 337h10v2h-10zM1087 345h10v2h-10zM1087 346h10v2h-10zM1087 351h10v2h-10zM1087 382h10v1h-10z" fill="url(#hw)" opacity="0.312"/>
<path d="M1087 340h10v3h-10zM1087 345h10v1h-10z" fill="url(#hw)" opacity="0.375"/>
<path d="M1087 344h10v3h-10zM1087 350h10v2h-10z" fill="url(#hw)" opacity="0.438"/>
<path d="M1087 302h10v2h-10z" fill="url(#hx)" opacity="0.062"/>
<path d="M1087 293h10v2h-10zM1087 298h10v1h-10zM1087 304h10v1h-10zM1087 303h10v2h-10zM1087 304h10v3h-10zM1087 306h10v2h-10zM1087 311h10v2h-10z" fill="url(#hx)" opacity="0.188"/>
<path d="M1087 269h10v1h-10zM1087 286h10v1h-10zM1087 294h10v2h-10zM1087 313h10v2h-10zM1087 313h10v3h-10z" fill="url(#hx)" opacity="0.250"/>
<path d="M1087 272h10v2h-10zM1087 276h10v2h-10zM1087 278h10v1h-10zM1087 280h10v1h-10zM1087 285h10v3h-10zM1087 287h10v2h-10zM1087 291h10v2h-10zM1087 299h10v2h-10zM1087 300h10v2h-10zM1087 312h10v2h-10zM1087 314h10v1h-10z" fill="url(#hx)" opacity="0.312"/>
<path d="M1087 281h10v2h-10z" fill="url(#hx)" opacity="0.375"/>
<path d="M1087 236h10v2h-10zM1087 241h10v2h-10zM1087 252h10v2h-10zM1087 254h10v2h-10zM1087 255h10v2h-10z" fill="url(#hy)" opacity="0.188"/>
<path d="M1087 248h10v2h-10zM1087 249h10v2h-10z" fill="url(#hy)" opacity="0.250"/>
<path d="M1087 264h10v2h-10z" fill="url(#hy)" opacity="0.312"/>
<rect x="1087" y="244.85" width="1" height="116.81" fill="#fff" opacity="0.11"/>
<path d="M1097 352h10v2h-10z" fill="url(#hw)" opacity="0.062"/>
<path d="M1097 331h10v2h-10zM1097 355h10v3h-10z" fill="url(#hw)" opacity="0.125"/>
<path d="M1097 321h10v2h-10zM1097 322h10v2h-10zM1097 324h10v1h-10zM1097 333h10v2h-10zM1097 353h10v2h-10zM1097 354h10v2h-10zM1097 353h10v3h-10zM1097 356h10v2h-10zM1097 358h10v2h-10zM1097 359h10v3h-10zM1097 366h10v3h-10zM1097 368h10v2h-10zM1097 370h10v2h-10zM1097 374h10v1h-10zM1097 375h10v2h-10z" fill="url(#hw)" opacity="0.188"/>
<path d="M1097 317h10v2h-10zM1097 318h10v2h-10zM1097 321h10v1h-10zM1097 320h10v2h-10zM1097 324h10v2h-10zM1097 325h10v2h-10zM1097 329h10v1h-10zM1097 327h10v3h-10zM1097 329h10v3h-10zM1097 330h10v3h-10zM1097 334h10v2h-10zM1097 336h10v1h-10zM1097 334h10v3h-10zM1097 337h10v2h-10zM1097 338h10v2h-10zM1097 337h10v3h-10zM1097 342h10v2h-10zM1097 345h10v1h-10zM1097 346h10v2h-10zM1097 347h10v2h-10zM1097 353h10v1h-10zM1097 356h10v1h-10zM1097 357h10v2h-10zM1097 359h10v2h-10zM1097 360h10v2h-10zM1097 362h10v2h-10zM1097 363h10v2h-10zM1097 362h10v3h-10zM1097 366h10v2h-10zM1097 369h10v2h-10zM1097 368h10v3h-10zM1097 371h10v2h-10zM1097 373h10v1h-10zM1097 376h10v2h-10zM1097 375h10v3h-10zM1097 378h10v3h-10z" fill="url(#hw)" opacity="0.250"/>
<path d="M1097 316h10v2h-10zM1097 328h10v2h-10zM1097 329h10v2h-10zM1097 335h10v2h-10zM1097 336h10v2h-10zM1097 340h10v1h-10zM1097 340h10v2h-10zM1097 341h10v2h-10zM1097 341h10v3h-10zM1097 343h10v2h-10zM1097 348h10v2h-10zM1097 349h10v2h-10zM1097 350h10v2h-10zM1097 361h10v3h-10zM1097 364h10v3h-10zM1097 374h10v2h-10z" fill="url(#hw)" opacity="0.312"/>
<path d="M1097 339h10v2h-10zM1097 344h10v2h-10zM1097 347h10v3h-10z" fill="url(#hw)" opacity="0.375"/>
<path d="M1097 342h10v3h-10zM1097 351h10v2h-10z" fill="url(#hw)" opacity="0.438"/>
<path d="M1097 286h10v2h-10zM1097 302h10v3h-10z" fill="url(#hx)" opacity="0.062"/>
<path d="M1097 289h10v2h-10zM1097 292h10v2h-10zM1097 301h10v2h-10zM1097 303h10v2h-10zM1097 304h10v3h-10z" fill="url(#hx)" opacity="0.125"/>
<path d="M1097 294h10v2h-10zM1097 296h10v2h-10zM1097 298h10v1h-10zM1097 296h10v3h-10zM1097 297h10v3h-10zM1097 298h10v3h-10zM1097 304h10v2h-10zM1097 305h10v2h-10zM1097 310h10v1h-10zM1097 309h10v2h-10zM1097 313h10v2h-10zM1097 315h10v1h-10zM1097 314h10v2h-10z" fill="url(#hx)" opacity="0.188"/>
<path d="M1097 283h10v1h-10zM1097 286h10v1h-10zM1097 288h10v2h-10zM1097 290h10v2h-10zM1097 295h10v2h-10zM1097 300h10v2h-10zM1097 307h10v2h-10zM1097 313h10v1h-10z" fill="url(#hx)" opacity="0.250"/>
<path d="M1097 267h10v2h-10zM1097 270h10v1h-10zM1097 270h10v2h-10zM1097 275h10v2h-10zM1097 278h10v1h-10zM1097 278h10v2h-10zM1097 279h10v3h-10zM1097 280h10v3h-10zM1097 283h10v2h-10zM1097 282h10v3h-10zM1097 287h10v2h-10zM1097 291h10v2h-10zM1097 293h10v2h-10zM1097 298h10v2h-10zM1097 306h10v2h-10zM1097 309h10v1h-10z" fill="url(#hx)" opacity="0.312"/>
<path d="M1097 273h10v2h-10zM1097 278h10v3h-10z" fill="url(#hx)" opacity="0.375"/>
<path d="M1097 220h10v2h-10zM1097 224h10v2h-10zM1097 228h10v3h-10zM1097 236h10v2h-10zM1097 238h10v2h-10zM1097 242h10v2h-10zM1097 248h10v2h-10z" fill="url(#hy)" opacity="0.188"/>
<path d="M1097 235h10v2h-10zM1097 240h10v1h-10zM1097 243h10v1h-10zM1097 247h10v2h-10zM1097 251h10v2h-10zM1097 257h10v1h-10zM1097 258h10v3h-10zM1097 263h10v2h-10z" fill="url(#hy)" opacity="0.250"/>
<path d="M1097 251h10v1h-10zM1097 258h10v2h-10zM1097 262h10v2h-10zM1097 265h10v1h-10zM1097 265h10v2h-10zM1097 264h10v3h-10z" fill="url(#hy)" opacity="0.312"/>
<rect x="1097" y="216.07" width="1" height="145.59" fill="#fff" opacity="0.09"/>
<path d="M1107 327h8v1h-8zM1107 356h8v1h-8z" fill="url(#hw)" opacity="0.125"/>
<path d="M1107 319h8v2h-8zM1107 319h8v3h-8zM1107 326h8v2h-8zM1107 328h8v2h-8zM1107 334h8v3h-8zM1107 338h8v2h-8zM1107 360h8v2h-8zM1107 363h8v3h-8zM1107 366h8v2h-8zM1107 377h8v1h-8zM1107 378h8v3h-8z" fill="url(#hw)" opacity="0.188"/>
<path d="M1107 316h8v2h-8zM1107 325h8v1h-8zM1107 329h8v2h-8zM1107 330h8v3h-8zM1107 345h8v2h-8zM1107 349h8v2h-8zM1107 353h8v2h-8zM1107 355h8v2h-8zM1107 357h8v2h-8zM1107 363h8v2h-8zM1107 365h8v2h-8zM1107 368h8v1h-8zM1107 369h8v3h-8zM1107 371h8v2h-8zM1107 375h8v1h-8zM1107 377h8v2h-8z" fill="url(#hw)" opacity="0.250"/>
<path d="M1107 332h8v2h-8zM1107 341h8v1h-8zM1107 344h8v1h-8zM1107 343h8v2h-8zM1107 350h8v2h-8zM1107 373h8v2h-8z" fill="url(#hw)" opacity="0.312"/>
<path d="M1107 321h8v1h-8zM1107 339h8v2h-8z" fill="url(#hw)" opacity="0.375"/>
<path d="M1107 302h8v2h-8z" fill="url(#hx)" opacity="0.062"/>
<path d="M1107 286h8v3h-8z" fill="url(#hx)" opacity="0.125"/>
<path d="M1107 285h8v2h-8zM1107 294h8v2h-8zM1107 296h8v2h-8zM1107 300h8v2h-8zM1107 301h8v3h-8zM1107 308h8v2h-8zM1107 312h8v2h-8zM1107 312h8v3h-8z" fill="url(#hx)" opacity="0.188"/>
<path d="M1107 280h8v2h-8zM1107 282h8v3h-8zM1107 290h8v1h-8zM1107 299h8v2h-8zM1107 313h8v2h-8zM1107 315h8v2h-8z" fill="url(#hx)" opacity="0.250"/>
<path d="M1107 268h8v3h-8zM1107 270h8v2h-8zM1107 275h8v2h-8z" fill="url(#hx)" opacity="0.312"/>
<path d="M1107 236h8v2h-8z" fill="url(#hy)" opacity="0.188"/>
<path d="M1107 242h8v2h-8zM1107 254h8v2h-8zM1107 255h8v2h-8z" fill="url(#hy)" opacity="0.250"/>
<path d="M1107 263h8v1h-8zM1107 265h8v2h-8z" fill="url(#hy)" opacity="0.312"/>
<rect x="1107" y="216.07" width="1" height="145.59" fill="#fff" opacity="0.13"/>
<rect x="1045" y="35" width="9" height="358.46" fill="url(#hk)" opacity="0.8"/>
<rect x="1048" y="393.46" width="6" height="9.54" fill="url(#hk)" opacity="0.5"/>
<rect x="1054" y="35" width="4" height="356.79" fill="#000"/>
<rect x="1054" y="391.79" width="4" height="11.21" fill="#676767"/>
<rect x="1114" y="195" width="1" height="208" fill="#4b4b4b"/>
</g></g>
<rect x="718.5" y="34.5" width="397" height="369" fill="none" stroke="#000" stroke-width="1"/>
<path d="M718.5 404v5" stroke="#000" stroke-width="1"/>
<text x="718.05" y="424.1" text-anchor="middle">0</text>
<path d="M768.5 404v5" stroke="#000" stroke-width="1"/>
<text x="767.61" y="424.1" text-anchor="middle">1.5</text>
<path d="M817.5 404v5" stroke="#000" stroke-width="1"/>
<text x="817.17" y="424.1" text-anchor="middle">3</text>
<path d="M867.5 404v5" stroke="#000" stroke-width="1"/>
<text x="866.74" y="424.1" text-anchor="middle">4.5</text>
<path d="M916.5 404v5" stroke="#000" stroke-width="1"/>
<text x="916.3" y="424.1" text-anchor="middle">6</text>
<path d="M966.5 404v5" stroke="#000" stroke-width="1"/>
<text x="965.86" y="424.1" text-anchor="middle">7.5</text>
<path d="M1015.5 404v5" stroke="#000" stroke-width="1"/>
<text x="1015.42" y="424.1" text-anchor="middle">9</text>
<path d="M1065.5 404v5" stroke="#000" stroke-width="1"/>
<text x="1064.99" y="424.1" text-anchor="middle">10</text>
<path d="M1115.5 404v5" stroke="#000" stroke-width="1"/>
<text x="1114.55" y="424.1" text-anchor="middle">12</text>
<path d="M718 403.5h-5" stroke="#000" stroke-width="1"/>
<text x="708.1" y="408.75" text-anchor="end">0</text>
<path d="M718 361.5h-5" stroke="#000" stroke-width="1"/>
<text x="708.1" y="366.75" text-anchor="end">2500</text>
<path d="M718 320.5h-5" stroke="#000" stroke-width="1"/>
<text x="708.1" y="324.75" text-anchor="end">5000</text>
<path d="M718 278.5h-5" stroke="#000" stroke-width="1"/>
<text x="708.1" y="282.75" text-anchor="end">7500</text>
<path d="M718 236.5h-5" stroke="#000" stroke-width="1"/>
<text x="708.1" y="240.75" text-anchor="end">10000</text>
<path d="M718 194.5h-5" stroke="#000" stroke-width="1"/>
<text x="708.1" y="198.75" text-anchor="end">12500</text>
<path d="M718 152.5h-5" stroke="#000" stroke-width="1"/>
<text x="708.1" y="156.75" text-anchor="end">15000</text>
<path d="M718 110.5h-5" stroke="#000" stroke-width="1"/>
<text x="708.1" y="114.75" text-anchor="end">17500</text>
<path d="M718 68.5h-5" stroke="#000" stroke-width="1"/>
<text x="708.1" y="72.75" text-anchor="end">20000</text>
<text x="916.4" y="442.8" text-anchor="middle">Time</text>
<text transform="translate(655.5 220.6) rotate(-90)" text-anchor="middle" letter-spacing="-0.4">Hz</text>
<rect x="1140.5" y="34.5" width="18" height="369" fill="url(#mg)" stroke="#000" stroke-width="1"/>
<path d="M1159 42.5h5" stroke="#000" stroke-width="1"/>
<text x="1167.8" y="46.75">+40dB</text>
<path d="M1159 88.5h5" stroke="#000" stroke-width="1"/>
<text x="1167.8" y="92.75">+30dB</text>
<path d="M1159 134.5h5" stroke="#000" stroke-width="1"/>
<text x="1167.8" y="139.75">+20dB</text>
<path d="M1159 181.5h5" stroke="#000" stroke-width="1"/>
<text x="1167.8" y="185.75">+10dB</text>
<path d="M1159 227.5h5" stroke="#000" stroke-width="1"/>
<text x="1167.8" y="231.75">+0dB</text>
<path d="M1159 273.5h5" stroke="#000" stroke-width="1"/>
<text x="1167.8" y="277.75">-10dB</text>
<path d="M1159 319.5h5" stroke="#000" stroke-width="1"/>
<text x="1167.8" y="323.75">-20dB</text>
<path d="M1159 365.5h5" stroke="#000" stroke-width="1"/>
<text x="1167.8" y="370.75">-30dB</text>
</svg></body></html>
